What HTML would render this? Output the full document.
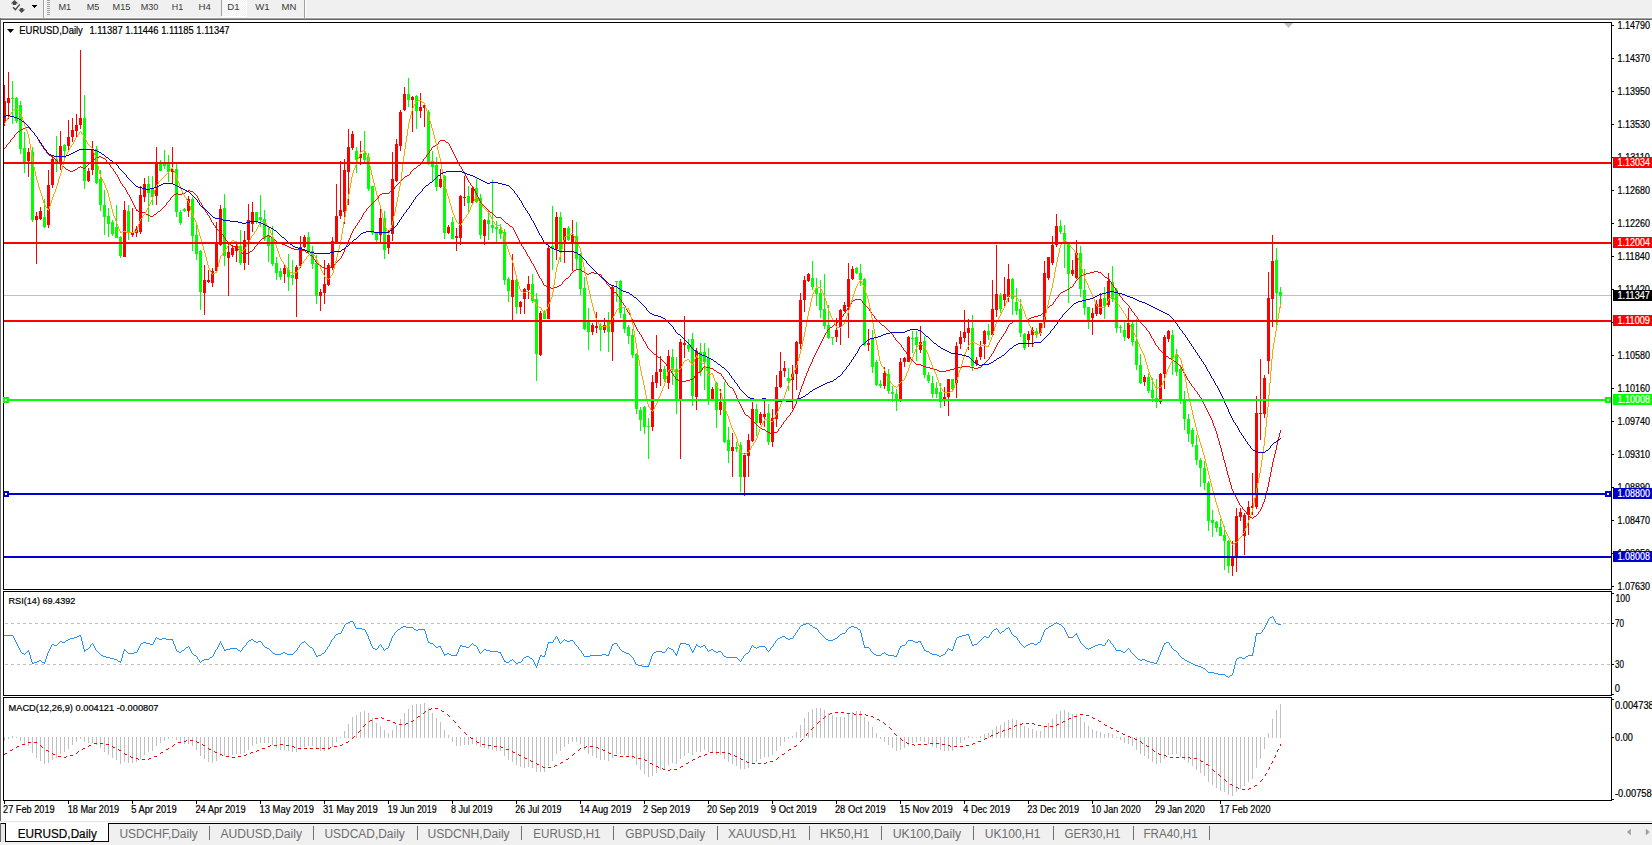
<!DOCTYPE html><html><head><meta charset="utf-8"><style>html,body{margin:0;padding:0;width:1652px;height:845px;overflow:hidden;background:#f0f0f0}svg{display:block}text{font-family:"Liberation Sans",sans-serif}</style></head><body>
<svg width="1652" height="845" viewBox="0 0 1652 845">
<g shape-rendering="crispEdges">
<rect x="0" y="0" width="1652" height="845" fill="#f0f0f0"/>
<rect x="0" y="17" width="1652" height="1" fill="#f8f8f8"/>
<rect x="0" y="18" width="1652" height="1" fill="#a0a0a0"/>
<rect x="0" y="19" width="1652" height="1" fill="#696969"/>
<rect x="1" y="20" width="1651" height="801" fill="#ffffff"/>
<rect x="0" y="18" width="1" height="803" fill="#696969"/>
<rect x="3" y="22" width="1609" height="1" fill="#000"/>
<rect x="3" y="589" width="1609" height="1" fill="#000"/>
<rect x="3" y="22" width="1" height="568" fill="#000"/>
<rect x="1611" y="22" width="1" height="568" fill="#000"/>
<rect x="3" y="591" width="1609" height="1" fill="#000"/>
<rect x="3" y="695" width="1609" height="1" fill="#000"/>
<rect x="3" y="591" width="1" height="105" fill="#000"/>
<rect x="1611" y="591" width="1" height="105" fill="#000"/>
<rect x="3" y="697" width="1609" height="1" fill="#000"/>
<rect x="3" y="800" width="1609" height="1" fill="#000"/>
<rect x="3" y="697" width="1" height="104" fill="#000"/>
<rect x="1611" y="697" width="1" height="104" fill="#000"/>
</g>
<g shape-rendering="crispEdges">
<rect x="43" y="0" width="1" height="18" fill="#a0a0a0"/>
<rect x="44" y="0" width="1" height="18" fill="#ffffff"/>
<rect x="47" y="0" width="3" height="1" fill="#a0a0a0"/>
<rect x="47" y="2" width="3" height="1" fill="#a0a0a0"/>
<rect x="47" y="4" width="3" height="1" fill="#a0a0a0"/>
<rect x="47" y="6" width="3" height="1" fill="#a0a0a0"/>
<rect x="47" y="8" width="3" height="1" fill="#a0a0a0"/>
<rect x="47" y="10" width="3" height="1" fill="#a0a0a0"/>
<rect x="47" y="12" width="3" height="1" fill="#a0a0a0"/>
<rect x="47" y="14" width="3" height="1" fill="#a0a0a0"/>
<rect x="221" y="0" width="1" height="16" fill="#a0a0a0"/>
<defs><pattern id="chk" x="0" y="0" width="2" height="2" patternUnits="userSpaceOnUse"><rect x="0" y="0" width="2" height="2" fill="#f0f0f0"/><rect x="0" y="0" width="1" height="1" fill="#ffffff"/><rect x="1" y="1" width="1" height="1" fill="#ffffff"/></pattern></defs>
<rect x="222" y="0" width="24" height="16" fill="url(#chk)"/>
<rect x="246" y="0" width="1" height="17" fill="#ffffff"/>
<rect x="221" y="16" width="26" height="1" fill="#ffffff"/>
<rect x="304" y="0" width="1" height="18" fill="#a0a0a0"/>
<rect x="305" y="0" width="1" height="18" fill="#ffffff"/>
</g>
<g fill="#4a4a4a">
<path d="M14.5 0 L18.2 3.6 L16.2 3.6 L16.2 5 L12.8 5 L12.8 3.6 L10.8 3.6 Z"/>
<path d="M20.2 8 L23.2 8 L23.2 9.4 L25.2 9.4 L21.7 13 L18.2 9.4 L20.2 9.4 Z"/>
</g>
<path d="M13 7.2 L15.4 9.6 L19.8 4.4" stroke="#4a4a4a" stroke-width="1.4" fill="none"/>
<path d="M31 5 L37 5 L34 8 Z" fill="#000" shape-rendering="crispEdges"/>
<text x="58.40" y="10" font-size="9.6" fill="#3a3a3a" textLength="12.81" lengthAdjust="spacingAndGlyphs">M1</text>
<text x="86.70" y="10" font-size="9.6" fill="#3a3a3a" textLength="12.61" lengthAdjust="spacingAndGlyphs">M5</text>
<text x="112.60" y="10" font-size="9.6" fill="#3a3a3a" textLength="17.70" lengthAdjust="spacingAndGlyphs">M15</text>
<text x="140.70" y="10" font-size="9.6" fill="#3a3a3a" textLength="17.70" lengthAdjust="spacingAndGlyphs">M30</text>
<text x="171.70" y="10" font-size="9.6" fill="#3a3a3a" textLength="11.40" lengthAdjust="spacingAndGlyphs">H1</text>
<text x="198.60" y="10" font-size="9.6" fill="#3a3a3a" textLength="12.30" lengthAdjust="spacingAndGlyphs">H4</text>
<text x="227.20" y="10" font-size="9.6" fill="#3a3a3a" textLength="12.30" lengthAdjust="spacingAndGlyphs">D1</text>
<text x="255.20" y="10" font-size="9.6" fill="#3a3a3a" textLength="14.30" lengthAdjust="spacingAndGlyphs">W1</text>
<text x="281.50" y="10" font-size="9.6" fill="#3a3a3a" textLength="14.90" lengthAdjust="spacingAndGlyphs">MN</text>
<svg x="4" y="23" width="1607" height="566" viewBox="4 23 1607 566" overflow="hidden">
<g shape-rendering="crispEdges">
<rect x="4" y="295" width="1607" height="1" fill="#c0c0c0"/>
<rect x="4" y="85" width="1" height="41" fill="#ff0000"/>
<rect x="3" y="101" width="3" height="22" fill="#ff0000"/>
<rect x="8" y="72" width="1" height="47" fill="#ff0000"/>
<rect x="7" y="98" width="3" height="5" fill="#ff0000"/>
<rect x="12" y="81" width="1" height="43" fill="#00ff00"/>
<rect x="11" y="98" width="3" height="1" fill="#00ff00"/>
<rect x="16" y="97" width="1" height="26" fill="#00ff00"/>
<rect x="15" y="98" width="3" height="23" fill="#00ff00"/>
<rect x="20" y="101" width="1" height="53" fill="#00ff00"/>
<rect x="19" y="105" width="3" height="44" fill="#00ff00"/>
<rect x="24" y="132" width="1" height="41" fill="#00ff00"/>
<rect x="23" y="148" width="3" height="15" fill="#00ff00"/>
<rect x="28" y="148" width="1" height="29" fill="#ff0000"/>
<rect x="27" y="152" width="3" height="9" fill="#ff0000"/>
<rect x="32" y="147" width="1" height="75" fill="#00ff00"/>
<rect x="31" y="152" width="3" height="68" fill="#00ff00"/>
<rect x="36" y="212" width="1" height="52" fill="#ff0000"/>
<rect x="35" y="216" width="3" height="4" fill="#ff0000"/>
<rect x="40" y="207" width="1" height="13" fill="#ff0000"/>
<rect x="39" y="211" width="3" height="8" fill="#ff0000"/>
<rect x="44" y="199" width="1" height="29" fill="#00ff00"/>
<rect x="43" y="217" width="3" height="10" fill="#00ff00"/>
<rect x="48" y="170" width="1" height="58" fill="#ff0000"/>
<rect x="47" y="185" width="3" height="40" fill="#ff0000"/>
<rect x="52" y="156" width="1" height="32" fill="#ff0000"/>
<rect x="51" y="159" width="3" height="26" fill="#ff0000"/>
<rect x="56" y="136" width="1" height="36" fill="#00ff00"/>
<rect x="55" y="159" width="3" height="3" fill="#00ff00"/>
<rect x="60" y="131" width="1" height="39" fill="#ff0000"/>
<rect x="59" y="146" width="3" height="18" fill="#ff0000"/>
<rect x="64" y="144" width="1" height="14" fill="#00ff00"/>
<rect x="63" y="145" width="3" height="6" fill="#00ff00"/>
<rect x="68" y="120" width="1" height="32" fill="#ff0000"/>
<rect x="67" y="137" width="3" height="9" fill="#ff0000"/>
<rect x="72" y="118" width="1" height="24" fill="#ff0000"/>
<rect x="71" y="130" width="3" height="7" fill="#ff0000"/>
<rect x="76" y="114" width="1" height="23" fill="#ff0000"/>
<rect x="75" y="125" width="3" height="6" fill="#ff0000"/>
<rect x="80" y="50" width="1" height="79" fill="#ff0000"/>
<rect x="79" y="118" width="3" height="7" fill="#ff0000"/>
<rect x="84" y="95" width="1" height="94" fill="#00ff00"/>
<rect x="83" y="118" width="3" height="63" fill="#00ff00"/>
<rect x="88" y="168" width="1" height="14" fill="#ff0000"/>
<rect x="87" y="171" width="3" height="10" fill="#ff0000"/>
<rect x="92" y="141" width="1" height="34" fill="#ff0000"/>
<rect x="91" y="149" width="3" height="21" fill="#ff0000"/>
<rect x="96" y="146" width="1" height="38" fill="#00ff00"/>
<rect x="95" y="149" width="3" height="34" fill="#00ff00"/>
<rect x="100" y="170" width="1" height="41" fill="#00ff00"/>
<rect x="99" y="179" width="3" height="26" fill="#00ff00"/>
<rect x="104" y="190" width="1" height="45" fill="#00ff00"/>
<rect x="103" y="205" width="3" height="12" fill="#00ff00"/>
<rect x="108" y="208" width="1" height="29" fill="#00ff00"/>
<rect x="107" y="216" width="3" height="8" fill="#00ff00"/>
<rect x="112" y="220" width="1" height="16" fill="#00ff00"/>
<rect x="111" y="222" width="3" height="12" fill="#00ff00"/>
<rect x="116" y="205" width="1" height="33" fill="#00ff00"/>
<rect x="115" y="227" width="3" height="11" fill="#00ff00"/>
<rect x="120" y="236" width="1" height="22" fill="#00ff00"/>
<rect x="119" y="237" width="3" height="19" fill="#00ff00"/>
<rect x="124" y="201" width="1" height="56" fill="#ff0000"/>
<rect x="123" y="210" width="3" height="47" fill="#ff0000"/>
<rect x="128" y="205" width="1" height="35" fill="#00ff00"/>
<rect x="127" y="211" width="3" height="22" fill="#00ff00"/>
<rect x="132" y="208" width="1" height="29" fill="#ff0000"/>
<rect x="131" y="233" width="3" height="2" fill="#ff0000"/>
<rect x="136" y="226" width="1" height="11" fill="#ff0000"/>
<rect x="135" y="229" width="3" height="4" fill="#ff0000"/>
<rect x="140" y="186" width="1" height="48" fill="#ff0000"/>
<rect x="139" y="195" width="3" height="37" fill="#ff0000"/>
<rect x="144" y="178" width="1" height="24" fill="#ff0000"/>
<rect x="143" y="184" width="3" height="13" fill="#ff0000"/>
<rect x="148" y="176" width="1" height="46" fill="#00ff00"/>
<rect x="147" y="184" width="3" height="9" fill="#00ff00"/>
<rect x="152" y="176" width="1" height="29" fill="#00ff00"/>
<rect x="151" y="188" width="3" height="9" fill="#00ff00"/>
<rect x="156" y="147" width="1" height="58" fill="#ff0000"/>
<rect x="155" y="163" width="3" height="33" fill="#ff0000"/>
<rect x="160" y="160" width="1" height="11" fill="#00ff00"/>
<rect x="159" y="164" width="3" height="7" fill="#00ff00"/>
<rect x="164" y="150" width="1" height="19" fill="#00ff00"/>
<rect x="163" y="164" width="3" height="2" fill="#00ff00"/>
<rect x="168" y="155" width="1" height="27" fill="#00ff00"/>
<rect x="167" y="164" width="3" height="8" fill="#00ff00"/>
<rect x="172" y="147" width="1" height="36" fill="#ff0000"/>
<rect x="171" y="169" width="3" height="3" fill="#ff0000"/>
<rect x="176" y="164" width="1" height="53" fill="#00ff00"/>
<rect x="175" y="169" width="3" height="43" fill="#00ff00"/>
<rect x="180" y="210" width="1" height="15" fill="#00ff00"/>
<rect x="179" y="212" width="3" height="11" fill="#00ff00"/>
<rect x="184" y="208" width="1" height="4" fill="#00ff00"/>
<rect x="183" y="209" width="3" height="2" fill="#00ff00"/>
<rect x="188" y="196" width="1" height="21" fill="#ff0000"/>
<rect x="187" y="199" width="3" height="12" fill="#ff0000"/>
<rect x="192" y="197" width="1" height="54" fill="#00ff00"/>
<rect x="191" y="199" width="3" height="37" fill="#00ff00"/>
<rect x="196" y="225" width="1" height="35" fill="#00ff00"/>
<rect x="195" y="235" width="3" height="19" fill="#00ff00"/>
<rect x="200" y="250" width="1" height="60" fill="#00ff00"/>
<rect x="199" y="251" width="3" height="41" fill="#00ff00"/>
<rect x="204" y="265" width="1" height="50" fill="#ff0000"/>
<rect x="203" y="280" width="3" height="13" fill="#ff0000"/>
<rect x="208" y="270" width="1" height="13" fill="#ff0000"/>
<rect x="207" y="280" width="3" height="2" fill="#ff0000"/>
<rect x="212" y="268" width="1" height="19" fill="#ff0000"/>
<rect x="211" y="271" width="3" height="12" fill="#ff0000"/>
<rect x="216" y="222" width="1" height="51" fill="#ff0000"/>
<rect x="215" y="243" width="3" height="28" fill="#ff0000"/>
<rect x="220" y="205" width="1" height="41" fill="#ff0000"/>
<rect x="219" y="209" width="3" height="36" fill="#ff0000"/>
<rect x="224" y="194" width="1" height="72" fill="#00ff00"/>
<rect x="223" y="208" width="3" height="48" fill="#00ff00"/>
<rect x="228" y="243" width="1" height="53" fill="#ff0000"/>
<rect x="227" y="252" width="3" height="6" fill="#ff0000"/>
<rect x="232" y="245" width="1" height="12" fill="#ff0000"/>
<rect x="231" y="248" width="3" height="7" fill="#ff0000"/>
<rect x="236" y="243" width="1" height="19" fill="#ff0000"/>
<rect x="235" y="246" width="3" height="5" fill="#ff0000"/>
<rect x="240" y="230" width="1" height="35" fill="#00ff00"/>
<rect x="239" y="246" width="3" height="17" fill="#00ff00"/>
<rect x="244" y="231" width="1" height="39" fill="#ff0000"/>
<rect x="243" y="240" width="3" height="23" fill="#ff0000"/>
<rect x="248" y="204" width="1" height="61" fill="#ff0000"/>
<rect x="247" y="220" width="3" height="20" fill="#ff0000"/>
<rect x="252" y="202" width="1" height="30" fill="#ff0000"/>
<rect x="251" y="212" width="3" height="12" fill="#ff0000"/>
<rect x="256" y="212" width="1" height="12" fill="#00ff00"/>
<rect x="255" y="212" width="3" height="10" fill="#00ff00"/>
<rect x="260" y="195" width="1" height="32" fill="#00ff00"/>
<rect x="259" y="217" width="3" height="3" fill="#00ff00"/>
<rect x="264" y="210" width="1" height="31" fill="#00ff00"/>
<rect x="263" y="219" width="3" height="20" fill="#00ff00"/>
<rect x="268" y="226" width="1" height="36" fill="#00ff00"/>
<rect x="267" y="235" width="3" height="11" fill="#00ff00"/>
<rect x="272" y="226" width="1" height="40" fill="#00ff00"/>
<rect x="271" y="237" width="3" height="27" fill="#00ff00"/>
<rect x="276" y="257" width="1" height="23" fill="#00ff00"/>
<rect x="275" y="263" width="3" height="10" fill="#00ff00"/>
<rect x="280" y="268" width="1" height="12" fill="#00ff00"/>
<rect x="279" y="271" width="3" height="6" fill="#00ff00"/>
<rect x="284" y="265" width="1" height="18" fill="#ff0000"/>
<rect x="283" y="268" width="3" height="6" fill="#ff0000"/>
<rect x="288" y="254" width="1" height="37" fill="#00ff00"/>
<rect x="287" y="270" width="3" height="7" fill="#00ff00"/>
<rect x="292" y="260" width="1" height="25" fill="#00ff00"/>
<rect x="291" y="275" width="3" height="3" fill="#00ff00"/>
<rect x="296" y="265" width="1" height="52" fill="#ff0000"/>
<rect x="295" y="267" width="3" height="12" fill="#ff0000"/>
<rect x="300" y="236" width="1" height="32" fill="#ff0000"/>
<rect x="299" y="247" width="3" height="19" fill="#ff0000"/>
<rect x="304" y="235" width="1" height="13" fill="#ff0000"/>
<rect x="303" y="237" width="3" height="10" fill="#ff0000"/>
<rect x="308" y="232" width="1" height="21" fill="#00ff00"/>
<rect x="307" y="237" width="3" height="15" fill="#00ff00"/>
<rect x="312" y="246" width="1" height="23" fill="#00ff00"/>
<rect x="311" y="251" width="3" height="13" fill="#00ff00"/>
<rect x="316" y="255" width="1" height="49" fill="#00ff00"/>
<rect x="315" y="263" width="3" height="33" fill="#00ff00"/>
<rect x="320" y="289" width="1" height="22" fill="#ff0000"/>
<rect x="319" y="292" width="3" height="4" fill="#ff0000"/>
<rect x="324" y="260" width="1" height="44" fill="#ff0000"/>
<rect x="323" y="284" width="3" height="9" fill="#ff0000"/>
<rect x="328" y="263" width="1" height="23" fill="#ff0000"/>
<rect x="327" y="265" width="3" height="20" fill="#ff0000"/>
<rect x="332" y="237" width="1" height="33" fill="#ff0000"/>
<rect x="331" y="241" width="3" height="27" fill="#ff0000"/>
<rect x="336" y="184" width="1" height="59" fill="#ff0000"/>
<rect x="335" y="216" width="3" height="26" fill="#ff0000"/>
<rect x="340" y="161" width="1" height="58" fill="#ff0000"/>
<rect x="339" y="210" width="3" height="6" fill="#ff0000"/>
<rect x="344" y="159" width="1" height="65" fill="#ff0000"/>
<rect x="343" y="170" width="3" height="42" fill="#ff0000"/>
<rect x="348" y="129" width="1" height="76" fill="#ff0000"/>
<rect x="347" y="147" width="3" height="25" fill="#ff0000"/>
<rect x="352" y="131" width="1" height="19" fill="#ff0000"/>
<rect x="351" y="134" width="3" height="14" fill="#ff0000"/>
<rect x="356" y="147" width="1" height="26" fill="#00ff00"/>
<rect x="355" y="151" width="3" height="9" fill="#00ff00"/>
<rect x="360" y="141" width="1" height="24" fill="#ff0000"/>
<rect x="359" y="154" width="3" height="4" fill="#ff0000"/>
<rect x="364" y="131" width="1" height="31" fill="#00ff00"/>
<rect x="363" y="153" width="3" height="7" fill="#00ff00"/>
<rect x="368" y="153" width="1" height="38" fill="#00ff00"/>
<rect x="367" y="157" width="3" height="32" fill="#00ff00"/>
<rect x="372" y="186" width="1" height="49" fill="#00ff00"/>
<rect x="371" y="186" width="3" height="47" fill="#00ff00"/>
<rect x="376" y="232" width="1" height="10" fill="#00ff00"/>
<rect x="375" y="233" width="3" height="7" fill="#00ff00"/>
<rect x="380" y="209" width="1" height="34" fill="#ff0000"/>
<rect x="379" y="218" width="3" height="17" fill="#ff0000"/>
<rect x="384" y="211" width="1" height="48" fill="#00ff00"/>
<rect x="383" y="218" width="3" height="32" fill="#00ff00"/>
<rect x="388" y="230" width="1" height="24" fill="#ff0000"/>
<rect x="387" y="235" width="3" height="13" fill="#ff0000"/>
<rect x="392" y="152" width="1" height="89" fill="#ff0000"/>
<rect x="391" y="179" width="3" height="55" fill="#ff0000"/>
<rect x="396" y="139" width="1" height="43" fill="#ff0000"/>
<rect x="395" y="144" width="3" height="37" fill="#ff0000"/>
<rect x="400" y="110" width="1" height="41" fill="#ff0000"/>
<rect x="399" y="112" width="3" height="34" fill="#ff0000"/>
<rect x="404" y="87" width="1" height="24" fill="#ff0000"/>
<rect x="403" y="94" width="3" height="16" fill="#ff0000"/>
<rect x="408" y="78" width="1" height="29" fill="#00ff00"/>
<rect x="407" y="94" width="3" height="6" fill="#00ff00"/>
<rect x="412" y="96" width="1" height="36" fill="#ff0000"/>
<rect x="411" y="97" width="3" height="3" fill="#ff0000"/>
<rect x="416" y="95" width="1" height="34" fill="#00ff00"/>
<rect x="415" y="96" width="3" height="15" fill="#00ff00"/>
<rect x="420" y="93" width="1" height="25" fill="#ff0000"/>
<rect x="419" y="107" width="3" height="4" fill="#ff0000"/>
<rect x="424" y="104" width="1" height="23" fill="#ff0000"/>
<rect x="423" y="105" width="3" height="3" fill="#ff0000"/>
<rect x="428" y="110" width="1" height="55" fill="#00ff00"/>
<rect x="427" y="112" width="3" height="51" fill="#00ff00"/>
<rect x="432" y="151" width="1" height="30" fill="#00ff00"/>
<rect x="431" y="161" width="3" height="6" fill="#00ff00"/>
<rect x="436" y="157" width="1" height="34" fill="#00ff00"/>
<rect x="435" y="165" width="3" height="22" fill="#00ff00"/>
<rect x="440" y="169" width="1" height="19" fill="#ff0000"/>
<rect x="439" y="179" width="3" height="8" fill="#ff0000"/>
<rect x="444" y="175" width="1" height="64" fill="#00ff00"/>
<rect x="443" y="176" width="3" height="57" fill="#00ff00"/>
<rect x="448" y="225" width="1" height="9" fill="#ff0000"/>
<rect x="447" y="227" width="3" height="6" fill="#ff0000"/>
<rect x="452" y="217" width="1" height="22" fill="#00ff00"/>
<rect x="451" y="222" width="3" height="17" fill="#00ff00"/>
<rect x="456" y="228" width="1" height="23" fill="#ff0000"/>
<rect x="455" y="236" width="3" height="2" fill="#ff0000"/>
<rect x="460" y="195" width="1" height="50" fill="#ff0000"/>
<rect x="459" y="196" width="3" height="42" fill="#ff0000"/>
<rect x="464" y="176" width="1" height="30" fill="#ff0000"/>
<rect x="463" y="197" width="3" height="1" fill="#ff0000"/>
<rect x="468" y="186" width="1" height="27" fill="#00ff00"/>
<rect x="467" y="196" width="3" height="7" fill="#00ff00"/>
<rect x="472" y="187" width="1" height="17" fill="#ff0000"/>
<rect x="471" y="188" width="3" height="15" fill="#ff0000"/>
<rect x="476" y="179" width="1" height="24" fill="#00ff00"/>
<rect x="475" y="188" width="3" height="14" fill="#00ff00"/>
<rect x="480" y="194" width="1" height="45" fill="#00ff00"/>
<rect x="479" y="198" width="3" height="37" fill="#00ff00"/>
<rect x="484" y="219" width="1" height="26" fill="#ff0000"/>
<rect x="483" y="220" width="3" height="16" fill="#ff0000"/>
<rect x="488" y="210" width="1" height="30" fill="#00ff00"/>
<rect x="487" y="220" width="3" height="4" fill="#00ff00"/>
<rect x="492" y="180" width="1" height="53" fill="#00ff00"/>
<rect x="491" y="225" width="3" height="3" fill="#00ff00"/>
<rect x="496" y="221" width="1" height="21" fill="#00ff00"/>
<rect x="495" y="227" width="3" height="2" fill="#00ff00"/>
<rect x="500" y="224" width="1" height="15" fill="#00ff00"/>
<rect x="499" y="229" width="3" height="5" fill="#00ff00"/>
<rect x="504" y="229" width="1" height="56" fill="#00ff00"/>
<rect x="503" y="232" width="3" height="48" fill="#00ff00"/>
<rect x="508" y="277" width="1" height="25" fill="#00ff00"/>
<rect x="507" y="279" width="3" height="12" fill="#00ff00"/>
<rect x="512" y="254" width="1" height="68" fill="#ff0000"/>
<rect x="511" y="280" width="3" height="17" fill="#ff0000"/>
<rect x="516" y="275" width="1" height="39" fill="#00ff00"/>
<rect x="515" y="280" width="3" height="27" fill="#00ff00"/>
<rect x="520" y="301" width="1" height="13" fill="#ff0000"/>
<rect x="519" y="302" width="3" height="5" fill="#ff0000"/>
<rect x="524" y="288" width="1" height="26" fill="#ff0000"/>
<rect x="523" y="289" width="3" height="10" fill="#ff0000"/>
<rect x="528" y="276" width="1" height="23" fill="#ff0000"/>
<rect x="527" y="284" width="3" height="6" fill="#ff0000"/>
<rect x="532" y="274" width="1" height="29" fill="#00ff00"/>
<rect x="531" y="284" width="3" height="17" fill="#00ff00"/>
<rect x="536" y="293" width="1" height="88" fill="#00ff00"/>
<rect x="535" y="299" width="3" height="55" fill="#00ff00"/>
<rect x="540" y="311" width="1" height="45" fill="#ff0000"/>
<rect x="539" y="313" width="3" height="42" fill="#ff0000"/>
<rect x="544" y="310" width="1" height="9" fill="#00ff00"/>
<rect x="543" y="313" width="3" height="6" fill="#00ff00"/>
<rect x="548" y="246" width="1" height="73" fill="#ff0000"/>
<rect x="547" y="248" width="3" height="71" fill="#ff0000"/>
<rect x="552" y="206" width="1" height="64" fill="#00ff00"/>
<rect x="551" y="246" width="3" height="3" fill="#00ff00"/>
<rect x="556" y="212" width="1" height="48" fill="#ff0000"/>
<rect x="555" y="217" width="3" height="32" fill="#ff0000"/>
<rect x="560" y="212" width="1" height="50" fill="#00ff00"/>
<rect x="559" y="217" width="3" height="34" fill="#00ff00"/>
<rect x="564" y="228" width="1" height="35" fill="#ff0000"/>
<rect x="563" y="228" width="3" height="14" fill="#ff0000"/>
<rect x="568" y="226" width="1" height="15" fill="#00ff00"/>
<rect x="567" y="228" width="3" height="12" fill="#00ff00"/>
<rect x="572" y="220" width="1" height="51" fill="#ff0000"/>
<rect x="571" y="235" width="3" height="8" fill="#ff0000"/>
<rect x="576" y="222" width="1" height="48" fill="#00ff00"/>
<rect x="575" y="236" width="3" height="23" fill="#00ff00"/>
<rect x="580" y="253" width="1" height="42" fill="#00ff00"/>
<rect x="579" y="254" width="3" height="35" fill="#00ff00"/>
<rect x="584" y="277" width="1" height="53" fill="#00ff00"/>
<rect x="583" y="288" width="3" height="41" fill="#00ff00"/>
<rect x="588" y="308" width="1" height="42" fill="#00ff00"/>
<rect x="587" y="320" width="3" height="12" fill="#00ff00"/>
<rect x="592" y="323" width="1" height="12" fill="#ff0000"/>
<rect x="591" y="325" width="3" height="7" fill="#ff0000"/>
<rect x="596" y="312" width="1" height="21" fill="#ff0000"/>
<rect x="595" y="326" width="3" height="2" fill="#ff0000"/>
<rect x="600" y="323" width="1" height="28" fill="#00ff00"/>
<rect x="599" y="326" width="3" height="4" fill="#00ff00"/>
<rect x="604" y="318" width="1" height="15" fill="#ff0000"/>
<rect x="603" y="325" width="3" height="5" fill="#ff0000"/>
<rect x="608" y="312" width="1" height="40" fill="#00ff00"/>
<rect x="607" y="321" width="3" height="11" fill="#00ff00"/>
<rect x="612" y="286" width="1" height="75" fill="#ff0000"/>
<rect x="611" y="287" width="3" height="45" fill="#ff0000"/>
<rect x="616" y="281" width="1" height="21" fill="#00ff00"/>
<rect x="615" y="281" width="3" height="1" fill="#00ff00"/>
<rect x="620" y="280" width="1" height="38" fill="#00ff00"/>
<rect x="619" y="281" width="3" height="32" fill="#00ff00"/>
<rect x="624" y="307" width="1" height="26" fill="#00ff00"/>
<rect x="623" y="314" width="3" height="15" fill="#00ff00"/>
<rect x="628" y="325" width="1" height="19" fill="#00ff00"/>
<rect x="627" y="327" width="3" height="9" fill="#00ff00"/>
<rect x="632" y="329" width="1" height="29" fill="#00ff00"/>
<rect x="631" y="335" width="3" height="20" fill="#00ff00"/>
<rect x="636" y="353" width="1" height="61" fill="#00ff00"/>
<rect x="635" y="354" width="3" height="55" fill="#00ff00"/>
<rect x="640" y="407" width="1" height="24" fill="#00ff00"/>
<rect x="639" y="410" width="3" height="10" fill="#00ff00"/>
<rect x="644" y="406" width="1" height="28" fill="#00ff00"/>
<rect x="643" y="407" width="3" height="20" fill="#00ff00"/>
<rect x="648" y="418" width="1" height="41" fill="#00ff00"/>
<rect x="647" y="426" width="3" height="1" fill="#00ff00"/>
<rect x="652" y="375" width="1" height="56" fill="#ff0000"/>
<rect x="651" y="382" width="3" height="45" fill="#ff0000"/>
<rect x="656" y="335" width="1" height="53" fill="#ff0000"/>
<rect x="655" y="372" width="3" height="11" fill="#ff0000"/>
<rect x="660" y="356" width="1" height="30" fill="#ff0000"/>
<rect x="659" y="369" width="3" height="3" fill="#ff0000"/>
<rect x="664" y="366" width="1" height="16" fill="#00ff00"/>
<rect x="663" y="369" width="3" height="10" fill="#00ff00"/>
<rect x="668" y="350" width="1" height="39" fill="#ff0000"/>
<rect x="667" y="356" width="3" height="27" fill="#ff0000"/>
<rect x="672" y="349" width="1" height="36" fill="#00ff00"/>
<rect x="671" y="357" width="3" height="13" fill="#00ff00"/>
<rect x="676" y="357" width="1" height="57" fill="#00ff00"/>
<rect x="675" y="369" width="3" height="32" fill="#00ff00"/>
<rect x="680" y="339" width="1" height="120" fill="#ff0000"/>
<rect x="679" y="342" width="3" height="59" fill="#ff0000"/>
<rect x="684" y="316" width="1" height="42" fill="#ff0000"/>
<rect x="683" y="343" width="3" height="2" fill="#ff0000"/>
<rect x="688" y="339" width="1" height="13" fill="#00ff00"/>
<rect x="687" y="345" width="3" height="4" fill="#00ff00"/>
<rect x="692" y="333" width="1" height="73" fill="#00ff00"/>
<rect x="691" y="339" width="3" height="57" fill="#00ff00"/>
<rect x="696" y="348" width="1" height="62" fill="#ff0000"/>
<rect x="695" y="351" width="3" height="46" fill="#ff0000"/>
<rect x="700" y="343" width="1" height="33" fill="#00ff00"/>
<rect x="699" y="352" width="3" height="20" fill="#00ff00"/>
<rect x="704" y="343" width="1" height="47" fill="#00ff00"/>
<rect x="703" y="352" width="3" height="10" fill="#00ff00"/>
<rect x="708" y="348" width="1" height="57" fill="#00ff00"/>
<rect x="707" y="358" width="3" height="43" fill="#00ff00"/>
<rect x="712" y="387" width="1" height="12" fill="#ff0000"/>
<rect x="711" y="389" width="3" height="10" fill="#ff0000"/>
<rect x="716" y="382" width="1" height="46" fill="#00ff00"/>
<rect x="715" y="383" width="3" height="27" fill="#00ff00"/>
<rect x="720" y="389" width="1" height="26" fill="#ff0000"/>
<rect x="719" y="402" width="3" height="8" fill="#ff0000"/>
<rect x="724" y="382" width="1" height="61" fill="#00ff00"/>
<rect x="723" y="402" width="3" height="40" fill="#00ff00"/>
<rect x="728" y="427" width="1" height="36" fill="#00ff00"/>
<rect x="727" y="440" width="3" height="11" fill="#00ff00"/>
<rect x="732" y="433" width="1" height="44" fill="#ff0000"/>
<rect x="731" y="447" width="3" height="4" fill="#ff0000"/>
<rect x="736" y="442" width="1" height="10" fill="#00ff00"/>
<rect x="735" y="447" width="3" height="2" fill="#00ff00"/>
<rect x="740" y="442" width="1" height="50" fill="#00ff00"/>
<rect x="739" y="445" width="3" height="32" fill="#00ff00"/>
<rect x="744" y="453" width="1" height="43" fill="#ff0000"/>
<rect x="743" y="455" width="3" height="22" fill="#ff0000"/>
<rect x="748" y="434" width="1" height="43" fill="#ff0000"/>
<rect x="747" y="440" width="3" height="16" fill="#ff0000"/>
<rect x="752" y="402" width="1" height="40" fill="#ff0000"/>
<rect x="751" y="409" width="3" height="32" fill="#ff0000"/>
<rect x="756" y="404" width="1" height="32" fill="#00ff00"/>
<rect x="755" y="409" width="3" height="14" fill="#00ff00"/>
<rect x="760" y="412" width="1" height="13" fill="#ff0000"/>
<rect x="759" y="414" width="3" height="9" fill="#ff0000"/>
<rect x="764" y="401" width="1" height="26" fill="#ff0000"/>
<rect x="763" y="414" width="3" height="3" fill="#ff0000"/>
<rect x="768" y="404" width="1" height="41" fill="#00ff00"/>
<rect x="767" y="413" width="3" height="29" fill="#00ff00"/>
<rect x="772" y="409" width="1" height="38" fill="#ff0000"/>
<rect x="771" y="418" width="3" height="24" fill="#ff0000"/>
<rect x="776" y="375" width="1" height="52" fill="#ff0000"/>
<rect x="775" y="387" width="3" height="32" fill="#ff0000"/>
<rect x="780" y="352" width="1" height="36" fill="#ff0000"/>
<rect x="779" y="371" width="3" height="16" fill="#ff0000"/>
<rect x="784" y="361" width="1" height="16" fill="#ff0000"/>
<rect x="783" y="368" width="3" height="3" fill="#ff0000"/>
<rect x="788" y="368" width="1" height="23" fill="#00ff00"/>
<rect x="787" y="378" width="3" height="3" fill="#00ff00"/>
<rect x="792" y="365" width="1" height="44" fill="#ff0000"/>
<rect x="791" y="374" width="3" height="6" fill="#ff0000"/>
<rect x="796" y="341" width="1" height="49" fill="#ff0000"/>
<rect x="795" y="342" width="3" height="32" fill="#ff0000"/>
<rect x="800" y="293" width="1" height="56" fill="#ff0000"/>
<rect x="799" y="300" width="3" height="44" fill="#ff0000"/>
<rect x="804" y="276" width="1" height="36" fill="#ff0000"/>
<rect x="803" y="280" width="3" height="20" fill="#ff0000"/>
<rect x="808" y="273" width="1" height="9" fill="#ff0000"/>
<rect x="807" y="274" width="3" height="7" fill="#ff0000"/>
<rect x="812" y="261" width="1" height="29" fill="#00ff00"/>
<rect x="811" y="278" width="3" height="9" fill="#00ff00"/>
<rect x="816" y="278" width="1" height="28" fill="#00ff00"/>
<rect x="815" y="288" width="3" height="6" fill="#00ff00"/>
<rect x="820" y="280" width="1" height="38" fill="#00ff00"/>
<rect x="819" y="293" width="3" height="17" fill="#00ff00"/>
<rect x="824" y="274" width="1" height="55" fill="#00ff00"/>
<rect x="823" y="309" width="3" height="17" fill="#00ff00"/>
<rect x="828" y="305" width="1" height="34" fill="#00ff00"/>
<rect x="827" y="325" width="3" height="13" fill="#00ff00"/>
<rect x="832" y="337" width="1" height="8" fill="#00ff00"/>
<rect x="831" y="337" width="3" height="1" fill="#00ff00"/>
<rect x="836" y="318" width="1" height="24" fill="#ff0000"/>
<rect x="835" y="330" width="3" height="7" fill="#ff0000"/>
<rect x="840" y="309" width="1" height="36" fill="#ff0000"/>
<rect x="839" y="310" width="3" height="17" fill="#ff0000"/>
<rect x="844" y="302" width="1" height="10" fill="#ff0000"/>
<rect x="843" y="305" width="3" height="6" fill="#ff0000"/>
<rect x="848" y="263" width="1" height="75" fill="#ff0000"/>
<rect x="847" y="279" width="3" height="28" fill="#ff0000"/>
<rect x="852" y="266" width="1" height="14" fill="#ff0000"/>
<rect x="851" y="269" width="3" height="10" fill="#ff0000"/>
<rect x="856" y="267" width="1" height="7" fill="#00ff00"/>
<rect x="855" y="268" width="3" height="5" fill="#00ff00"/>
<rect x="860" y="264" width="1" height="22" fill="#00ff00"/>
<rect x="859" y="273" width="3" height="7" fill="#00ff00"/>
<rect x="864" y="278" width="1" height="68" fill="#00ff00"/>
<rect x="863" y="279" width="3" height="66" fill="#00ff00"/>
<rect x="868" y="329" width="1" height="22" fill="#ff0000"/>
<rect x="867" y="343" width="3" height="2" fill="#ff0000"/>
<rect x="872" y="330" width="1" height="43" fill="#00ff00"/>
<rect x="871" y="339" width="3" height="28" fill="#00ff00"/>
<rect x="876" y="360" width="1" height="26" fill="#00ff00"/>
<rect x="875" y="362" width="3" height="23" fill="#00ff00"/>
<rect x="880" y="380" width="1" height="8" fill="#00ff00"/>
<rect x="879" y="384" width="3" height="2" fill="#00ff00"/>
<rect x="884" y="367" width="1" height="22" fill="#ff0000"/>
<rect x="883" y="373" width="3" height="13" fill="#ff0000"/>
<rect x="888" y="369" width="1" height="25" fill="#00ff00"/>
<rect x="887" y="374" width="3" height="17" fill="#00ff00"/>
<rect x="892" y="386" width="1" height="16" fill="#00ff00"/>
<rect x="891" y="392" width="3" height="2" fill="#00ff00"/>
<rect x="896" y="389" width="1" height="22" fill="#00ff00"/>
<rect x="895" y="394" width="3" height="5" fill="#00ff00"/>
<rect x="900" y="358" width="1" height="44" fill="#ff0000"/>
<rect x="899" y="362" width="3" height="38" fill="#ff0000"/>
<rect x="904" y="357" width="1" height="10" fill="#ff0000"/>
<rect x="903" y="358" width="3" height="4" fill="#ff0000"/>
<rect x="908" y="336" width="1" height="26" fill="#ff0000"/>
<rect x="907" y="337" width="3" height="25" fill="#ff0000"/>
<rect x="912" y="331" width="1" height="22" fill="#00ff00"/>
<rect x="911" y="338" width="3" height="1" fill="#00ff00"/>
<rect x="916" y="331" width="1" height="30" fill="#00ff00"/>
<rect x="915" y="337" width="3" height="8" fill="#00ff00"/>
<rect x="920" y="326" width="1" height="27" fill="#ff0000"/>
<rect x="919" y="342" width="3" height="8" fill="#ff0000"/>
<rect x="924" y="336" width="1" height="42" fill="#00ff00"/>
<rect x="923" y="341" width="3" height="34" fill="#00ff00"/>
<rect x="928" y="372" width="1" height="11" fill="#00ff00"/>
<rect x="927" y="375" width="3" height="6" fill="#00ff00"/>
<rect x="932" y="376" width="1" height="22" fill="#00ff00"/>
<rect x="931" y="383" width="3" height="11" fill="#00ff00"/>
<rect x="936" y="382" width="1" height="16" fill="#00ff00"/>
<rect x="935" y="388" width="3" height="6" fill="#00ff00"/>
<rect x="940" y="383" width="1" height="25" fill="#00ff00"/>
<rect x="939" y="392" width="3" height="10" fill="#00ff00"/>
<rect x="944" y="387" width="1" height="19" fill="#ff0000"/>
<rect x="943" y="397" width="3" height="4" fill="#ff0000"/>
<rect x="948" y="379" width="1" height="37" fill="#ff0000"/>
<rect x="947" y="379" width="3" height="18" fill="#ff0000"/>
<rect x="952" y="379" width="1" height="11" fill="#00ff00"/>
<rect x="951" y="379" width="3" height="10" fill="#00ff00"/>
<rect x="956" y="342" width="1" height="56" fill="#ff0000"/>
<rect x="955" y="346" width="3" height="37" fill="#ff0000"/>
<rect x="960" y="331" width="1" height="18" fill="#ff0000"/>
<rect x="959" y="337" width="3" height="7" fill="#ff0000"/>
<rect x="964" y="310" width="1" height="32" fill="#ff0000"/>
<rect x="963" y="332" width="3" height="6" fill="#ff0000"/>
<rect x="968" y="319" width="1" height="31" fill="#ff0000"/>
<rect x="967" y="328" width="3" height="5" fill="#ff0000"/>
<rect x="972" y="315" width="1" height="56" fill="#00ff00"/>
<rect x="971" y="328" width="3" height="38" fill="#00ff00"/>
<rect x="976" y="357" width="1" height="9" fill="#ff0000"/>
<rect x="975" y="360" width="3" height="4" fill="#ff0000"/>
<rect x="980" y="341" width="1" height="19" fill="#ff0000"/>
<rect x="979" y="347" width="3" height="10" fill="#ff0000"/>
<rect x="984" y="330" width="1" height="29" fill="#ff0000"/>
<rect x="983" y="331" width="3" height="13" fill="#ff0000"/>
<rect x="988" y="324" width="1" height="16" fill="#00ff00"/>
<rect x="987" y="331" width="3" height="4" fill="#00ff00"/>
<rect x="992" y="280" width="1" height="56" fill="#ff0000"/>
<rect x="991" y="309" width="3" height="26" fill="#ff0000"/>
<rect x="996" y="245" width="1" height="72" fill="#ff0000"/>
<rect x="995" y="294" width="3" height="16" fill="#ff0000"/>
<rect x="1000" y="293" width="1" height="20" fill="#00ff00"/>
<rect x="999" y="295" width="3" height="14" fill="#00ff00"/>
<rect x="1004" y="277" width="1" height="29" fill="#ff0000"/>
<rect x="1003" y="294" width="3" height="6" fill="#ff0000"/>
<rect x="1008" y="264" width="1" height="38" fill="#ff0000"/>
<rect x="1007" y="279" width="3" height="18" fill="#ff0000"/>
<rect x="1012" y="278" width="1" height="37" fill="#00ff00"/>
<rect x="1011" y="279" width="3" height="20" fill="#00ff00"/>
<rect x="1016" y="288" width="1" height="27" fill="#00ff00"/>
<rect x="1015" y="302" width="3" height="9" fill="#00ff00"/>
<rect x="1020" y="299" width="1" height="38" fill="#00ff00"/>
<rect x="1019" y="309" width="3" height="24" fill="#00ff00"/>
<rect x="1024" y="333" width="1" height="17" fill="#00ff00"/>
<rect x="1023" y="334" width="3" height="14" fill="#00ff00"/>
<rect x="1028" y="331" width="1" height="16" fill="#ff0000"/>
<rect x="1027" y="334" width="3" height="6" fill="#ff0000"/>
<rect x="1032" y="327" width="1" height="20" fill="#ff0000"/>
<rect x="1031" y="330" width="3" height="5" fill="#ff0000"/>
<rect x="1036" y="328" width="1" height="10" fill="#00ff00"/>
<rect x="1035" y="331" width="3" height="4" fill="#00ff00"/>
<rect x="1040" y="323" width="1" height="13" fill="#ff0000"/>
<rect x="1039" y="323" width="3" height="10" fill="#ff0000"/>
<rect x="1044" y="261" width="1" height="67" fill="#ff0000"/>
<rect x="1043" y="273" width="3" height="49" fill="#ff0000"/>
<rect x="1048" y="257" width="1" height="23" fill="#ff0000"/>
<rect x="1047" y="257" width="3" height="21" fill="#ff0000"/>
<rect x="1052" y="236" width="1" height="29" fill="#ff0000"/>
<rect x="1051" y="245" width="3" height="18" fill="#ff0000"/>
<rect x="1056" y="214" width="1" height="33" fill="#ff0000"/>
<rect x="1055" y="226" width="3" height="19" fill="#ff0000"/>
<rect x="1060" y="220" width="1" height="14" fill="#00ff00"/>
<rect x="1059" y="226" width="3" height="6" fill="#00ff00"/>
<rect x="1064" y="225" width="1" height="43" fill="#00ff00"/>
<rect x="1063" y="233" width="3" height="11" fill="#00ff00"/>
<rect x="1068" y="242" width="1" height="61" fill="#00ff00"/>
<rect x="1067" y="244" width="3" height="30" fill="#00ff00"/>
<rect x="1072" y="260" width="1" height="16" fill="#ff0000"/>
<rect x="1071" y="270" width="3" height="4" fill="#ff0000"/>
<rect x="1076" y="240" width="1" height="39" fill="#ff0000"/>
<rect x="1075" y="253" width="3" height="25" fill="#ff0000"/>
<rect x="1080" y="246" width="1" height="51" fill="#00ff00"/>
<rect x="1079" y="253" width="3" height="36" fill="#00ff00"/>
<rect x="1084" y="269" width="1" height="46" fill="#00ff00"/>
<rect x="1083" y="290" width="3" height="18" fill="#00ff00"/>
<rect x="1088" y="307" width="1" height="22" fill="#00ff00"/>
<rect x="1087" y="307" width="3" height="13" fill="#00ff00"/>
<rect x="1092" y="308" width="1" height="27" fill="#ff0000"/>
<rect x="1091" y="313" width="3" height="5" fill="#ff0000"/>
<rect x="1096" y="300" width="1" height="16" fill="#ff0000"/>
<rect x="1095" y="304" width="3" height="10" fill="#ff0000"/>
<rect x="1100" y="293" width="1" height="22" fill="#ff0000"/>
<rect x="1099" y="299" width="3" height="15" fill="#ff0000"/>
<rect x="1104" y="287" width="1" height="32" fill="#00ff00"/>
<rect x="1103" y="298" width="3" height="8" fill="#00ff00"/>
<rect x="1108" y="273" width="1" height="34" fill="#ff0000"/>
<rect x="1107" y="281" width="3" height="24" fill="#ff0000"/>
<rect x="1112" y="266" width="1" height="36" fill="#00ff00"/>
<rect x="1111" y="282" width="3" height="17" fill="#00ff00"/>
<rect x="1116" y="288" width="1" height="45" fill="#00ff00"/>
<rect x="1115" y="290" width="3" height="38" fill="#00ff00"/>
<rect x="1120" y="325" width="1" height="8" fill="#00ff00"/>
<rect x="1119" y="327" width="3" height="1" fill="#00ff00"/>
<rect x="1124" y="322" width="1" height="19" fill="#00ff00"/>
<rect x="1123" y="330" width="3" height="7" fill="#00ff00"/>
<rect x="1128" y="308" width="1" height="31" fill="#ff0000"/>
<rect x="1127" y="323" width="3" height="15" fill="#ff0000"/>
<rect x="1132" y="322" width="1" height="24" fill="#00ff00"/>
<rect x="1131" y="324" width="3" height="18" fill="#00ff00"/>
<rect x="1136" y="319" width="1" height="51" fill="#00ff00"/>
<rect x="1135" y="341" width="3" height="24" fill="#00ff00"/>
<rect x="1140" y="354" width="1" height="30" fill="#00ff00"/>
<rect x="1139" y="365" width="3" height="18" fill="#00ff00"/>
<rect x="1144" y="375" width="1" height="11" fill="#ff0000"/>
<rect x="1143" y="377" width="3" height="5" fill="#ff0000"/>
<rect x="1148" y="373" width="1" height="20" fill="#00ff00"/>
<rect x="1147" y="377" width="3" height="14" fill="#00ff00"/>
<rect x="1152" y="378" width="1" height="24" fill="#00ff00"/>
<rect x="1151" y="390" width="3" height="8" fill="#00ff00"/>
<rect x="1156" y="379" width="1" height="29" fill="#00ff00"/>
<rect x="1155" y="398" width="3" height="4" fill="#00ff00"/>
<rect x="1160" y="373" width="1" height="31" fill="#ff0000"/>
<rect x="1159" y="374" width="3" height="28" fill="#ff0000"/>
<rect x="1164" y="335" width="1" height="54" fill="#ff0000"/>
<rect x="1163" y="337" width="3" height="37" fill="#ff0000"/>
<rect x="1168" y="330" width="1" height="12" fill="#ff0000"/>
<rect x="1167" y="331" width="3" height="8" fill="#ff0000"/>
<rect x="1172" y="330" width="1" height="45" fill="#00ff00"/>
<rect x="1171" y="335" width="3" height="24" fill="#00ff00"/>
<rect x="1176" y="349" width="1" height="27" fill="#00ff00"/>
<rect x="1175" y="355" width="3" height="17" fill="#00ff00"/>
<rect x="1180" y="365" width="1" height="39" fill="#00ff00"/>
<rect x="1179" y="369" width="3" height="31" fill="#00ff00"/>
<rect x="1184" y="391" width="1" height="39" fill="#00ff00"/>
<rect x="1183" y="401" width="3" height="18" fill="#00ff00"/>
<rect x="1188" y="414" width="1" height="28" fill="#00ff00"/>
<rect x="1187" y="419" width="3" height="15" fill="#00ff00"/>
<rect x="1192" y="428" width="1" height="19" fill="#00ff00"/>
<rect x="1191" y="430" width="3" height="14" fill="#00ff00"/>
<rect x="1196" y="435" width="1" height="30" fill="#00ff00"/>
<rect x="1195" y="445" width="3" height="15" fill="#00ff00"/>
<rect x="1200" y="458" width="1" height="29" fill="#00ff00"/>
<rect x="1199" y="460" width="3" height="8" fill="#00ff00"/>
<rect x="1204" y="461" width="1" height="29" fill="#00ff00"/>
<rect x="1203" y="468" width="3" height="15" fill="#00ff00"/>
<rect x="1208" y="481" width="1" height="50" fill="#00ff00"/>
<rect x="1207" y="483" width="3" height="38" fill="#00ff00"/>
<rect x="1212" y="510" width="1" height="27" fill="#00ff00"/>
<rect x="1211" y="520" width="3" height="3" fill="#00ff00"/>
<rect x="1216" y="521" width="1" height="11" fill="#00ff00"/>
<rect x="1215" y="522" width="3" height="6" fill="#00ff00"/>
<rect x="1220" y="519" width="1" height="17" fill="#00ff00"/>
<rect x="1219" y="527" width="3" height="9" fill="#00ff00"/>
<rect x="1224" y="526" width="1" height="44" fill="#00ff00"/>
<rect x="1223" y="535" width="3" height="6" fill="#00ff00"/>
<rect x="1228" y="540" width="1" height="33" fill="#00ff00"/>
<rect x="1227" y="541" width="3" height="25" fill="#00ff00"/>
<rect x="1232" y="541" width="1" height="35" fill="#ff0000"/>
<rect x="1231" y="558" width="3" height="8" fill="#ff0000"/>
<rect x="1236" y="508" width="1" height="64" fill="#ff0000"/>
<rect x="1235" y="516" width="3" height="41" fill="#ff0000"/>
<rect x="1240" y="508" width="1" height="13" fill="#ff0000"/>
<rect x="1239" y="512" width="3" height="5" fill="#ff0000"/>
<rect x="1244" y="513" width="1" height="42" fill="#ff0000"/>
<rect x="1243" y="515" width="3" height="21" fill="#ff0000"/>
<rect x="1248" y="501" width="1" height="34" fill="#ff0000"/>
<rect x="1247" y="507" width="3" height="8" fill="#ff0000"/>
<rect x="1252" y="473" width="1" height="42" fill="#ff0000"/>
<rect x="1251" y="506" width="3" height="2" fill="#ff0000"/>
<rect x="1256" y="396" width="1" height="113" fill="#ff0000"/>
<rect x="1255" y="413" width="3" height="94" fill="#ff0000"/>
<rect x="1260" y="359" width="1" height="81" fill="#ff0000"/>
<rect x="1259" y="413" width="3" height="1" fill="#ff0000"/>
<rect x="1264" y="375" width="1" height="43" fill="#ff0000"/>
<rect x="1263" y="378" width="3" height="36" fill="#ff0000"/>
<rect x="1268" y="272" width="1" height="102" fill="#ff0000"/>
<rect x="1267" y="298" width="3" height="63" fill="#ff0000"/>
<rect x="1272" y="235" width="1" height="92" fill="#ff0000"/>
<rect x="1271" y="261" width="3" height="38" fill="#ff0000"/>
<rect x="1276" y="248" width="1" height="78" fill="#00ff00"/>
<rect x="1275" y="260" width="3" height="33" fill="#00ff00"/>
<rect x="1280" y="287" width="1" height="21" fill="#00ff00"/>
<rect x="1279" y="292" width="3" height="4" fill="#00ff00"/>
</g>
<path d="M26 127h3v1h-3zM23 128h3v1h-3zM29 128h1v1h-1zM21 129h2v1h-2zM30 129h1v1h-1zM20 130h1v1h-1zM31 130h1v1h-1zM18 131h2v1h-2zM32 131h1v1h-1zM17 132h1v1h-1zM33 132h1v1h-1zM16 133h1v1h-1zM34 133h1v1h-1zM15 134h1v1h-1zM34 134h1v1h-1zM14 135h1v1h-1zM35 135h1v1h-1zM14 136h1v1h-1zM36 136h1v1h-1zM13 137h1v1h-1zM37 137h1v1h-1zM12 138h1v1h-1zM37 138h1v1h-1zM11 139h1v1h-1zM38 139h1v1h-1zM10 140h1v1h-1zM38 140h1v1h-1zM440 140h5v1h-5zM10 141h1v1h-1zM39 141h1v1h-1zM439 141h1v1h-1zM445 141h1v1h-1zM9 142h1v1h-1zM39 142h1v1h-1zM438 142h1v1h-1zM446 142h2v1h-2zM8 143h1v1h-1zM40 143h1v1h-1zM438 143h1v1h-1zM448 143h1v1h-1zM7 144h1v1h-1zM41 144h1v1h-1zM437 144h1v1h-1zM449 144h1v1h-1zM6 145h1v1h-1zM41 145h1v1h-1zM435 145h2v1h-2zM449 145h1v1h-1zM6 146h1v1h-1zM42 146h1v1h-1zM433 146h2v1h-2zM450 146h1v1h-1zM5 147h1v1h-1zM43 147h1v1h-1zM432 147h1v1h-1zM450 147h1v1h-1zM4 148h1v1h-1zM43 148h1v1h-1zM431 148h1v1h-1zM451 148h1v1h-1zM44 149h1v1h-1zM431 149h1v1h-1zM451 149h1v1h-1zM45 150h1v1h-1zM430 150h1v1h-1zM452 150h1v1h-1zM46 151h1v1h-1zM429 151h1v1h-1zM452 151h1v1h-1zM46 152h1v1h-1zM429 152h1v1h-1zM453 152h1v1h-1zM47 153h1v1h-1zM428 153h1v1h-1zM453 153h1v1h-1zM48 154h1v1h-1zM427 154h1v1h-1zM454 154h1v1h-1zM49 155h2v1h-2zM426 155h1v1h-1zM454 155h1v1h-1zM51 156h2v1h-2zM99 156h2v1h-2zM426 156h1v1h-1zM455 156h1v1h-1zM53 157h1v1h-1zM97 157h2v1h-2zM101 157h2v1h-2zM425 157h1v1h-1zM455 157h1v1h-1zM54 158h1v1h-1zM95 158h2v1h-2zM103 158h2v1h-2zM424 158h1v1h-1zM456 158h1v1h-1zM55 159h1v1h-1zM93 159h2v1h-2zM105 159h1v1h-1zM423 159h1v1h-1zM456 159h1v1h-1zM56 160h1v1h-1zM92 160h1v1h-1zM106 160h1v1h-1zM423 160h1v1h-1zM457 160h1v1h-1zM57 161h1v1h-1zM91 161h1v1h-1zM106 161h1v1h-1zM422 161h1v1h-1zM457 161h1v1h-1zM58 162h2v1h-2zM90 162h1v1h-1zM107 162h1v1h-1zM421 162h1v1h-1zM458 162h1v1h-1zM60 163h1v1h-1zM89 163h1v1h-1zM108 163h1v1h-1zM421 163h1v1h-1zM458 163h1v1h-1zM61 164h1v1h-1zM88 164h1v1h-1zM109 164h1v1h-1zM420 164h1v1h-1zM459 164h1v1h-1zM62 165h1v1h-1zM87 165h1v1h-1zM110 165h1v1h-1zM418 165h2v1h-2zM459 165h1v1h-1zM63 166h1v1h-1zM80 166h1v1h-1zM86 166h1v1h-1zM110 166h1v1h-1zM417 166h1v1h-1zM460 166h1v1h-1zM64 167h1v1h-1zM78 167h2v1h-2zM81 167h2v1h-2zM85 167h1v1h-1zM111 167h1v1h-1zM416 167h1v1h-1zM461 167h1v1h-1zM65 168h1v1h-1zM77 168h1v1h-1zM83 168h2v1h-2zM112 168h1v1h-1zM414 168h2v1h-2zM461 168h1v1h-1zM66 169h2v1h-2zM75 169h2v1h-2zM113 169h1v1h-1zM413 169h1v1h-1zM462 169h1v1h-1zM68 170h2v1h-2zM73 170h2v1h-2zM113 170h1v1h-1zM412 170h1v1h-1zM462 170h1v1h-1zM70 171h3v1h-3zM114 171h1v1h-1zM411 171h1v1h-1zM463 171h1v1h-1zM115 172h1v1h-1zM410 172h1v1h-1zM463 172h1v1h-1zM115 173h1v1h-1zM410 173h1v1h-1zM464 173h1v1h-1zM116 174h1v1h-1zM409 174h1v1h-1zM465 174h1v1h-1zM117 175h1v1h-1zM407 175h2v1h-2zM465 175h1v1h-1zM117 176h1v1h-1zM405 176h2v1h-2zM466 176h1v1h-1zM118 177h1v1h-1zM404 177h1v1h-1zM466 177h1v1h-1zM118 178h1v1h-1zM403 178h1v1h-1zM467 178h1v1h-1zM119 179h1v1h-1zM402 179h1v1h-1zM467 179h1v1h-1zM119 180h1v1h-1zM401 180h1v1h-1zM468 180h1v1h-1zM120 181h1v1h-1zM400 181h1v1h-1zM468 181h1v1h-1zM120 182h1v1h-1zM399 182h1v1h-1zM469 182h1v1h-1zM121 183h1v1h-1zM398 183h1v1h-1zM470 183h1v1h-1zM122 184h1v1h-1zM397 184h1v1h-1zM470 184h1v1h-1zM122 185h1v1h-1zM396 185h1v1h-1zM471 185h1v1h-1zM123 186h1v1h-1zM395 186h1v1h-1zM472 186h1v1h-1zM124 187h1v1h-1zM394 187h1v1h-1zM473 187h1v1h-1zM125 188h1v1h-1zM394 188h1v1h-1zM473 188h1v1h-1zM125 189h1v1h-1zM393 189h1v1h-1zM474 189h1v1h-1zM126 190h1v1h-1zM188 190h2v1h-2zM392 190h1v1h-1zM474 190h1v1h-1zM126 191h1v1h-1zM186 191h2v1h-2zM190 191h3v1h-3zM390 191h2v1h-2zM475 191h1v1h-1zM127 192h1v1h-1zM185 192h1v1h-1zM193 192h1v1h-1zM389 192h1v1h-1zM475 192h1v1h-1zM127 193h1v1h-1zM176 193h2v1h-2zM182 193h3v1h-3zM194 193h1v1h-1zM382 193h7v1h-7zM476 193h1v1h-1zM128 194h1v1h-1zM174 194h2v1h-2zM178 194h4v1h-4zM195 194h1v1h-1zM380 194h2v1h-2zM476 194h1v1h-1zM129 195h1v1h-1zM173 195h1v1h-1zM196 195h1v1h-1zM379 195h1v1h-1zM477 195h1v1h-1zM129 196h1v1h-1zM172 196h1v1h-1zM197 196h1v1h-1zM378 196h1v1h-1zM477 196h1v1h-1zM130 197h1v1h-1zM171 197h1v1h-1zM197 197h1v1h-1zM378 197h1v1h-1zM478 197h1v1h-1zM130 198h1v1h-1zM170 198h1v1h-1zM198 198h1v1h-1zM377 198h1v1h-1zM478 198h1v1h-1zM131 199h1v1h-1zM170 199h1v1h-1zM198 199h1v1h-1zM376 199h1v1h-1zM479 199h1v1h-1zM131 200h1v1h-1zM169 200h1v1h-1zM199 200h1v1h-1zM375 200h1v1h-1zM479 200h1v1h-1zM132 201h1v1h-1zM168 201h1v1h-1zM199 201h1v1h-1zM374 201h1v1h-1zM480 201h1v1h-1zM132 202h1v1h-1zM167 202h1v1h-1zM200 202h1v1h-1zM373 202h1v1h-1zM480 202h1v1h-1zM133 203h1v1h-1zM166 203h1v1h-1zM201 203h1v1h-1zM372 203h1v1h-1zM481 203h1v1h-1zM133 204h1v1h-1zM166 204h1v1h-1zM201 204h1v1h-1zM371 204h1v1h-1zM482 204h1v1h-1zM134 205h1v1h-1zM165 205h1v1h-1zM202 205h1v1h-1zM370 205h1v1h-1zM483 205h1v1h-1zM134 206h1v1h-1zM164 206h1v1h-1zM202 206h1v1h-1zM369 206h1v1h-1zM484 206h1v1h-1zM135 207h1v1h-1zM163 207h1v1h-1zM203 207h1v1h-1zM368 207h1v1h-1zM485 207h1v1h-1zM135 208h1v1h-1zM162 208h1v1h-1zM203 208h1v1h-1zM367 208h1v1h-1zM486 208h1v1h-1zM136 209h1v1h-1zM161 209h1v1h-1zM204 209h1v1h-1zM366 209h1v1h-1zM487 209h1v1h-1zM136 210h2v1h-2zM160 210h1v1h-1zM205 210h1v1h-1zM366 210h1v1h-1zM488 210h1v1h-1zM138 211h4v1h-4zM158 211h2v1h-2zM205 211h1v1h-1zM365 211h1v1h-1zM489 211h1v1h-1zM142 212h3v1h-3zM157 212h1v1h-1zM206 212h1v1h-1zM364 212h1v1h-1zM490 212h2v1h-2zM145 213h1v1h-1zM156 213h1v1h-1zM207 213h1v1h-1zM363 213h1v1h-1zM492 213h1v1h-1zM146 214h2v1h-2zM154 214h2v1h-2zM207 214h1v1h-1zM363 214h1v1h-1zM493 214h1v1h-1zM148 215h2v1h-2zM153 215h1v1h-1zM208 215h1v1h-1zM362 215h1v1h-1zM494 215h1v1h-1zM150 216h3v1h-3zM209 216h1v1h-1zM362 216h1v1h-1zM495 216h1v1h-1zM209 217h1v1h-1zM361 217h1v1h-1zM496 217h5v1h-5zM210 218h1v1h-1zM361 218h1v1h-1zM501 218h1v1h-1zM210 219h1v1h-1zM360 219h1v1h-1zM502 219h1v1h-1zM211 220h1v1h-1zM359 220h1v1h-1zM503 220h1v1h-1zM211 221h1v1h-1zM359 221h1v1h-1zM504 221h1v1h-1zM212 222h1v1h-1zM358 222h1v1h-1zM505 222h1v1h-1zM213 223h1v1h-1zM357 223h1v1h-1zM506 223h2v1h-2zM213 224h1v1h-1zM357 224h1v1h-1zM508 224h1v1h-1zM214 225h1v1h-1zM356 225h1v1h-1zM509 225h1v1h-1zM215 226h1v1h-1zM355 226h1v1h-1zM510 226h2v1h-2zM215 227h1v1h-1zM355 227h1v1h-1zM512 227h1v1h-1zM216 228h1v1h-1zM354 228h1v1h-1zM513 228h1v1h-1zM217 229h1v1h-1zM353 229h1v1h-1zM513 229h1v1h-1zM218 230h2v1h-2zM353 230h1v1h-1zM514 230h1v1h-1zM220 231h1v1h-1zM352 231h1v1h-1zM514 231h1v1h-1zM221 232h1v1h-1zM352 232h1v1h-1zM515 232h1v1h-1zM221 233h1v1h-1zM351 233h1v1h-1zM515 233h1v1h-1zM222 234h1v1h-1zM351 234h1v1h-1zM516 234h1v1h-1zM223 235h1v1h-1zM267 235h2v1h-2zM350 235h1v1h-1zM516 235h1v1h-1zM223 236h1v1h-1zM265 236h2v1h-2zM269 236h2v1h-2zM350 236h1v1h-1zM517 236h1v1h-1zM224 237h1v1h-1zM264 237h1v1h-1zM271 237h2v1h-2zM350 237h1v1h-1zM517 237h1v1h-1zM225 238h1v1h-1zM262 238h2v1h-2zM273 238h1v1h-1zM349 238h1v1h-1zM518 238h1v1h-1zM225 239h1v1h-1zM261 239h1v1h-1zM274 239h1v1h-1zM349 239h1v1h-1zM518 239h1v1h-1zM226 240h1v1h-1zM260 240h1v1h-1zM275 240h1v1h-1zM348 240h1v1h-1zM519 240h1v1h-1zM227 241h1v1h-1zM259 241h1v1h-1zM276 241h1v1h-1zM348 241h1v1h-1zM519 241h1v1h-1zM227 242h1v1h-1zM258 242h1v1h-1zM277 242h2v1h-2zM348 242h1v1h-1zM520 242h1v1h-1zM228 243h1v1h-1zM258 243h1v1h-1zM279 243h3v1h-3zM347 243h1v1h-1zM520 243h1v1h-1zM229 244h2v1h-2zM257 244h1v1h-1zM282 244h3v1h-3zM347 244h1v1h-1zM521 244h1v1h-1zM231 245h2v1h-2zM256 245h1v1h-1zM285 245h2v1h-2zM346 245h1v1h-1zM521 245h1v1h-1zM233 246h2v1h-2zM255 246h1v1h-1zM287 246h2v1h-2zM346 246h1v1h-1zM522 246h1v1h-1zM235 247h2v1h-2zM254 247h1v1h-1zM289 247h2v1h-2zM345 247h1v1h-1zM523 247h1v1h-1zM237 248h1v1h-1zM254 248h1v1h-1zM291 248h3v1h-3zM345 248h1v1h-1zM523 248h1v1h-1zM238 249h1v1h-1zM253 249h1v1h-1zM294 249h8v1h-8zM344 249h1v1h-1zM524 249h1v1h-1zM239 250h1v1h-1zM252 250h1v1h-1zM302 250h3v1h-3zM344 250h1v1h-1zM525 250h1v1h-1zM240 251h1v1h-1zM250 251h2v1h-2zM305 251h1v1h-1zM344 251h1v1h-1zM525 251h1v1h-1zM241 252h1v1h-1zM249 252h1v1h-1zM306 252h2v1h-2zM343 252h1v1h-1zM526 252h1v1h-1zM242 253h2v1h-2zM246 253h3v1h-3zM308 253h1v1h-1zM343 253h1v1h-1zM526 253h1v1h-1zM244 254h2v1h-2zM309 254h1v1h-1zM342 254h1v1h-1zM527 254h1v1h-1zM310 255h2v1h-2zM342 255h1v1h-1zM527 255h1v1h-1zM312 256h1v1h-1zM341 256h1v1h-1zM528 256h1v1h-1zM313 257h1v1h-1zM341 257h1v1h-1zM529 257h1v1h-1zM313 258h1v1h-1zM340 258h1v1h-1zM529 258h1v1h-1zM314 259h1v1h-1zM339 259h1v1h-1zM530 259h1v1h-1zM315 260h1v1h-1zM338 260h1v1h-1zM530 260h1v1h-1zM315 261h1v1h-1zM337 261h1v1h-1zM531 261h1v1h-1zM316 262h1v1h-1zM336 262h1v1h-1zM531 262h1v1h-1zM317 263h1v1h-1zM335 263h1v1h-1zM532 263h1v1h-1zM318 264h2v1h-2zM334 264h1v1h-1zM533 264h1v1h-1zM320 265h1v1h-1zM333 265h1v1h-1zM533 265h1v1h-1zM321 266h1v1h-1zM331 266h2v1h-2zM534 266h1v1h-1zM322 267h2v1h-2zM329 267h2v1h-2zM534 267h1v1h-1zM324 268h5v1h-5zM535 268h1v1h-1zM535 269h1v1h-1zM576 269h5v1h-5zM536 270h1v1h-1zM574 270h2v1h-2zM581 270h1v1h-1zM536 271h1v1h-1zM573 271h1v1h-1zM582 271h2v1h-2zM1094 271h4v1h-4zM537 272h1v1h-1zM572 272h1v1h-1zM584 272h1v1h-1zM591 272h3v1h-3zM1090 272h4v1h-4zM1098 272h3v1h-3zM537 273h1v1h-1zM571 273h1v1h-1zM585 273h2v1h-2zM589 273h2v1h-2zM594 273h4v1h-4zM1086 273h4v1h-4zM1101 273h1v1h-1zM538 274h1v1h-1zM570 274h1v1h-1zM587 274h2v1h-2zM598 274h3v1h-3zM1083 274h3v1h-3zM1102 274h1v1h-1zM538 275h1v1h-1zM570 275h1v1h-1zM601 275h1v1h-1zM1081 275h2v1h-2zM1103 275h1v1h-1zM539 276h1v1h-1zM569 276h1v1h-1zM601 276h1v1h-1zM1080 276h1v1h-1zM1104 276h1v1h-1zM539 277h1v1h-1zM568 277h1v1h-1zM602 277h1v1h-1zM1079 277h1v1h-1zM1105 277h2v1h-2zM540 278h1v1h-1zM566 278h2v1h-2zM603 278h1v1h-1zM1078 278h1v1h-1zM1107 278h2v1h-2zM541 279h1v1h-1zM565 279h1v1h-1zM603 279h1v1h-1zM1077 279h1v1h-1zM1109 279h1v1h-1zM541 280h1v1h-1zM564 280h1v1h-1zM604 280h1v1h-1zM1076 280h1v1h-1zM1109 280h1v1h-1zM542 281h1v1h-1zM563 281h1v1h-1zM605 281h1v1h-1zM1075 281h1v1h-1zM1110 281h1v1h-1zM542 282h1v1h-1zM562 282h1v1h-1zM606 282h1v1h-1zM1075 282h1v1h-1zM1111 282h1v1h-1zM543 283h1v1h-1zM562 283h1v1h-1zM606 283h1v1h-1zM1074 283h1v1h-1zM1111 283h1v1h-1zM543 284h1v1h-1zM561 284h1v1h-1zM607 284h1v1h-1zM1073 284h1v1h-1zM1112 284h1v1h-1zM544 285h2v1h-2zM559 285h2v1h-2zM608 285h1v1h-1zM1073 285h1v1h-1zM1113 285h1v1h-1zM546 286h3v1h-3zM557 286h2v1h-2zM609 286h1v1h-1zM1072 286h1v1h-1zM1113 286h1v1h-1zM549 287h2v1h-2zM554 287h3v1h-3zM610 287h1v1h-1zM1070 287h2v1h-2zM1114 287h1v1h-1zM551 288h3v1h-3zM610 288h1v1h-1zM1069 288h1v1h-1zM1115 288h1v1h-1zM611 289h1v1h-1zM1067 289h2v1h-2zM1115 289h1v1h-1zM612 290h1v1h-1zM1065 290h2v1h-2zM1116 290h1v1h-1zM613 291h1v1h-1zM1063 291h2v1h-2zM1117 291h1v1h-1zM614 292h2v1h-2zM1061 292h2v1h-2zM1117 292h1v1h-1zM616 293h1v1h-1zM1060 293h1v1h-1zM1118 293h1v1h-1zM617 294h1v1h-1zM1059 294h1v1h-1zM1119 294h1v1h-1zM617 295h1v1h-1zM1058 295h1v1h-1zM1119 295h1v1h-1zM618 296h1v1h-1zM1058 296h1v1h-1zM1120 296h1v1h-1zM619 297h1v1h-1zM1057 297h1v1h-1zM1121 297h1v1h-1zM619 298h1v1h-1zM1056 298h1v1h-1zM1122 298h1v1h-1zM620 299h1v1h-1zM855 299h6v1h-6zM1055 299h1v1h-1zM1122 299h1v1h-1zM621 300h1v1h-1zM853 300h2v1h-2zM861 300h1v1h-1zM1055 300h1v1h-1zM1123 300h1v1h-1zM621 301h1v1h-1zM852 301h1v1h-1zM862 301h1v1h-1zM1054 301h1v1h-1zM1124 301h1v1h-1zM622 302h1v1h-1zM851 302h1v1h-1zM862 302h1v1h-1zM1053 302h1v1h-1zM1125 302h1v1h-1zM623 303h1v1h-1zM851 303h1v1h-1zM863 303h1v1h-1zM1053 303h1v1h-1zM1126 303h1v1h-1zM623 304h1v1h-1zM850 304h1v1h-1zM864 304h1v1h-1zM1052 304h1v1h-1zM1127 304h1v1h-1zM624 305h1v1h-1zM849 305h1v1h-1zM865 305h1v1h-1zM1050 305h2v1h-2zM1128 305h1v1h-1zM625 306h1v1h-1zM849 306h1v1h-1zM866 306h1v1h-1zM1049 306h1v1h-1zM1129 306h1v1h-1zM625 307h1v1h-1zM848 307h1v1h-1zM867 307h1v1h-1zM1048 307h1v1h-1zM1129 307h1v1h-1zM626 308h1v1h-1zM847 308h1v1h-1zM868 308h1v1h-1zM1047 308h1v1h-1zM1130 308h1v1h-1zM626 309h1v1h-1zM847 309h1v1h-1zM869 309h1v1h-1zM1046 309h1v1h-1zM1131 309h1v1h-1zM627 310h1v1h-1zM846 310h1v1h-1zM869 310h1v1h-1zM1045 310h1v1h-1zM1131 310h1v1h-1zM627 311h1v1h-1zM845 311h1v1h-1zM870 311h1v1h-1zM1044 311h1v1h-1zM1132 311h1v1h-1zM628 312h1v1h-1zM845 312h1v1h-1zM871 312h1v1h-1zM1043 312h1v1h-1zM1133 312h1v1h-1zM629 313h1v1h-1zM844 313h1v1h-1zM871 313h1v1h-1zM1042 313h1v1h-1zM1134 313h1v1h-1zM629 314h1v1h-1zM843 314h1v1h-1zM872 314h1v1h-1zM1041 314h1v1h-1zM1134 314h1v1h-1zM630 315h1v1h-1zM843 315h1v1h-1zM873 315h1v1h-1zM1038 315h3v1h-3zM1135 315h1v1h-1zM630 316h1v1h-1zM842 316h1v1h-1zM874 316h1v1h-1zM1034 316h4v1h-4zM1136 316h1v1h-1zM631 317h1v1h-1zM841 317h1v1h-1zM874 317h1v1h-1zM1031 317h3v1h-3zM1137 317h1v1h-1zM631 318h1v1h-1zM841 318h1v1h-1zM875 318h1v1h-1zM1029 318h2v1h-2zM1137 318h1v1h-1zM632 319h1v1h-1zM840 319h1v1h-1zM876 319h1v1h-1zM1027 319h2v1h-2zM1138 319h1v1h-1zM632 320h1v1h-1zM839 320h1v1h-1zM877 320h1v1h-1zM1015 320h7v1h-7zM1025 320h2v1h-2zM1139 320h1v1h-1zM633 321h1v1h-1zM838 321h1v1h-1zM878 321h1v1h-1zM1013 321h2v1h-2zM1022 321h3v1h-3zM1139 321h1v1h-1zM633 322h1v1h-1zM837 322h1v1h-1zM879 322h1v1h-1zM1012 322h1v1h-1zM1140 322h1v1h-1zM634 323h1v1h-1zM836 323h1v1h-1zM880 323h1v1h-1zM1010 323h2v1h-2zM1141 323h1v1h-1zM634 324h1v1h-1zM834 324h2v1h-2zM881 324h1v1h-1zM1009 324h1v1h-1zM1142 324h1v1h-1zM635 325h1v1h-1zM833 325h1v1h-1zM882 325h2v1h-2zM1008 325h1v1h-1zM1143 325h1v1h-1zM635 326h1v1h-1zM832 326h1v1h-1zM884 326h1v1h-1zM1008 326h1v1h-1zM1144 326h1v1h-1zM636 327h1v1h-1zM830 327h2v1h-2zM885 327h1v1h-1zM1007 327h1v1h-1zM1145 327h1v1h-1zM636 328h1v1h-1zM829 328h1v1h-1zM886 328h1v1h-1zM1007 328h1v1h-1zM1146 328h1v1h-1zM637 329h1v1h-1zM828 329h1v1h-1zM887 329h1v1h-1zM1006 329h1v1h-1zM1146 329h1v1h-1zM637 330h1v1h-1zM827 330h1v1h-1zM888 330h1v1h-1zM1006 330h1v1h-1zM1147 330h1v1h-1zM638 331h1v1h-1zM827 331h1v1h-1zM889 331h1v1h-1zM1005 331h1v1h-1zM1148 331h1v1h-1zM639 332h1v1h-1zM826 332h1v1h-1zM890 332h1v1h-1zM1005 332h1v1h-1zM1149 332h1v1h-1zM639 333h1v1h-1zM825 333h1v1h-1zM891 333h1v1h-1zM1004 333h1v1h-1zM1149 333h1v1h-1zM640 334h1v1h-1zM825 334h1v1h-1zM892 334h1v1h-1zM1003 334h1v1h-1zM1150 334h1v1h-1zM641 335h1v1h-1zM824 335h1v1h-1zM893 335h1v1h-1zM1003 335h1v1h-1zM1150 335h1v1h-1zM641 336h1v1h-1zM824 336h1v1h-1zM893 336h1v1h-1zM1002 336h1v1h-1zM1151 336h1v1h-1zM642 337h1v1h-1zM823 337h1v1h-1zM894 337h1v1h-1zM1001 337h1v1h-1zM1151 337h1v1h-1zM642 338h1v1h-1zM823 338h1v1h-1zM895 338h1v1h-1zM1001 338h1v1h-1zM1152 338h1v1h-1zM643 339h1v1h-1zM822 339h1v1h-1zM895 339h1v1h-1zM1000 339h1v1h-1zM1153 339h1v1h-1zM643 340h1v1h-1zM822 340h1v1h-1zM896 340h1v1h-1zM999 340h1v1h-1zM1153 340h1v1h-1zM644 341h1v1h-1zM821 341h1v1h-1zM897 341h1v1h-1zM999 341h1v1h-1zM1154 341h1v1h-1zM645 342h1v1h-1zM821 342h1v1h-1zM898 342h1v1h-1zM998 342h1v1h-1zM1154 342h1v1h-1zM645 343h1v1h-1zM820 343h1v1h-1zM899 343h1v1h-1zM997 343h1v1h-1zM1155 343h1v1h-1zM646 344h1v1h-1zM820 344h1v1h-1zM900 344h1v1h-1zM997 344h1v1h-1zM1155 344h1v1h-1zM646 345h1v1h-1zM819 345h1v1h-1zM901 345h1v1h-1zM996 345h1v1h-1zM1156 345h1v1h-1zM647 346h1v1h-1zM819 346h1v1h-1zM901 346h1v1h-1zM996 346h1v1h-1zM1157 346h1v1h-1zM647 347h1v1h-1zM818 347h1v1h-1zM902 347h1v1h-1zM995 347h1v1h-1zM1158 347h1v1h-1zM648 348h1v1h-1zM818 348h1v1h-1zM903 348h1v1h-1zM995 348h1v1h-1zM1158 348h1v1h-1zM649 349h1v1h-1zM817 349h1v1h-1zM903 349h1v1h-1zM994 349h1v1h-1zM1159 349h1v1h-1zM650 350h1v1h-1zM817 350h1v1h-1zM904 350h1v1h-1zM994 350h1v1h-1zM1160 350h1v1h-1zM651 351h1v1h-1zM816 351h1v1h-1zM905 351h1v1h-1zM993 351h1v1h-1zM1161 351h1v1h-1zM652 352h1v1h-1zM816 352h1v1h-1zM906 352h1v1h-1zM993 352h1v1h-1zM1162 352h1v1h-1zM653 353h1v1h-1zM815 353h1v1h-1zM906 353h1v1h-1zM992 353h1v1h-1zM1163 353h1v1h-1zM654 354h2v1h-2zM815 354h1v1h-1zM907 354h1v1h-1zM991 354h1v1h-1zM1164 354h1v1h-1zM656 355h1v1h-1zM814 355h1v1h-1zM908 355h1v1h-1zM991 355h1v1h-1zM1165 355h1v1h-1zM657 356h1v1h-1zM814 356h1v1h-1zM909 356h1v1h-1zM990 356h1v1h-1zM1166 356h2v1h-2zM658 357h2v1h-2zM813 357h1v1h-1zM910 357h1v1h-1zM989 357h1v1h-1zM1168 357h1v1h-1zM660 358h1v1h-1zM813 358h1v1h-1zM910 358h1v1h-1zM989 358h1v1h-1zM1169 358h2v1h-2zM661 359h1v1h-1zM812 359h1v1h-1zM911 359h1v1h-1zM988 359h1v1h-1zM1171 359h2v1h-2zM662 360h1v1h-1zM812 360h1v1h-1zM912 360h1v1h-1zM987 360h1v1h-1zM1173 360h1v1h-1zM663 361h1v1h-1zM812 361h1v1h-1zM913 361h1v1h-1zM986 361h1v1h-1zM1174 361h2v1h-2zM664 362h1v1h-1zM811 362h1v1h-1zM914 362h1v1h-1zM985 362h1v1h-1zM1176 362h1v1h-1zM665 363h1v1h-1zM811 363h1v1h-1zM915 363h1v1h-1zM984 363h1v1h-1zM1177 363h1v1h-1zM666 364h1v1h-1zM810 364h1v1h-1zM916 364h5v1h-5zM983 364h1v1h-1zM1178 364h1v1h-1zM666 365h1v1h-1zM810 365h1v1h-1zM921 365h2v1h-2zM982 365h1v1h-1zM1179 365h1v1h-1zM667 366h1v1h-1zM704 366h2v1h-2zM809 366h1v1h-1zM923 366h3v1h-3zM962 366h8v1h-8zM981 366h1v1h-1zM1180 366h1v1h-1zM668 367h1v1h-1zM703 367h1v1h-1zM706 367h4v1h-4zM809 367h1v1h-1zM926 367h4v1h-4zM958 367h4v1h-4zM970 367h4v1h-4zM978 367h3v1h-3zM1181 367h1v1h-1zM669 368h1v1h-1zM702 368h1v1h-1zM710 368h3v1h-3zM808 368h1v1h-1zM930 368h4v1h-4zM954 368h4v1h-4zM974 368h4v1h-4zM1181 368h1v1h-1zM669 369h1v1h-1zM702 369h1v1h-1zM713 369h1v1h-1zM808 369h1v1h-1zM934 369h3v1h-3zM950 369h4v1h-4zM1182 369h1v1h-1zM670 370h1v1h-1zM701 370h1v1h-1zM714 370h2v1h-2zM808 370h1v1h-1zM937 370h2v1h-2zM946 370h4v1h-4zM1182 370h1v1h-1zM671 371h1v1h-1zM700 371h1v1h-1zM716 371h1v1h-1zM807 371h1v1h-1zM939 371h7v1h-7zM1183 371h1v1h-1zM671 372h1v1h-1zM698 372h2v1h-2zM717 372h2v1h-2zM807 372h1v1h-1zM1183 372h1v1h-1zM672 373h1v1h-1zM697 373h1v1h-1zM719 373h2v1h-2zM806 373h1v1h-1zM1184 373h1v1h-1zM673 374h1v1h-1zM696 374h1v1h-1zM721 374h1v1h-1zM806 374h1v1h-1zM1185 374h1v1h-1zM673 375h1v1h-1zM695 375h1v1h-1zM721 375h1v1h-1zM806 375h1v1h-1zM1185 375h1v1h-1zM674 376h1v1h-1zM694 376h1v1h-1zM722 376h1v1h-1zM805 376h1v1h-1zM1186 376h1v1h-1zM675 377h1v1h-1zM694 377h1v1h-1zM723 377h1v1h-1zM805 377h1v1h-1zM1186 377h1v1h-1zM675 378h1v1h-1zM693 378h1v1h-1zM723 378h1v1h-1zM804 378h1v1h-1zM1187 378h1v1h-1zM676 379h2v1h-2zM690 379h3v1h-3zM724 379h1v1h-1zM804 379h1v1h-1zM1187 379h1v1h-1zM678 380h4v1h-4zM686 380h4v1h-4zM725 380h1v1h-1zM804 380h1v1h-1zM1188 380h1v1h-1zM682 381h4v1h-4zM725 381h1v1h-1zM803 381h1v1h-1zM1189 381h1v1h-1zM726 382h1v1h-1zM803 382h1v1h-1zM1189 382h1v1h-1zM727 383h1v1h-1zM803 383h1v1h-1zM1190 383h1v1h-1zM727 384h1v1h-1zM802 384h1v1h-1zM1191 384h1v1h-1zM728 385h1v1h-1zM802 385h1v1h-1zM1191 385h1v1h-1zM729 386h1v1h-1zM801 386h1v1h-1zM1192 386h1v1h-1zM730 387h2v1h-2zM801 387h1v1h-1zM1193 387h1v1h-1zM732 388h1v1h-1zM801 388h1v1h-1zM1194 388h1v1h-1zM733 389h1v1h-1zM800 389h1v1h-1zM1194 389h1v1h-1zM733 390h1v1h-1zM800 390h1v1h-1zM1195 390h1v1h-1zM734 391h1v1h-1zM800 391h1v1h-1zM1196 391h1v1h-1zM734 392h1v1h-1zM799 392h1v1h-1zM1197 392h1v1h-1zM735 393h1v1h-1zM799 393h1v1h-1zM1197 393h1v1h-1zM735 394h1v1h-1zM799 394h1v1h-1zM1198 394h1v1h-1zM736 395h1v1h-1zM798 395h1v1h-1zM1199 395h1v1h-1zM736 396h1v1h-1zM798 396h1v1h-1zM1199 396h1v1h-1zM736 397h1v1h-1zM798 397h1v1h-1zM1200 397h1v1h-1zM737 398h1v1h-1zM797 398h1v1h-1zM1201 398h1v1h-1zM737 399h1v1h-1zM797 399h1v1h-1zM1201 399h1v1h-1zM738 400h1v1h-1zM797 400h1v1h-1zM1202 400h1v1h-1zM738 401h1v1h-1zM796 401h1v1h-1zM1202 401h1v1h-1zM739 402h1v1h-1zM796 402h1v1h-1zM1203 402h1v1h-1zM739 403h1v1h-1zM796 403h1v1h-1zM1203 403h1v1h-1zM740 404h1v1h-1zM795 404h1v1h-1zM1204 404h1v1h-1zM740 405h1v1h-1zM795 405h1v1h-1zM1204 405h1v1h-1zM741 406h1v1h-1zM794 406h1v1h-1zM1205 406h1v1h-1zM741 407h1v1h-1zM794 407h1v1h-1zM1205 407h1v1h-1zM742 408h1v1h-1zM793 408h1v1h-1zM1206 408h1v1h-1zM742 409h1v1h-1zM793 409h1v1h-1zM1206 409h1v1h-1zM743 410h1v1h-1zM792 410h1v1h-1zM1207 410h1v1h-1zM743 411h1v1h-1zM792 411h1v1h-1zM1207 411h1v1h-1zM744 412h1v1h-1zM791 412h1v1h-1zM1208 412h1v1h-1zM744 413h1v1h-1zM790 413h1v1h-1zM1208 413h1v1h-1zM745 414h1v1h-1zM790 414h1v1h-1zM1209 414h1v1h-1zM746 415h2v1h-2zM789 415h1v1h-1zM1209 415h1v1h-1zM748 416h1v1h-1zM788 416h1v1h-1zM1210 416h1v1h-1zM749 417h1v1h-1zM787 417h1v1h-1zM1210 417h1v1h-1zM750 418h1v1h-1zM786 418h1v1h-1zM1211 418h1v1h-1zM751 419h1v1h-1zM786 419h1v1h-1zM1211 419h1v1h-1zM752 420h1v1h-1zM785 420h1v1h-1zM1212 420h1v1h-1zM753 421h1v1h-1zM784 421h1v1h-1zM1212 421h1v1h-1zM754 422h1v1h-1zM783 422h1v1h-1zM1212 422h1v1h-1zM755 423h1v1h-1zM783 423h1v1h-1zM1213 423h1v1h-1zM756 424h1v1h-1zM782 424h1v1h-1zM1213 424h1v1h-1zM757 425h1v1h-1zM781 425h1v1h-1zM1213 425h1v1h-1zM758 426h1v1h-1zM781 426h1v1h-1zM1214 426h1v1h-1zM759 427h1v1h-1zM780 427h1v1h-1zM1214 427h1v1h-1zM760 428h2v1h-2zM779 428h1v1h-1zM1215 428h1v1h-1zM762 429h3v1h-3zM778 429h1v1h-1zM1215 429h1v1h-1zM765 430h1v1h-1zM778 430h1v1h-1zM1215 430h1v1h-1zM1280 430h1v1h-1zM766 431h2v1h-2zM777 431h1v1h-1zM1216 431h1v1h-1zM1280 431h1v1h-1zM768 432h2v1h-2zM774 432h3v1h-3zM1216 432h1v1h-1zM1280 432h1v1h-1zM770 433h4v1h-4zM1216 433h1v1h-1zM1279 433h1v1h-1zM1217 434h1v1h-1zM1279 434h1v1h-1zM1217 435h1v1h-1zM1279 435h1v1h-1zM1217 436h1v1h-1zM1279 436h1v1h-1zM1217 437h1v1h-1zM1278 437h1v1h-1zM1218 438h1v1h-1zM1278 438h1v1h-1zM1218 439h1v1h-1zM1278 439h1v1h-1zM1218 440h1v1h-1zM1278 440h1v1h-1zM1219 441h1v1h-1zM1277 441h1v1h-1zM1219 442h1v1h-1zM1277 442h1v1h-1zM1219 443h1v1h-1zM1277 443h1v1h-1zM1219 444h1v1h-1zM1277 444h1v1h-1zM1220 445h1v1h-1zM1276 445h1v1h-1zM1220 446h1v1h-1zM1276 446h1v1h-1zM1220 447h1v1h-1zM1276 447h1v1h-1zM1221 448h1v1h-1zM1276 448h1v1h-1zM1221 449h1v1h-1zM1276 449h1v1h-1zM1221 450h1v1h-1zM1275 450h1v1h-1zM1221 451h1v1h-1zM1275 451h1v1h-1zM1222 452h1v1h-1zM1275 452h1v1h-1zM1222 453h1v1h-1zM1275 453h1v1h-1zM1222 454h1v1h-1zM1274 454h1v1h-1zM1222 455h1v1h-1zM1274 455h1v1h-1zM1223 456h1v1h-1zM1274 456h1v1h-1zM1223 457h1v1h-1zM1274 457h1v1h-1zM1223 458h1v1h-1zM1273 458h1v1h-1zM1223 459h1v1h-1zM1273 459h1v1h-1zM1224 460h1v1h-1zM1273 460h1v1h-1zM1224 461h1v1h-1zM1273 461h1v1h-1zM1224 462h1v1h-1zM1272 462h1v1h-1zM1225 463h1v1h-1zM1272 463h1v1h-1zM1225 464h1v1h-1zM1272 464h1v1h-1zM1225 465h1v1h-1zM1272 465h1v1h-1zM1225 466h1v1h-1zM1272 466h1v1h-1zM1226 467h1v1h-1zM1271 467h1v1h-1zM1226 468h1v1h-1zM1271 468h1v1h-1zM1226 469h1v1h-1zM1271 469h1v1h-1zM1226 470h1v1h-1zM1271 470h1v1h-1zM1227 471h1v1h-1zM1271 471h1v1h-1zM1227 472h1v1h-1zM1270 472h1v1h-1zM1227 473h1v1h-1zM1270 473h1v1h-1zM1227 474h1v1h-1zM1270 474h1v1h-1zM1228 475h1v1h-1zM1270 475h1v1h-1zM1228 476h1v1h-1zM1270 476h1v1h-1zM1228 477h1v1h-1zM1269 477h1v1h-1zM1229 478h1v1h-1zM1269 478h1v1h-1zM1229 479h1v1h-1zM1269 479h1v1h-1zM1229 480h1v1h-1zM1269 480h1v1h-1zM1229 481h1v1h-1zM1269 481h1v1h-1zM1230 482h1v1h-1zM1268 482h1v1h-1zM1230 483h1v1h-1zM1268 483h1v1h-1zM1230 484h1v1h-1zM1268 484h1v1h-1zM1231 485h1v1h-1zM1268 485h1v1h-1zM1231 486h1v1h-1zM1268 486h1v1h-1zM1231 487h1v1h-1zM1267 487h1v1h-1zM1231 488h1v1h-1zM1267 488h1v1h-1zM1232 489h1v1h-1zM1267 489h1v1h-1zM1232 490h1v1h-1zM1267 490h1v1h-1zM1233 491h1v1h-1zM1266 491h1v1h-1zM1233 492h1v1h-1zM1266 492h1v1h-1zM1234 493h1v1h-1zM1266 493h1v1h-1zM1234 494h1v1h-1zM1266 494h1v1h-1zM1235 495h1v1h-1zM1265 495h1v1h-1zM1235 496h1v1h-1zM1265 496h1v1h-1zM1236 497h1v1h-1zM1265 497h1v1h-1zM1236 498h1v1h-1zM1265 498h1v1h-1zM1237 499h1v1h-1zM1264 499h1v1h-1zM1237 500h1v1h-1zM1264 500h1v1h-1zM1238 501h1v1h-1zM1264 501h1v1h-1zM1238 502h1v1h-1zM1263 502h1v1h-1zM1239 503h1v1h-1zM1263 503h1v1h-1zM1239 504h1v1h-1zM1262 504h1v1h-1zM1240 505h1v1h-1zM1262 505h1v1h-1zM1241 506h1v1h-1zM1262 506h1v1h-1zM1242 507h1v1h-1zM1261 507h1v1h-1zM1242 508h1v1h-1zM1261 508h1v1h-1zM1243 509h1v1h-1zM1260 509h1v1h-1zM1244 510h1v1h-1zM1260 510h1v1h-1zM1245 511h1v1h-1zM1259 511h1v1h-1zM1246 512h1v1h-1zM1258 512h1v1h-1zM1246 513h1v1h-1zM1258 513h1v1h-1zM1247 514h1v1h-1zM1257 514h1v1h-1zM1248 515h1v1h-1zM1256 515h1v1h-1zM1249 516h1v1h-1zM1254 516h2v1h-2zM1250 517h2v1h-2zM1253 517h1v1h-1zM1252 518h1v1h-1z" fill="#ff0000" shape-rendering="crispEdges"/>
<path d="M418 100h3v1h-3zM416 101h2v1h-2zM421 101h1v1h-1zM415 102h1v1h-1zM422 102h2v1h-2zM415 103h1v1h-1zM424 103h1v1h-1zM414 104h1v1h-1zM424 104h1v1h-1zM414 105h1v1h-1zM425 105h1v1h-1zM413 106h1v1h-1zM425 106h1v1h-1zM413 107h1v1h-1zM425 107h1v1h-1zM16 108h1v1h-1zM412 108h1v1h-1zM426 108h1v1h-1zM14 109h2v1h-2zM17 109h1v1h-1zM412 109h1v1h-1zM426 109h1v1h-1zM13 110h1v1h-1zM18 110h1v1h-1zM412 110h1v1h-1zM426 110h1v1h-1zM12 111h1v1h-1zM19 111h1v1h-1zM411 111h1v1h-1zM427 111h1v1h-1zM11 112h1v1h-1zM20 112h1v1h-1zM411 112h1v1h-1zM427 112h1v1h-1zM11 113h1v1h-1zM20 113h1v1h-1zM411 113h1v1h-1zM427 113h1v1h-1zM10 114h1v1h-1zM21 114h1v1h-1zM411 114h1v1h-1zM428 114h1v1h-1zM9 115h1v1h-1zM21 115h1v1h-1zM410 115h1v1h-1zM428 115h1v1h-1zM9 116h1v1h-1zM21 116h1v1h-1zM410 116h1v1h-1zM428 116h1v1h-1zM8 117h1v1h-1zM22 117h1v1h-1zM410 117h1v1h-1zM429 117h1v1h-1zM7 118h1v1h-1zM22 118h1v1h-1zM410 118h1v1h-1zM429 118h1v1h-1zM7 119h1v1h-1zM22 119h1v1h-1zM409 119h1v1h-1zM429 119h1v1h-1zM6 120h1v1h-1zM23 120h1v1h-1zM409 120h1v1h-1zM429 120h1v1h-1zM5 121h1v1h-1zM23 121h1v1h-1zM409 121h1v1h-1zM430 121h1v1h-1zM5 122h1v1h-1zM23 122h1v1h-1zM409 122h1v1h-1zM430 122h1v1h-1zM4 123h1v1h-1zM24 123h1v1h-1zM408 123h1v1h-1zM430 123h1v1h-1zM24 124h1v1h-1zM408 124h1v1h-1zM431 124h1v1h-1zM24 125h1v1h-1zM408 125h1v1h-1zM431 125h1v1h-1zM25 126h1v1h-1zM408 126h1v1h-1zM431 126h1v1h-1zM25 127h1v1h-1zM408 127h1v1h-1zM431 127h1v1h-1zM25 128h1v1h-1zM408 128h1v1h-1zM432 128h1v1h-1zM26 129h1v1h-1zM407 129h1v1h-1zM432 129h1v1h-1zM26 130h1v1h-1zM407 130h1v1h-1zM432 130h1v1h-1zM27 131h1v1h-1zM80 131h1v1h-1zM407 131h1v1h-1zM433 131h1v1h-1zM27 132h1v1h-1zM79 132h1v1h-1zM81 132h1v1h-1zM407 132h1v1h-1zM433 132h1v1h-1zM27 133h1v1h-1zM79 133h1v1h-1zM81 133h1v1h-1zM407 133h1v1h-1zM433 133h1v1h-1zM28 134h1v1h-1zM78 134h1v1h-1zM82 134h1v1h-1zM407 134h1v1h-1zM433 134h1v1h-1zM28 135h1v1h-1zM77 135h1v1h-1zM83 135h1v1h-1zM407 135h1v1h-1zM434 135h1v1h-1zM28 136h1v1h-1zM77 136h1v1h-1zM83 136h1v1h-1zM406 136h1v1h-1zM434 136h1v1h-1zM28 137h1v1h-1zM76 137h1v1h-1zM84 137h1v1h-1zM406 137h1v1h-1zM434 137h1v1h-1zM29 138h1v1h-1zM75 138h1v1h-1zM85 138h1v1h-1zM406 138h1v1h-1zM434 138h1v1h-1zM29 139h1v1h-1zM75 139h1v1h-1zM85 139h1v1h-1zM406 139h1v1h-1zM435 139h1v1h-1zM29 140h1v1h-1zM74 140h1v1h-1zM86 140h1v1h-1zM406 140h1v1h-1zM435 140h1v1h-1zM29 141h1v1h-1zM74 141h1v1h-1zM86 141h1v1h-1zM406 141h1v1h-1zM435 141h1v1h-1zM29 142h1v1h-1zM73 142h1v1h-1zM87 142h1v1h-1zM405 142h1v1h-1zM435 142h1v1h-1zM29 143h1v1h-1zM73 143h1v1h-1zM87 143h1v1h-1zM405 143h1v1h-1zM436 143h1v1h-1zM30 144h1v1h-1zM72 144h1v1h-1zM88 144h1v1h-1zM405 144h1v1h-1zM436 144h1v1h-1zM30 145h1v1h-1zM71 145h1v1h-1zM89 145h1v1h-1zM405 145h1v1h-1zM436 145h1v1h-1zM30 146h1v1h-1zM71 146h1v1h-1zM90 146h1v1h-1zM405 146h1v1h-1zM437 146h1v1h-1zM30 147h1v1h-1zM70 147h1v1h-1zM91 147h1v1h-1zM405 147h1v1h-1zM437 147h1v1h-1zM30 148h1v1h-1zM69 148h1v1h-1zM92 148h1v1h-1zM405 148h1v1h-1zM437 148h1v1h-1zM30 149h1v1h-1zM69 149h1v1h-1zM92 149h1v1h-1zM404 149h1v1h-1zM437 149h1v1h-1zM31 150h1v1h-1zM68 150h1v1h-1zM93 150h1v1h-1zM363 150h2v1h-2zM404 150h1v1h-1zM438 150h1v1h-1zM31 151h1v1h-1zM68 151h1v1h-1zM93 151h1v1h-1zM361 151h2v1h-2zM365 151h1v1h-1zM404 151h1v1h-1zM438 151h1v1h-1zM31 152h1v1h-1zM67 152h1v1h-1zM93 152h1v1h-1zM360 152h1v1h-1zM365 152h1v1h-1zM404 152h1v1h-1zM438 152h1v1h-1zM31 153h1v1h-1zM67 153h1v1h-1zM94 153h1v1h-1zM360 153h1v1h-1zM366 153h1v1h-1zM404 153h1v1h-1zM438 153h1v1h-1zM31 154h1v1h-1zM66 154h1v1h-1zM94 154h1v1h-1zM359 154h1v1h-1zM366 154h1v1h-1zM404 154h1v1h-1zM439 154h1v1h-1zM31 155h1v1h-1zM66 155h1v1h-1zM95 155h1v1h-1zM359 155h1v1h-1zM367 155h1v1h-1zM404 155h1v1h-1zM439 155h1v1h-1zM32 156h1v1h-1zM65 156h1v1h-1zM95 156h1v1h-1zM359 156h1v1h-1zM367 156h1v1h-1zM403 156h1v1h-1zM439 156h1v1h-1zM32 157h1v1h-1zM65 157h1v1h-1zM95 157h1v1h-1zM358 157h1v1h-1zM368 157h1v1h-1zM403 157h1v1h-1zM439 157h1v1h-1zM32 158h1v1h-1zM64 158h1v1h-1zM96 158h1v1h-1zM358 158h1v1h-1zM368 158h1v1h-1zM403 158h1v1h-1zM440 158h1v1h-1zM32 159h1v1h-1zM64 159h1v1h-1zM96 159h1v1h-1zM357 159h1v1h-1zM368 159h1v1h-1zM403 159h1v1h-1zM440 159h1v1h-1zM32 160h1v1h-1zM64 160h1v1h-1zM96 160h1v1h-1zM357 160h1v1h-1zM368 160h1v1h-1zM403 160h1v1h-1zM440 160h1v1h-1zM32 161h1v1h-1zM63 161h1v1h-1zM96 161h1v1h-1zM357 161h1v1h-1zM369 161h1v1h-1zM403 161h1v1h-1zM440 161h1v1h-1zM33 162h1v1h-1zM63 162h1v1h-1zM97 162h1v1h-1zM356 162h1v1h-1zM369 162h1v1h-1zM403 162h1v1h-1zM440 162h1v1h-1zM33 163h1v1h-1zM63 163h1v1h-1zM97 163h1v1h-1zM356 163h1v1h-1zM369 163h1v1h-1zM403 163h1v1h-1zM441 163h1v1h-1zM33 164h1v1h-1zM63 164h1v1h-1zM97 164h1v1h-1zM356 164h1v1h-1zM369 164h1v1h-1zM402 164h1v1h-1zM441 164h1v1h-1zM33 165h1v1h-1zM62 165h1v1h-1zM97 165h1v1h-1zM355 165h1v1h-1zM369 165h1v1h-1zM402 165h1v1h-1zM441 165h1v1h-1zM33 166h1v1h-1zM62 166h1v1h-1zM98 166h1v1h-1zM355 166h1v1h-1zM370 166h1v1h-1zM402 166h1v1h-1zM441 166h1v1h-1zM34 167h1v1h-1zM62 167h1v1h-1zM98 167h1v1h-1zM172 167h1v1h-1zM355 167h1v1h-1zM370 167h1v1h-1zM402 167h1v1h-1zM441 167h1v1h-1zM34 168h1v1h-1zM62 168h1v1h-1zM98 168h1v1h-1zM171 168h2v1h-2zM354 168h1v1h-1zM370 168h1v1h-1zM402 168h1v1h-1zM441 168h1v1h-1zM34 169h1v1h-1zM61 169h1v1h-1zM98 169h1v1h-1zM170 169h1v1h-1zM173 169h1v1h-1zM354 169h1v1h-1zM370 169h1v1h-1zM402 169h1v1h-1zM442 169h1v1h-1zM34 170h1v1h-1zM61 170h1v1h-1zM99 170h1v1h-1zM170 170h1v1h-1zM173 170h1v1h-1zM353 170h1v1h-1zM371 170h1v1h-1zM402 170h1v1h-1zM442 170h1v1h-1zM35 171h1v1h-1zM61 171h1v1h-1zM99 171h1v1h-1zM169 171h1v1h-1zM174 171h1v1h-1zM353 171h1v1h-1zM371 171h1v1h-1zM402 171h1v1h-1zM442 171h1v1h-1zM35 172h1v1h-1zM61 172h1v1h-1zM99 172h1v1h-1zM168 172h1v1h-1zM174 172h1v1h-1zM353 172h1v1h-1zM371 172h1v1h-1zM401 172h1v1h-1zM442 172h1v1h-1zM35 173h1v1h-1zM60 173h1v1h-1zM99 173h1v1h-1zM167 173h1v1h-1zM175 173h1v1h-1zM352 173h1v1h-1zM371 173h1v1h-1zM401 173h1v1h-1zM442 173h1v1h-1zM35 174h1v1h-1zM60 174h1v1h-1zM100 174h1v1h-1zM166 174h1v1h-1zM175 174h1v1h-1zM352 174h1v1h-1zM371 174h1v1h-1zM401 174h1v1h-1zM442 174h1v1h-1zM35 175h1v1h-1zM60 175h1v1h-1zM100 175h1v1h-1zM165 175h1v1h-1zM176 175h1v1h-1zM352 175h1v1h-1zM372 175h1v1h-1zM401 175h1v1h-1zM443 175h1v1h-1zM36 176h1v1h-1zM59 176h1v1h-1zM100 176h1v1h-1zM164 176h1v1h-1zM176 176h1v1h-1zM352 176h1v1h-1zM372 176h1v1h-1zM401 176h1v1h-1zM443 176h1v1h-1zM36 177h1v1h-1zM59 177h1v1h-1zM101 177h1v1h-1zM163 177h1v1h-1zM176 177h1v1h-1zM351 177h1v1h-1zM372 177h1v1h-1zM401 177h1v1h-1zM443 177h1v1h-1zM36 178h1v1h-1zM59 178h1v1h-1zM101 178h1v1h-1zM162 178h1v1h-1zM177 178h1v1h-1zM351 178h1v1h-1zM372 178h1v1h-1zM401 178h1v1h-1zM443 178h1v1h-1zM36 179h1v1h-1zM58 179h1v1h-1zM102 179h1v1h-1zM161 179h1v1h-1zM177 179h1v1h-1zM351 179h1v1h-1zM373 179h1v1h-1zM401 179h1v1h-1zM443 179h1v1h-1zM37 180h1v1h-1zM58 180h1v1h-1zM102 180h1v1h-1zM160 180h1v1h-1zM177 180h1v1h-1zM351 180h1v1h-1zM373 180h1v1h-1zM400 180h1v1h-1zM443 180h1v1h-1zM37 181h1v1h-1zM58 181h1v1h-1zM103 181h1v1h-1zM159 181h1v1h-1zM178 181h1v1h-1zM351 181h1v1h-1zM373 181h1v1h-1zM400 181h1v1h-1zM444 181h1v1h-1zM37 182h1v1h-1zM58 182h1v1h-1zM103 182h1v1h-1zM158 182h1v1h-1zM178 182h1v1h-1zM351 182h1v1h-1zM373 182h1v1h-1zM400 182h1v1h-1zM444 182h1v1h-1zM38 183h1v1h-1zM57 183h1v1h-1zM104 183h1v1h-1zM158 183h1v1h-1zM179 183h1v1h-1zM350 183h1v1h-1zM374 183h1v1h-1zM400 183h1v1h-1zM444 183h1v1h-1zM38 184h1v1h-1zM57 184h1v1h-1zM104 184h1v1h-1zM157 184h1v1h-1zM179 184h1v1h-1zM350 184h1v1h-1zM374 184h1v1h-1zM400 184h1v1h-1zM444 184h1v1h-1zM38 185h1v1h-1zM57 185h1v1h-1zM105 185h1v1h-1zM156 185h1v1h-1zM179 185h1v1h-1zM350 185h1v1h-1zM374 185h1v1h-1zM400 185h1v1h-1zM444 185h1v1h-1zM38 186h1v1h-1zM56 186h1v1h-1zM105 186h1v1h-1zM156 186h1v1h-1zM180 186h1v1h-1zM350 186h1v1h-1zM374 186h1v1h-1zM399 186h1v1h-1zM445 186h1v1h-1zM39 187h1v1h-1zM56 187h1v1h-1zM105 187h1v1h-1zM155 187h1v1h-1zM180 187h1v1h-1zM350 187h1v1h-1zM375 187h1v1h-1zM399 187h1v1h-1zM445 187h1v1h-1zM39 188h1v1h-1zM56 188h1v1h-1zM106 188h1v1h-1zM155 188h1v1h-1zM180 188h1v1h-1zM349 188h1v1h-1zM375 188h1v1h-1zM399 188h1v1h-1zM445 188h1v1h-1zM39 189h1v1h-1zM55 189h1v1h-1zM106 189h1v1h-1zM155 189h1v1h-1zM181 189h1v1h-1zM349 189h1v1h-1zM375 189h1v1h-1zM399 189h1v1h-1zM446 189h1v1h-1zM40 190h1v1h-1zM55 190h1v1h-1zM107 190h1v1h-1zM154 190h1v1h-1zM181 190h1v1h-1zM349 190h1v1h-1zM375 190h1v1h-1zM399 190h1v1h-1zM446 190h1v1h-1zM40 191h1v1h-1zM55 191h1v1h-1zM107 191h1v1h-1zM154 191h1v1h-1zM182 191h1v1h-1zM349 191h1v1h-1zM376 191h1v1h-1zM398 191h1v1h-1zM446 191h1v1h-1zM40 192h1v1h-1zM54 192h1v1h-1zM107 192h1v1h-1zM154 192h1v1h-1zM182 192h1v1h-1zM349 192h1v1h-1zM376 192h1v1h-1zM398 192h1v1h-1zM446 192h1v1h-1zM41 193h1v1h-1zM54 193h1v1h-1zM108 193h1v1h-1zM154 193h1v1h-1zM183 193h1v1h-1zM349 193h1v1h-1zM376 193h1v1h-1zM398 193h1v1h-1zM447 193h1v1h-1zM41 194h1v1h-1zM53 194h1v1h-1zM108 194h1v1h-1zM153 194h1v1h-1zM183 194h1v1h-1zM348 194h1v1h-1zM376 194h1v1h-1zM398 194h1v1h-1zM447 194h1v1h-1zM41 195h1v1h-1zM53 195h1v1h-1zM108 195h1v1h-1zM153 195h1v1h-1zM184 195h1v1h-1zM348 195h1v1h-1zM377 195h1v1h-1zM398 195h1v1h-1zM447 195h1v1h-1zM42 196h1v1h-1zM53 196h1v1h-1zM108 196h1v1h-1zM153 196h1v1h-1zM184 196h1v1h-1zM348 196h1v1h-1zM377 196h1v1h-1zM398 196h1v1h-1zM448 196h1v1h-1zM476 196h1v1h-1zM42 197h1v1h-1zM52 197h1v1h-1zM109 197h1v1h-1zM152 197h1v1h-1zM185 197h1v1h-1zM348 197h1v1h-1zM377 197h1v1h-1zM397 197h1v1h-1zM448 197h1v1h-1zM475 197h1v1h-1zM477 197h1v1h-1zM42 198h1v1h-1zM52 198h1v1h-1zM109 198h1v1h-1zM152 198h1v1h-1zM186 198h1v1h-1zM348 198h1v1h-1zM378 198h1v1h-1zM397 198h1v1h-1zM448 198h1v1h-1zM475 198h1v1h-1zM477 198h1v1h-1zM42 199h1v1h-1zM52 199h1v1h-1zM109 199h1v1h-1zM152 199h1v1h-1zM186 199h1v1h-1zM347 199h1v1h-1zM378 199h1v1h-1zM397 199h1v1h-1zM449 199h1v1h-1zM474 199h1v1h-1zM478 199h1v1h-1zM43 200h1v1h-1zM51 200h1v1h-1zM109 200h1v1h-1zM151 200h1v1h-1zM187 200h1v1h-1zM347 200h1v1h-1zM378 200h1v1h-1zM397 200h1v1h-1zM449 200h1v1h-1zM474 200h1v1h-1zM478 200h1v1h-1zM43 201h1v1h-1zM51 201h1v1h-1zM110 201h1v1h-1zM151 201h1v1h-1zM188 201h1v1h-1zM347 201h1v1h-1zM378 201h1v1h-1zM397 201h1v1h-1zM449 201h1v1h-1zM473 201h1v1h-1zM479 201h1v1h-1zM43 202h1v1h-1zM51 202h1v1h-1zM110 202h1v1h-1zM150 202h1v1h-1zM188 202h1v1h-1zM347 202h1v1h-1zM379 202h1v1h-1zM396 202h1v1h-1zM449 202h1v1h-1zM473 202h1v1h-1zM479 202h1v1h-1zM44 203h1v1h-1zM50 203h1v1h-1zM110 203h1v1h-1zM150 203h1v1h-1zM189 203h1v1h-1zM347 203h1v1h-1zM379 203h1v1h-1zM396 203h1v1h-1zM450 203h1v1h-1zM472 203h1v1h-1zM480 203h1v1h-1zM44 204h1v1h-1zM50 204h1v1h-1zM110 204h1v1h-1zM149 204h1v1h-1zM189 204h1v1h-1zM347 204h1v1h-1zM379 204h1v1h-1zM396 204h1v1h-1zM450 204h1v1h-1zM472 204h1v1h-1zM481 204h1v1h-1zM45 205h1v1h-1zM50 205h1v1h-1zM111 205h1v1h-1zM149 205h1v1h-1zM189 205h1v1h-1zM346 205h1v1h-1zM380 205h1v1h-1zM396 205h1v1h-1zM450 205h1v1h-1zM471 205h1v1h-1zM482 205h1v1h-1zM45 206h1v1h-1zM49 206h1v1h-1zM111 206h1v1h-1zM148 206h1v1h-1zM190 206h1v1h-1zM346 206h1v1h-1zM380 206h1v1h-1zM396 206h1v1h-1zM451 206h1v1h-1zM471 206h1v1h-1zM482 206h1v1h-1zM46 207h1v1h-1zM49 207h1v1h-1zM111 207h1v1h-1zM148 207h1v1h-1zM190 207h1v1h-1zM346 207h1v1h-1zM380 207h1v1h-1zM395 207h1v1h-1zM451 207h1v1h-1zM470 207h1v1h-1zM483 207h1v1h-1zM47 208h1v1h-1zM49 208h1v1h-1zM111 208h1v1h-1zM147 208h1v1h-1zM190 208h1v1h-1zM346 208h1v1h-1zM380 208h1v1h-1zM395 208h1v1h-1zM451 208h1v1h-1zM470 208h1v1h-1zM484 208h1v1h-1zM47 209h2v1h-2zM112 209h1v1h-1zM147 209h1v1h-1zM190 209h1v1h-1zM346 209h1v1h-1zM381 209h1v1h-1zM395 209h1v1h-1zM451 209h1v1h-1zM470 209h1v1h-1zM485 209h1v1h-1zM48 210h1v1h-1zM112 210h1v1h-1zM146 210h1v1h-1zM191 210h1v1h-1zM346 210h1v1h-1zM381 210h1v1h-1zM395 210h1v1h-1zM452 210h1v1h-1zM469 210h1v1h-1zM486 210h1v1h-1zM112 211h1v1h-1zM146 211h1v1h-1zM191 211h1v1h-1zM345 211h1v1h-1zM381 211h1v1h-1zM395 211h1v1h-1zM452 211h1v1h-1zM469 211h1v1h-1zM487 211h1v1h-1zM112 212h1v1h-1zM145 212h1v1h-1zM191 212h1v1h-1zM345 212h1v1h-1zM381 212h1v1h-1zM394 212h1v1h-1zM452 212h1v1h-1zM468 212h1v1h-1zM488 212h1v1h-1zM113 213h1v1h-1zM145 213h1v1h-1zM192 213h1v1h-1zM345 213h1v1h-1zM382 213h1v1h-1zM394 213h1v1h-1zM453 213h1v1h-1zM468 213h1v1h-1zM489 213h1v1h-1zM113 214h1v1h-1zM144 214h1v1h-1zM192 214h1v1h-1zM345 214h1v1h-1zM382 214h1v1h-1zM394 214h1v1h-1zM453 214h1v1h-1zM467 214h1v1h-1zM489 214h1v1h-1zM113 215h1v1h-1zM143 215h1v1h-1zM192 215h1v1h-1zM345 215h1v1h-1zM382 215h1v1h-1zM394 215h1v1h-1zM454 215h1v1h-1zM466 215h1v1h-1zM490 215h1v1h-1zM114 216h1v1h-1zM142 216h1v1h-1zM193 216h1v1h-1zM345 216h1v1h-1zM382 216h1v1h-1zM393 216h1v1h-1zM454 216h1v1h-1zM466 216h1v1h-1zM490 216h1v1h-1zM114 217h1v1h-1zM142 217h1v1h-1zM193 217h1v1h-1zM344 217h1v1h-1zM382 217h1v1h-1zM393 217h1v1h-1zM454 217h1v1h-1zM465 217h1v1h-1zM491 217h1v1h-1zM115 218h1v1h-1zM141 218h1v1h-1zM194 218h1v1h-1zM344 218h1v1h-1zM383 218h1v1h-1zM393 218h1v1h-1zM455 218h1v1h-1zM464 218h1v1h-1zM491 218h1v1h-1zM115 219h1v1h-1zM140 219h1v1h-1zM194 219h1v1h-1zM344 219h1v1h-1zM383 219h1v1h-1zM393 219h1v1h-1zM455 219h1v1h-1zM463 219h1v1h-1zM492 219h1v1h-1zM115 220h1v1h-1zM140 220h1v1h-1zM195 220h1v1h-1zM344 220h1v1h-1zM383 220h1v1h-1zM393 220h1v1h-1zM456 220h1v1h-1zM463 220h1v1h-1zM492 220h1v1h-1zM116 221h1v1h-1zM139 221h1v1h-1zM195 221h1v1h-1zM260 221h5v1h-5zM344 221h1v1h-1zM383 221h1v1h-1zM392 221h1v1h-1zM456 221h1v1h-1zM462 221h1v1h-1zM493 221h1v1h-1zM116 222h1v1h-1zM139 222h1v1h-1zM196 222h1v1h-1zM260 222h1v1h-1zM265 222h1v1h-1zM343 222h1v1h-1zM384 222h1v1h-1zM392 222h1v1h-1zM457 222h1v1h-1zM462 222h1v1h-1zM494 222h1v1h-1zM116 223h1v1h-1zM139 223h1v1h-1zM196 223h1v1h-1zM259 223h1v1h-1zM266 223h1v1h-1zM343 223h1v1h-1zM384 223h1v1h-1zM392 223h1v1h-1zM458 223h1v1h-1zM461 223h1v1h-1zM494 223h1v1h-1zM117 224h1v1h-1zM138 224h1v1h-1zM196 224h1v1h-1zM259 224h1v1h-1zM266 224h1v1h-1zM343 224h1v1h-1zM384 224h1v1h-1zM392 224h1v1h-1zM459 224h1v1h-1zM461 224h1v1h-1zM495 224h1v1h-1zM117 225h1v1h-1zM138 225h1v1h-1zM197 225h1v1h-1zM258 225h1v1h-1zM267 225h1v1h-1zM343 225h1v1h-1zM384 225h1v1h-1zM391 225h1v1h-1zM460 225h1v1h-1zM496 225h5v1h-5zM118 226h1v1h-1zM138 226h1v1h-1zM197 226h1v1h-1zM258 226h1v1h-1zM268 226h1v1h-1zM343 226h1v1h-1zM385 226h1v1h-1zM391 226h1v1h-1zM500 226h1v1h-1zM118 227h1v1h-1zM137 227h1v1h-1zM197 227h1v1h-1zM257 227h1v1h-1zM268 227h1v1h-1zM343 227h1v1h-1zM385 227h1v1h-1zM391 227h1v1h-1zM501 227h1v1h-1zM118 228h1v1h-1zM137 228h1v1h-1zM197 228h1v1h-1zM257 228h1v1h-1zM269 228h1v1h-1zM342 228h1v1h-1zM386 228h1v1h-1zM390 228h1v1h-1zM501 228h1v1h-1zM119 229h1v1h-1zM137 229h1v1h-1zM198 229h1v1h-1zM256 229h1v1h-1zM269 229h1v1h-1zM342 229h1v1h-1zM386 229h1v1h-1zM390 229h1v1h-1zM501 229h1v1h-1zM119 230h1v1h-1zM136 230h1v1h-1zM198 230h1v1h-1zM256 230h1v1h-1zM270 230h1v1h-1zM342 230h1v1h-1zM386 230h1v1h-1zM389 230h1v1h-1zM502 230h1v1h-1zM120 231h1v1h-1zM122 231h4v1h-4zM134 231h3v1h-3zM198 231h1v1h-1zM255 231h1v1h-1zM270 231h1v1h-1zM342 231h1v1h-1zM387 231h1v1h-1zM389 231h1v1h-1zM502 231h1v1h-1zM120 232h2v1h-2zM126 232h8v1h-8zM199 232h1v1h-1zM254 232h1v1h-1zM270 232h1v1h-1zM342 232h1v1h-1zM387 232h1v1h-1zM389 232h1v1h-1zM502 232h1v1h-1zM199 233h1v1h-1zM254 233h1v1h-1zM271 233h1v1h-1zM342 233h1v1h-1zM388 233h1v1h-1zM503 233h1v1h-1zM571 233h2v1h-2zM199 234h1v1h-1zM253 234h1v1h-1zM271 234h1v1h-1zM341 234h1v1h-1zM388 234h1v1h-1zM503 234h1v1h-1zM569 234h2v1h-2zM573 234h1v1h-1zM199 235h1v1h-1zM252 235h1v1h-1zM272 235h1v1h-1zM341 235h1v1h-1zM503 235h1v1h-1zM567 235h2v1h-2zM573 235h1v1h-1zM200 236h1v1h-1zM251 236h1v1h-1zM272 236h1v1h-1zM341 236h1v1h-1zM504 236h1v1h-1zM565 236h2v1h-2zM574 236h1v1h-1zM200 237h1v1h-1zM251 237h1v1h-1zM272 237h1v1h-1zM341 237h1v1h-1zM504 237h1v1h-1zM564 237h1v1h-1zM574 237h1v1h-1zM200 238h1v1h-1zM250 238h1v1h-1zM273 238h1v1h-1zM341 238h1v1h-1zM504 238h1v1h-1zM564 238h1v1h-1zM575 238h1v1h-1zM201 239h1v1h-1zM250 239h1v1h-1zM273 239h1v1h-1zM341 239h1v1h-1zM505 239h1v1h-1zM564 239h1v1h-1zM575 239h1v1h-1zM1064 239h1v1h-1zM201 240h1v1h-1zM232 240h2v1h-2zM249 240h1v1h-1zM274 240h1v1h-1zM340 240h1v1h-1zM505 240h1v1h-1zM563 240h1v1h-1zM576 240h1v1h-1zM1063 240h1v1h-1zM1065 240h1v1h-1zM201 241h1v1h-1zM231 241h1v1h-1zM234 241h3v1h-3zM249 241h1v1h-1zM274 241h1v1h-1zM340 241h1v1h-1zM505 241h1v1h-1zM563 241h1v1h-1zM576 241h1v1h-1zM1063 241h1v1h-1zM1066 241h1v1h-1zM201 242h1v1h-1zM230 242h1v1h-1zM236 242h1v1h-1zM248 242h1v1h-1zM274 242h1v1h-1zM340 242h1v1h-1zM506 242h1v1h-1zM563 242h1v1h-1zM577 242h1v1h-1zM1062 242h1v1h-1zM1067 242h1v1h-1zM202 243h1v1h-1zM230 243h1v1h-1zM237 243h1v1h-1zM247 243h1v1h-1zM275 243h1v1h-1zM340 243h1v1h-1zM506 243h1v1h-1zM563 243h1v1h-1zM577 243h1v1h-1zM1061 243h1v1h-1zM1068 243h1v1h-1zM202 244h1v1h-1zM229 244h1v1h-1zM237 244h1v1h-1zM247 244h1v1h-1zM275 244h1v1h-1zM340 244h1v1h-1zM506 244h1v1h-1zM562 244h1v1h-1zM578 244h1v1h-1zM1061 244h1v1h-1zM1069 244h1v1h-1zM202 245h1v1h-1zM228 245h1v1h-1zM237 245h1v1h-1zM246 245h1v1h-1zM276 245h1v1h-1zM339 245h1v1h-1zM506 245h1v1h-1zM562 245h1v1h-1zM578 245h1v1h-1zM1060 245h1v1h-1zM1070 245h1v1h-1zM203 246h1v1h-1zM227 246h1v1h-1zM238 246h1v1h-1zM246 246h1v1h-1zM276 246h1v1h-1zM339 246h1v1h-1zM507 246h1v1h-1zM562 246h1v1h-1zM579 246h1v1h-1zM1060 246h1v1h-1zM1070 246h1v1h-1zM203 247h1v1h-1zM227 247h1v1h-1zM238 247h1v1h-1zM245 247h1v1h-1zM276 247h1v1h-1zM339 247h1v1h-1zM507 247h1v1h-1zM562 247h1v1h-1zM579 247h1v1h-1zM1060 247h1v1h-1zM1071 247h1v1h-1zM203 248h1v1h-1zM226 248h1v1h-1zM239 248h1v1h-1zM245 248h1v1h-1zM277 248h1v1h-1zM339 248h1v1h-1zM507 248h1v1h-1zM562 248h1v1h-1zM580 248h1v1h-1zM1059 248h1v1h-1zM1072 248h1v1h-1zM203 249h1v1h-1zM225 249h1v1h-1zM239 249h1v1h-1zM244 249h1v1h-1zM277 249h1v1h-1zM338 249h1v1h-1zM508 249h1v1h-1zM561 249h1v1h-1zM580 249h1v1h-1zM1059 249h1v1h-1zM1073 249h1v1h-1zM204 250h1v1h-1zM225 250h1v1h-1zM239 250h1v1h-1zM242 250h2v1h-2zM277 250h1v1h-1zM338 250h1v1h-1zM508 250h1v1h-1zM561 250h1v1h-1zM580 250h1v1h-1zM1059 250h1v1h-1zM1074 250h1v1h-1zM204 251h1v1h-1zM224 251h1v1h-1zM240 251h2v1h-2zM278 251h1v1h-1zM338 251h1v1h-1zM508 251h1v1h-1zM561 251h1v1h-1zM580 251h1v1h-1zM1059 251h1v1h-1zM1074 251h1v1h-1zM204 252h1v1h-1zM223 252h1v1h-1zM240 252h1v1h-1zM278 252h1v1h-1zM312 252h1v1h-1zM338 252h1v1h-1zM509 252h1v1h-1zM561 252h1v1h-1zM581 252h1v1h-1zM1059 252h1v1h-1zM1075 252h1v1h-1zM205 253h1v1h-1zM222 253h1v1h-1zM278 253h1v1h-1zM310 253h2v1h-2zM313 253h1v1h-1zM337 253h1v1h-1zM509 253h1v1h-1zM560 253h1v1h-1zM581 253h1v1h-1zM1058 253h1v1h-1zM1076 253h1v1h-1zM205 254h1v1h-1zM222 254h1v1h-1zM279 254h1v1h-1zM309 254h1v1h-1zM313 254h1v1h-1zM337 254h1v1h-1zM509 254h1v1h-1zM560 254h1v1h-1zM581 254h1v1h-1zM1058 254h1v1h-1zM1076 254h1v1h-1zM205 255h1v1h-1zM221 255h1v1h-1zM279 255h1v1h-1zM308 255h1v1h-1zM314 255h1v1h-1zM337 255h1v1h-1zM510 255h1v1h-1zM560 255h1v1h-1zM581 255h1v1h-1zM1058 255h1v1h-1zM1077 255h1v1h-1zM205 256h1v1h-1zM220 256h1v1h-1zM279 256h1v1h-1zM307 256h1v1h-1zM315 256h1v1h-1zM337 256h1v1h-1zM510 256h1v1h-1zM560 256h1v1h-1zM581 256h1v1h-1zM1058 256h1v1h-1zM1077 256h1v1h-1zM206 257h1v1h-1zM220 257h1v1h-1zM280 257h1v1h-1zM306 257h1v1h-1zM315 257h1v1h-1zM336 257h1v1h-1zM511 257h1v1h-1zM559 257h1v1h-1zM582 257h1v1h-1zM1057 257h1v1h-1zM1077 257h1v1h-1zM206 258h1v1h-1zM220 258h1v1h-1zM280 258h1v1h-1zM306 258h1v1h-1zM316 258h1v1h-1zM336 258h1v1h-1zM511 258h1v1h-1zM559 258h1v1h-1zM582 258h1v1h-1zM1057 258h1v1h-1zM1078 258h1v1h-1zM206 259h1v1h-1zM219 259h1v1h-1zM281 259h1v1h-1zM305 259h1v1h-1zM316 259h1v1h-1zM336 259h1v1h-1zM511 259h1v1h-1zM559 259h1v1h-1zM582 259h1v1h-1zM1057 259h1v1h-1zM1078 259h1v1h-1zM206 260h1v1h-1zM219 260h1v1h-1zM281 260h1v1h-1zM304 260h1v1h-1zM317 260h1v1h-1zM336 260h1v1h-1zM512 260h1v1h-1zM558 260h1v1h-1zM582 260h1v1h-1zM1057 260h1v1h-1zM1079 260h1v1h-1zM207 261h1v1h-1zM219 261h1v1h-1zM282 261h1v1h-1zM303 261h1v1h-1zM317 261h1v1h-1zM335 261h1v1h-1zM512 261h1v1h-1zM558 261h1v1h-1zM582 261h1v1h-1zM1057 261h1v1h-1zM1079 261h1v1h-1zM207 262h1v1h-1zM219 262h1v1h-1zM283 262h1v1h-1zM303 262h1v1h-1zM318 262h1v1h-1zM335 262h1v1h-1zM512 262h1v1h-1zM558 262h1v1h-1zM583 262h1v1h-1zM1056 262h1v1h-1zM1079 262h1v1h-1zM207 263h1v1h-1zM218 263h1v1h-1zM283 263h1v1h-1zM302 263h1v1h-1zM318 263h1v1h-1zM335 263h1v1h-1zM513 263h1v1h-1zM558 263h1v1h-1zM583 263h1v1h-1zM1056 263h1v1h-1zM1080 263h1v1h-1zM207 264h1v1h-1zM218 264h1v1h-1zM284 264h1v1h-1zM301 264h1v1h-1zM319 264h1v1h-1zM335 264h1v1h-1zM513 264h1v1h-1zM557 264h1v1h-1zM583 264h1v1h-1zM1056 264h1v1h-1zM1080 264h1v1h-1zM208 265h1v1h-1zM218 265h1v1h-1zM285 265h1v1h-1zM301 265h1v1h-1zM319 265h1v1h-1zM334 265h1v1h-1zM513 265h1v1h-1zM557 265h1v1h-1zM583 265h1v1h-1zM1056 265h1v1h-1zM1080 265h1v1h-1zM208 266h1v1h-1zM218 266h1v1h-1zM285 266h1v1h-1zM300 266h1v1h-1zM320 266h1v1h-1zM334 266h1v1h-1zM513 266h1v1h-1zM557 266h1v1h-1zM583 266h1v1h-1zM1056 266h1v1h-1zM1081 266h1v1h-1zM208 267h1v1h-1zM217 267h1v1h-1zM286 267h1v1h-1zM299 267h1v1h-1zM320 267h1v1h-1zM334 267h1v1h-1zM514 267h1v1h-1zM556 267h1v1h-1zM584 267h1v1h-1zM1055 267h1v1h-1zM1081 267h1v1h-1zM209 268h1v1h-1zM217 268h1v1h-1zM287 268h1v1h-1zM299 268h1v1h-1zM320 268h1v1h-1zM334 268h1v1h-1zM514 268h1v1h-1zM556 268h1v1h-1zM584 268h1v1h-1zM1055 268h1v1h-1zM1081 268h1v1h-1zM209 269h1v1h-1zM217 269h1v1h-1zM287 269h1v1h-1zM298 269h1v1h-1zM321 269h1v1h-1zM333 269h1v1h-1zM514 269h1v1h-1zM556 269h1v1h-1zM584 269h1v1h-1zM1055 269h1v1h-1zM1082 269h1v1h-1zM210 270h1v1h-1zM217 270h1v1h-1zM288 270h1v1h-1zM297 270h1v1h-1zM321 270h1v1h-1zM333 270h1v1h-1zM514 270h1v1h-1zM556 270h1v1h-1zM584 270h1v1h-1zM1055 270h1v1h-1zM1082 270h1v1h-1zM210 271h1v1h-1zM216 271h1v1h-1zM289 271h1v1h-1zM297 271h1v1h-1zM322 271h1v1h-1zM333 271h1v1h-1zM515 271h1v1h-1zM556 271h1v1h-1zM584 271h1v1h-1zM1055 271h1v1h-1zM1082 271h1v1h-1zM211 272h1v1h-1zM215 272h2v1h-2zM290 272h2v1h-2zM294 272h3v1h-3zM322 272h1v1h-1zM333 272h1v1h-1zM515 272h1v1h-1zM555 272h1v1h-1zM585 272h1v1h-1zM1054 272h1v1h-1zM1082 272h1v1h-1zM211 273h1v1h-1zM213 273h2v1h-2zM292 273h2v1h-2zM323 273h1v1h-1zM332 273h1v1h-1zM515 273h1v1h-1zM555 273h1v1h-1zM585 273h1v1h-1zM1054 273h1v1h-1zM1083 273h1v1h-1zM212 274h1v1h-1zM323 274h1v1h-1zM332 274h1v1h-1zM515 274h1v1h-1zM555 274h1v1h-1zM585 274h1v1h-1zM1054 274h1v1h-1zM1083 274h1v1h-1zM324 275h1v1h-1zM331 275h1v1h-1zM516 275h1v1h-1zM555 275h1v1h-1zM585 275h1v1h-1zM1054 275h1v1h-1zM1083 275h1v1h-1zM324 276h1v1h-1zM330 276h1v1h-1zM516 276h1v1h-1zM555 276h1v1h-1zM586 276h1v1h-1zM1054 276h1v1h-1zM1084 276h1v1h-1zM325 277h1v1h-1zM330 277h1v1h-1zM516 277h1v1h-1zM555 277h1v1h-1zM586 277h1v1h-1zM1054 277h1v1h-1zM1084 277h1v1h-1zM326 278h2v1h-2zM329 278h1v1h-1zM516 278h1v1h-1zM555 278h1v1h-1zM586 278h1v1h-1zM1053 278h1v1h-1zM1084 278h1v1h-1zM328 279h1v1h-1zM517 279h1v1h-1zM554 279h1v1h-1zM586 279h1v1h-1zM1053 279h1v1h-1zM1085 279h1v1h-1zM517 280h1v1h-1zM554 280h1v1h-1zM586 280h1v1h-1zM860 280h1v1h-1zM1053 280h1v1h-1zM1085 280h1v1h-1zM517 281h1v1h-1zM554 281h1v1h-1zM587 281h1v1h-1zM859 281h1v1h-1zM861 281h1v1h-1zM1053 281h1v1h-1zM1086 281h1v1h-1zM518 282h1v1h-1zM554 282h1v1h-1zM587 282h1v1h-1zM859 282h1v1h-1zM861 282h1v1h-1zM1053 282h1v1h-1zM1086 282h1v1h-1zM518 283h1v1h-1zM554 283h1v1h-1zM587 283h1v1h-1zM858 283h1v1h-1zM862 283h1v1h-1zM1052 283h1v1h-1zM1087 283h1v1h-1zM518 284h1v1h-1zM554 284h1v1h-1zM587 284h1v1h-1zM857 284h1v1h-1zM862 284h1v1h-1zM1052 284h1v1h-1zM1087 284h1v1h-1zM518 285h1v1h-1zM553 285h1v1h-1zM588 285h1v1h-1zM857 285h1v1h-1zM863 285h1v1h-1zM1052 285h1v1h-1zM1088 285h1v1h-1zM519 286h1v1h-1zM553 286h1v1h-1zM588 286h1v1h-1zM816 286h2v1h-2zM856 286h1v1h-1zM863 286h1v1h-1zM1052 286h1v1h-1zM1088 286h1v1h-1zM519 287h1v1h-1zM553 287h1v1h-1zM588 287h1v1h-1zM816 287h1v1h-1zM818 287h3v1h-3zM856 287h1v1h-1zM864 287h1v1h-1zM1052 287h1v1h-1zM1088 287h1v1h-1zM519 288h1v1h-1zM553 288h1v1h-1zM588 288h1v1h-1zM815 288h1v1h-1zM820 288h1v1h-1zM855 288h1v1h-1zM864 288h1v1h-1zM1051 288h1v1h-1zM1089 288h1v1h-1zM520 289h1v1h-1zM553 289h1v1h-1zM588 289h1v1h-1zM815 289h1v1h-1zM821 289h1v1h-1zM855 289h1v1h-1zM864 289h1v1h-1zM1051 289h1v1h-1zM1089 289h1v1h-1zM520 290h1v1h-1zM553 290h1v1h-1zM589 290h1v1h-1zM814 290h1v1h-1zM821 290h1v1h-1zM855 290h1v1h-1zM865 290h1v1h-1zM1051 290h1v1h-1zM1090 290h1v1h-1zM521 291h2v1h-2zM526 291h3v1h-3zM553 291h1v1h-1zM589 291h1v1h-1zM814 291h1v1h-1zM822 291h1v1h-1zM854 291h1v1h-1zM865 291h1v1h-1zM1051 291h1v1h-1zM1090 291h1v1h-1zM523 292h3v1h-3zM529 292h1v1h-1zM552 292h1v1h-1zM589 292h1v1h-1zM813 292h1v1h-1zM822 292h1v1h-1zM854 292h1v1h-1zM865 292h1v1h-1zM1050 292h1v1h-1zM1091 292h1v1h-1zM530 293h1v1h-1zM552 293h1v1h-1zM589 293h1v1h-1zM813 293h1v1h-1zM823 293h1v1h-1zM854 293h1v1h-1zM866 293h1v1h-1zM1050 293h1v1h-1zM1091 293h1v1h-1zM531 294h1v1h-1zM552 294h1v1h-1zM590 294h1v1h-1zM812 294h1v1h-1zM823 294h1v1h-1zM853 294h1v1h-1zM866 294h1v1h-1zM1011 294h2v1h-2zM1050 294h1v1h-1zM1092 294h1v1h-1zM532 295h1v1h-1zM552 295h1v1h-1zM590 295h1v1h-1zM812 295h1v1h-1zM824 295h1v1h-1zM853 295h1v1h-1zM866 295h1v1h-1zM1009 295h2v1h-2zM1013 295h1v1h-1zM1050 295h1v1h-1zM1092 295h1v1h-1zM532 296h1v1h-1zM552 296h1v1h-1zM590 296h1v1h-1zM812 296h1v1h-1zM824 296h1v1h-1zM853 296h1v1h-1zM867 296h1v1h-1zM1008 296h1v1h-1zM1014 296h2v1h-2zM1049 296h1v1h-1zM1092 296h1v1h-1zM1112 296h1v1h-1zM533 297h1v1h-1zM551 297h1v1h-1zM590 297h1v1h-1zM812 297h1v1h-1zM824 297h1v1h-1zM852 297h1v1h-1zM867 297h1v1h-1zM1008 297h1v1h-1zM1016 297h1v1h-1zM1049 297h1v1h-1zM1093 297h1v1h-1zM1110 297h2v1h-2zM1113 297h1v1h-1zM533 298h1v1h-1zM551 298h1v1h-1zM590 298h1v1h-1zM811 298h1v1h-1zM825 298h1v1h-1zM852 298h1v1h-1zM867 298h1v1h-1zM1007 298h1v1h-1zM1017 298h1v1h-1zM1049 298h1v1h-1zM1093 298h1v1h-1zM1109 298h1v1h-1zM1114 298h1v1h-1zM534 299h1v1h-1zM550 299h1v1h-1zM591 299h1v1h-1zM811 299h1v1h-1zM825 299h1v1h-1zM852 299h1v1h-1zM868 299h1v1h-1zM1007 299h1v1h-1zM1018 299h1v1h-1zM1049 299h1v1h-1zM1094 299h1v1h-1zM1108 299h1v1h-1zM1114 299h1v1h-1zM534 300h1v1h-1zM550 300h1v1h-1zM591 300h1v1h-1zM811 300h1v1h-1zM825 300h1v1h-1zM851 300h1v1h-1zM868 300h1v1h-1zM1007 300h1v1h-1zM1018 300h1v1h-1zM1048 300h1v1h-1zM1094 300h1v1h-1zM1108 300h1v1h-1zM1115 300h1v1h-1zM534 301h1v1h-1zM550 301h1v1h-1zM591 301h1v1h-1zM811 301h1v1h-1zM826 301h1v1h-1zM851 301h1v1h-1zM868 301h1v1h-1zM1006 301h1v1h-1zM1019 301h1v1h-1zM1048 301h1v1h-1zM1094 301h1v1h-1zM1107 301h1v1h-1zM1116 301h1v1h-1zM535 302h1v1h-1zM549 302h1v1h-1zM591 302h1v1h-1zM810 302h1v1h-1zM826 302h1v1h-1zM851 302h1v1h-1zM868 302h1v1h-1zM1006 302h1v1h-1zM1020 302h1v1h-1zM1048 302h1v1h-1zM1095 302h1v1h-1zM1107 302h1v1h-1zM1117 302h1v1h-1zM535 303h1v1h-1zM549 303h1v1h-1zM592 303h1v1h-1zM810 303h1v1h-1zM826 303h1v1h-1zM850 303h1v1h-1zM869 303h1v1h-1zM1005 303h1v1h-1zM1020 303h1v1h-1zM1048 303h1v1h-1zM1095 303h1v1h-1zM1106 303h1v1h-1zM1117 303h1v1h-1zM536 304h1v1h-1zM548 304h1v1h-1zM592 304h1v1h-1zM810 304h1v1h-1zM826 304h1v1h-1zM850 304h1v1h-1zM869 304h1v1h-1zM1005 304h1v1h-1zM1021 304h1v1h-1zM1048 304h1v1h-1zM1096 304h1v1h-1zM1106 304h1v1h-1zM1118 304h1v1h-1zM1280 304h1v1h-1zM536 305h1v1h-1zM548 305h1v1h-1zM592 305h1v1h-1zM810 305h1v1h-1zM827 305h1v1h-1zM850 305h1v1h-1zM869 305h1v1h-1zM1005 305h1v1h-1zM1021 305h1v1h-1zM1047 305h1v1h-1zM1096 305h1v1h-1zM1105 305h1v1h-1zM1119 305h1v1h-1zM1280 305h1v1h-1zM537 306h2v1h-2zM548 306h1v1h-1zM592 306h1v1h-1zM620 306h2v1h-2zM810 306h1v1h-1zM827 306h1v1h-1zM850 306h1v1h-1zM869 306h1v1h-1zM1004 306h1v1h-1zM1022 306h1v1h-1zM1047 306h1v1h-1zM1097 306h2v1h-2zM1105 306h1v1h-1zM1119 306h1v1h-1zM1280 306h1v1h-1zM539 307h2v1h-2zM547 307h1v1h-1zM593 307h1v1h-1zM619 307h1v1h-1zM622 307h4v1h-4zM809 307h1v1h-1zM827 307h1v1h-1zM849 307h1v1h-1zM869 307h1v1h-1zM1004 307h1v1h-1zM1022 307h1v1h-1zM1047 307h1v1h-1zM1099 307h6v1h-6zM1120 307h1v1h-1zM1279 307h1v1h-1zM541 308h1v1h-1zM547 308h1v1h-1zM593 308h1v1h-1zM618 308h1v1h-1zM626 308h3v1h-3zM809 308h1v1h-1zM828 308h1v1h-1zM849 308h1v1h-1zM870 308h1v1h-1zM1003 308h1v1h-1zM1022 308h1v1h-1zM1047 308h1v1h-1zM1121 308h1v1h-1zM1279 308h1v1h-1zM541 309h1v1h-1zM546 309h1v1h-1zM593 309h1v1h-1zM617 309h1v1h-1zM628 309h1v1h-1zM809 309h1v1h-1zM828 309h1v1h-1zM849 309h1v1h-1zM870 309h1v1h-1zM1003 309h1v1h-1zM1023 309h1v1h-1zM1046 309h1v1h-1zM1121 309h1v1h-1zM1279 309h1v1h-1zM542 310h1v1h-1zM546 310h1v1h-1zM593 310h1v1h-1zM616 310h1v1h-1zM629 310h1v1h-1zM809 310h1v1h-1zM828 310h1v1h-1zM848 310h1v1h-1zM870 310h1v1h-1zM1002 310h1v1h-1zM1023 310h1v1h-1zM1046 310h1v1h-1zM1122 310h1v1h-1zM1279 310h1v1h-1zM543 311h1v1h-1zM545 311h1v1h-1zM594 311h1v1h-1zM616 311h1v1h-1zM629 311h1v1h-1zM808 311h1v1h-1zM829 311h1v1h-1zM848 311h1v1h-1zM870 311h1v1h-1zM1002 311h1v1h-1zM1024 311h1v1h-1zM1046 311h1v1h-1zM1123 311h1v1h-1zM1279 311h1v1h-1zM543 312h1v1h-1zM545 312h1v1h-1zM594 312h1v1h-1zM615 312h1v1h-1zM629 312h1v1h-1zM808 312h1v1h-1zM829 312h1v1h-1zM848 312h1v1h-1zM870 312h1v1h-1zM1001 312h1v1h-1zM1024 312h1v1h-1zM1046 312h1v1h-1zM1123 312h1v1h-1zM1279 312h1v1h-1zM544 313h1v1h-1zM594 313h1v1h-1zM615 313h1v1h-1zM630 313h1v1h-1zM808 313h1v1h-1zM830 313h1v1h-1zM847 313h1v1h-1zM871 313h1v1h-1zM1001 313h1v1h-1zM1024 313h1v1h-1zM1045 313h1v1h-1zM1124 313h1v1h-1zM1278 313h1v1h-1zM595 314h1v1h-1zM614 314h1v1h-1zM630 314h1v1h-1zM808 314h1v1h-1zM830 314h1v1h-1zM847 314h1v1h-1zM871 314h1v1h-1zM1000 314h1v1h-1zM1025 314h1v1h-1zM1045 314h1v1h-1zM1125 314h1v1h-1zM1278 314h1v1h-1zM595 315h1v1h-1zM614 315h1v1h-1zM630 315h1v1h-1zM808 315h1v1h-1zM830 315h1v1h-1zM847 315h1v1h-1zM871 315h1v1h-1zM1000 315h1v1h-1zM1025 315h1v1h-1zM1045 315h1v1h-1zM1125 315h1v1h-1zM1278 315h1v1h-1zM595 316h1v1h-1zM613 316h1v1h-1zM630 316h1v1h-1zM807 316h1v1h-1zM831 316h1v1h-1zM846 316h1v1h-1zM871 316h1v1h-1zM999 316h1v1h-1zM1025 316h1v1h-1zM1045 316h1v1h-1zM1126 316h1v1h-1zM1278 316h1v1h-1zM595 317h1v1h-1zM613 317h1v1h-1zM631 317h1v1h-1zM807 317h1v1h-1zM831 317h1v1h-1zM846 317h1v1h-1zM871 317h1v1h-1zM999 317h1v1h-1zM1026 317h1v1h-1zM1044 317h1v1h-1zM1126 317h1v1h-1zM1278 317h1v1h-1zM596 318h1v1h-1zM612 318h1v1h-1zM631 318h1v1h-1zM807 318h1v1h-1zM832 318h1v1h-1zM846 318h1v1h-1zM872 318h1v1h-1zM998 318h1v1h-1zM1026 318h1v1h-1zM1044 318h1v1h-1zM1127 318h1v1h-1zM1278 318h1v1h-1zM596 319h1v1h-1zM612 319h1v1h-1zM631 319h1v1h-1zM807 319h1v1h-1zM832 319h1v1h-1zM845 319h1v1h-1zM872 319h1v1h-1zM998 319h1v1h-1zM1027 319h1v1h-1zM1044 319h1v1h-1zM1127 319h1v1h-1zM1277 319h1v1h-1zM597 320h1v1h-1zM611 320h1v1h-1zM632 320h1v1h-1zM807 320h1v1h-1zM833 320h1v1h-1zM845 320h1v1h-1zM872 320h1v1h-1zM997 320h1v1h-1zM1027 320h1v1h-1zM1043 320h1v1h-1zM1128 320h1v1h-1zM1277 320h1v1h-1zM597 321h1v1h-1zM611 321h1v1h-1zM632 321h1v1h-1zM806 321h1v1h-1zM833 321h1v1h-1zM845 321h1v1h-1zM872 321h1v1h-1zM997 321h1v1h-1zM1027 321h1v1h-1zM1043 321h1v1h-1zM1128 321h1v1h-1zM1277 321h1v1h-1zM598 322h1v1h-1zM610 322h1v1h-1zM632 322h1v1h-1zM806 322h1v1h-1zM834 322h1v1h-1zM844 322h1v1h-1zM872 322h1v1h-1zM996 322h1v1h-1zM1028 322h1v1h-1zM1043 322h1v1h-1zM1128 322h1v1h-1zM1277 322h1v1h-1zM598 323h1v1h-1zM610 323h1v1h-1zM632 323h1v1h-1zM806 323h1v1h-1zM834 323h1v1h-1zM844 323h1v1h-1zM873 323h1v1h-1zM996 323h1v1h-1zM1028 323h1v1h-1zM1043 323h1v1h-1zM1129 323h1v1h-1zM1277 323h1v1h-1zM599 324h1v1h-1zM609 324h1v1h-1zM632 324h1v1h-1zM806 324h1v1h-1zM835 324h1v1h-1zM843 324h1v1h-1zM873 324h1v1h-1zM995 324h1v1h-1zM1029 324h1v1h-1zM1042 324h1v1h-1zM1129 324h1v1h-1zM1277 324h1v1h-1zM599 325h1v1h-1zM609 325h1v1h-1zM633 325h1v1h-1zM806 325h1v1h-1zM835 325h1v1h-1zM842 325h1v1h-1zM873 325h1v1h-1zM995 325h1v1h-1zM1029 325h1v1h-1zM1042 325h1v1h-1zM1130 325h1v1h-1zM1276 325h1v1h-1zM600 326h1v1h-1zM602 326h7v1h-7zM633 326h1v1h-1zM806 326h1v1h-1zM836 326h1v1h-1zM841 326h1v1h-1zM873 326h1v1h-1zM995 326h1v1h-1zM1030 326h1v1h-1zM1042 326h1v1h-1zM1130 326h1v1h-1zM1276 326h1v1h-1zM600 327h2v1h-2zM633 327h1v1h-1zM805 327h1v1h-1zM836 327h5v1h-5zM873 327h1v1h-1zM994 327h1v1h-1zM1030 327h1v1h-1zM1042 327h1v1h-1zM1131 327h1v1h-1zM1276 327h1v1h-1zM633 328h1v1h-1zM805 328h1v1h-1zM873 328h1v1h-1zM994 328h1v1h-1zM1031 328h1v1h-1zM1041 328h1v1h-1zM1131 328h1v1h-1zM1276 328h1v1h-1zM633 329h1v1h-1zM805 329h1v1h-1zM874 329h1v1h-1zM994 329h1v1h-1zM1031 329h1v1h-1zM1041 329h1v1h-1zM1132 329h1v1h-1zM1276 329h1v1h-1zM633 330h1v1h-1zM805 330h1v1h-1zM874 330h1v1h-1zM994 330h1v1h-1zM1032 330h1v1h-1zM1041 330h1v1h-1zM1132 330h1v1h-1zM1276 330h1v1h-1zM634 331h1v1h-1zM805 331h1v1h-1zM874 331h1v1h-1zM993 331h1v1h-1zM1033 331h1v1h-1zM1041 331h1v1h-1zM1133 331h1v1h-1zM1275 331h1v1h-1zM634 332h1v1h-1zM804 332h1v1h-1zM874 332h1v1h-1zM993 332h1v1h-1zM1034 332h1v1h-1zM1040 332h1v1h-1zM1133 332h1v1h-1zM1275 332h1v1h-1zM634 333h1v1h-1zM804 333h1v1h-1zM874 333h1v1h-1zM993 333h1v1h-1zM1035 333h1v1h-1zM1038 333h3v1h-3zM1134 333h1v1h-1zM1275 333h1v1h-1zM634 334h1v1h-1zM804 334h1v1h-1zM875 334h1v1h-1zM992 334h1v1h-1zM1036 334h2v1h-2zM1134 334h1v1h-1zM1275 334h1v1h-1zM634 335h1v1h-1zM804 335h1v1h-1zM875 335h1v1h-1zM992 335h1v1h-1zM1135 335h1v1h-1zM1275 335h1v1h-1zM634 336h1v1h-1zM804 336h1v1h-1zM875 336h1v1h-1zM992 336h1v1h-1zM1135 336h1v1h-1zM1275 336h1v1h-1zM635 337h1v1h-1zM803 337h1v1h-1zM875 337h1v1h-1zM991 337h1v1h-1zM1136 337h1v1h-1zM1274 337h1v1h-1zM635 338h1v1h-1zM803 338h1v1h-1zM875 338h1v1h-1zM991 338h1v1h-1zM1136 338h1v1h-1zM1274 338h1v1h-1zM635 339h1v1h-1zM803 339h1v1h-1zM875 339h1v1h-1zM991 339h1v1h-1zM1137 339h1v1h-1zM1274 339h1v1h-1zM635 340h1v1h-1zM803 340h1v1h-1zM876 340h1v1h-1zM990 340h1v1h-1zM1137 340h1v1h-1zM1274 340h1v1h-1zM635 341h1v1h-1zM802 341h1v1h-1zM876 341h1v1h-1zM972 341h1v1h-1zM990 341h1v1h-1zM1137 341h1v1h-1zM1274 341h1v1h-1zM635 342h1v1h-1zM802 342h1v1h-1zM876 342h1v1h-1zM971 342h1v1h-1zM973 342h2v1h-2zM989 342h1v1h-1zM1138 342h1v1h-1zM1274 342h1v1h-1zM636 343h1v1h-1zM802 343h1v1h-1zM876 343h1v1h-1zM920 343h1v1h-1zM970 343h1v1h-1zM975 343h2v1h-2zM989 343h1v1h-1zM1138 343h1v1h-1zM1273 343h1v1h-1zM636 344h1v1h-1zM802 344h1v1h-1zM876 344h1v1h-1zM919 344h1v1h-1zM921 344h1v1h-1zM969 344h1v1h-1zM977 344h2v1h-2zM989 344h1v1h-1zM1139 344h1v1h-1zM1273 344h1v1h-1zM636 345h1v1h-1zM802 345h1v1h-1zM877 345h1v1h-1zM918 345h1v1h-1zM922 345h2v1h-2zM968 345h1v1h-1zM979 345h7v1h-7zM988 345h1v1h-1zM1139 345h1v1h-1zM1273 345h1v1h-1zM636 346h1v1h-1zM801 346h1v1h-1zM877 346h1v1h-1zM917 346h1v1h-1zM924 346h1v1h-1zM968 346h1v1h-1zM986 346h3v1h-3zM1139 346h1v1h-1zM1273 346h1v1h-1zM636 347h1v1h-1zM801 347h1v1h-1zM877 347h1v1h-1zM916 347h1v1h-1zM924 347h1v1h-1zM967 347h1v1h-1zM1140 347h1v1h-1zM1273 347h1v1h-1zM636 348h1v1h-1zM801 348h1v1h-1zM877 348h1v1h-1zM916 348h1v1h-1zM925 348h1v1h-1zM967 348h1v1h-1zM1140 348h1v1h-1zM1273 348h1v1h-1zM637 349h1v1h-1zM801 349h1v1h-1zM877 349h1v1h-1zM915 349h1v1h-1zM925 349h1v1h-1zM966 349h1v1h-1zM1141 349h1v1h-1zM1272 349h1v1h-1zM637 350h1v1h-1zM800 350h1v1h-1zM878 350h1v1h-1zM915 350h1v1h-1zM926 350h1v1h-1zM966 350h1v1h-1zM1141 350h1v1h-1zM1272 350h1v1h-1zM637 351h1v1h-1zM800 351h1v1h-1zM878 351h1v1h-1zM915 351h1v1h-1zM926 351h1v1h-1zM966 351h1v1h-1zM1142 351h1v1h-1zM1272 351h1v1h-1zM637 352h1v1h-1zM800 352h1v1h-1zM878 352h1v1h-1zM914 352h1v1h-1zM927 352h1v1h-1zM965 352h1v1h-1zM1142 352h1v1h-1zM1272 352h1v1h-1zM637 353h1v1h-1zM800 353h1v1h-1zM878 353h1v1h-1zM914 353h1v1h-1zM927 353h1v1h-1zM965 353h1v1h-1zM1143 353h1v1h-1zM1176 353h1v1h-1zM1272 353h1v1h-1zM637 354h1v1h-1zM799 354h1v1h-1zM878 354h1v1h-1zM913 354h1v1h-1zM928 354h1v1h-1zM964 354h1v1h-1zM1143 354h1v1h-1zM1175 354h1v1h-1zM1177 354h1v1h-1zM1272 354h1v1h-1zM638 355h1v1h-1zM696 355h1v1h-1zM799 355h1v1h-1zM878 355h1v1h-1zM913 355h1v1h-1zM928 355h1v1h-1zM964 355h1v1h-1zM1144 355h1v1h-1zM1175 355h1v1h-1zM1178 355h1v1h-1zM1272 355h1v1h-1zM638 356h1v1h-1zM696 356h2v1h-2zM799 356h1v1h-1zM879 356h1v1h-1zM913 356h1v1h-1zM928 356h1v1h-1zM964 356h1v1h-1zM1144 356h1v1h-1zM1174 356h1v1h-1zM1178 356h1v1h-1zM1272 356h1v1h-1zM638 357h1v1h-1zM695 357h1v1h-1zM697 357h1v1h-1zM799 357h1v1h-1zM879 357h1v1h-1zM912 357h1v1h-1zM929 357h1v1h-1zM963 357h1v1h-1zM1144 357h1v1h-1zM1173 357h1v1h-1zM1179 357h1v1h-1zM1272 357h1v1h-1zM638 358h1v1h-1zM695 358h1v1h-1zM698 358h1v1h-1zM798 358h1v1h-1zM879 358h1v1h-1zM912 358h1v1h-1zM929 358h1v1h-1zM963 358h1v1h-1zM1145 358h1v1h-1zM1173 358h1v1h-1zM1180 358h1v1h-1zM1272 358h1v1h-1zM638 359h1v1h-1zM687 359h2v1h-2zM694 359h1v1h-1zM699 359h1v1h-1zM798 359h1v1h-1zM879 359h1v1h-1zM912 359h1v1h-1zM929 359h1v1h-1zM963 359h1v1h-1zM1145 359h1v1h-1zM1172 359h1v1h-1zM1180 359h1v1h-1zM1271 359h1v1h-1zM639 360h1v1h-1zM685 360h2v1h-2zM689 360h1v1h-1zM694 360h1v1h-1zM699 360h1v1h-1zM798 360h1v1h-1zM879 360h1v1h-1zM911 360h1v1h-1zM930 360h1v1h-1zM962 360h1v1h-1zM1145 360h1v1h-1zM1172 360h1v1h-1zM1181 360h1v1h-1zM1271 360h1v1h-1zM639 361h1v1h-1zM684 361h1v1h-1zM689 361h1v1h-1zM694 361h1v1h-1zM700 361h1v1h-1zM797 361h1v1h-1zM880 361h1v1h-1zM911 361h1v1h-1zM930 361h1v1h-1zM962 361h1v1h-1zM1145 361h1v1h-1zM1171 361h1v1h-1zM1181 361h1v1h-1zM1271 361h1v1h-1zM639 362h1v1h-1zM683 362h1v1h-1zM690 362h1v1h-1zM693 362h1v1h-1zM701 362h1v1h-1zM797 362h1v1h-1zM880 362h1v1h-1zM911 362h1v1h-1zM931 362h1v1h-1zM962 362h1v1h-1zM1146 362h1v1h-1zM1171 362h1v1h-1zM1181 362h1v1h-1zM1271 362h1v1h-1zM639 363h1v1h-1zM683 363h1v1h-1zM691 363h1v1h-1zM693 363h1v1h-1zM702 363h2v1h-2zM797 363h1v1h-1zM880 363h1v1h-1zM910 363h1v1h-1zM931 363h1v1h-1zM962 363h1v1h-1zM1146 363h1v1h-1zM1170 363h1v1h-1zM1181 363h1v1h-1zM1271 363h1v1h-1zM639 364h1v1h-1zM682 364h1v1h-1zM691 364h2v1h-2zM704 364h1v1h-1zM797 364h1v1h-1zM881 364h1v1h-1zM910 364h1v1h-1zM931 364h1v1h-1zM961 364h1v1h-1zM1146 364h1v1h-1zM1170 364h1v1h-1zM1182 364h1v1h-1zM1271 364h1v1h-1zM639 365h1v1h-1zM682 365h1v1h-1zM692 365h1v1h-1zM704 365h1v1h-1zM796 365h1v1h-1zM881 365h1v1h-1zM909 365h1v1h-1zM932 365h1v1h-1zM961 365h1v1h-1zM1147 365h1v1h-1zM1169 365h1v1h-1zM1182 365h1v1h-1zM1271 365h1v1h-1zM640 366h1v1h-1zM681 366h1v1h-1zM705 366h1v1h-1zM796 366h1v1h-1zM882 366h1v1h-1zM909 366h1v1h-1zM932 366h1v1h-1zM961 366h1v1h-1zM1147 366h1v1h-1zM1169 366h1v1h-1zM1182 366h1v1h-1zM1271 366h1v1h-1zM640 367h1v1h-1zM681 367h1v1h-1zM705 367h1v1h-1zM796 367h1v1h-1zM883 367h1v1h-1zM909 367h1v1h-1zM932 367h1v1h-1zM960 367h1v1h-1zM1147 367h1v1h-1zM1168 367h1v1h-1zM1182 367h1v1h-1zM1271 367h1v1h-1zM640 368h1v1h-1zM671 368h2v1h-2zM680 368h1v1h-1zM705 368h1v1h-1zM795 368h1v1h-1zM883 368h1v1h-1zM908 368h1v1h-1zM933 368h1v1h-1zM960 368h1v1h-1zM1147 368h1v1h-1zM1168 368h1v1h-1zM1183 368h1v1h-1zM1271 368h1v1h-1zM640 369h1v1h-1zM669 369h2v1h-2zM673 369h1v1h-1zM679 369h1v1h-1zM706 369h1v1h-1zM795 369h1v1h-1zM884 369h1v1h-1zM908 369h1v1h-1zM933 369h1v1h-1zM960 369h1v1h-1zM1148 369h1v1h-1zM1167 369h1v1h-1zM1183 369h1v1h-1zM1271 369h1v1h-1zM640 370h1v1h-1zM668 370h1v1h-1zM674 370h1v1h-1zM678 370h1v1h-1zM706 370h1v1h-1zM794 370h1v1h-1zM884 370h1v1h-1zM908 370h1v1h-1zM934 370h1v1h-1zM959 370h1v1h-1zM1148 370h1v1h-1zM1167 370h1v1h-1zM1183 370h1v1h-1zM1271 370h1v1h-1zM641 371h1v1h-1zM668 371h1v1h-1zM674 371h1v1h-1zM678 371h1v1h-1zM707 371h1v1h-1zM794 371h1v1h-1zM885 371h1v1h-1zM907 371h1v1h-1zM934 371h1v1h-1zM959 371h1v1h-1zM1148 371h1v1h-1zM1167 371h1v1h-1zM1183 371h1v1h-1zM1270 371h1v1h-1zM641 372h1v1h-1zM667 372h1v1h-1zM675 372h1v1h-1zM677 372h1v1h-1zM707 372h1v1h-1zM793 372h1v1h-1zM885 372h1v1h-1zM907 372h1v1h-1zM935 372h1v1h-1zM959 372h1v1h-1zM1149 372h1v1h-1zM1166 372h1v1h-1zM1184 372h1v1h-1zM1270 372h1v1h-1zM641 373h1v1h-1zM667 373h1v1h-1zM676 373h1v1h-1zM707 373h1v1h-1zM711 373h2v1h-2zM793 373h1v1h-1zM886 373h1v1h-1zM906 373h1v1h-1zM935 373h1v1h-1zM958 373h1v1h-1zM1149 373h1v1h-1zM1166 373h1v1h-1zM1184 373h1v1h-1zM1270 373h1v1h-1zM641 374h1v1h-1zM667 374h1v1h-1zM708 374h3v1h-3zM712 374h1v1h-1zM792 374h1v1h-1zM886 374h1v1h-1zM906 374h1v1h-1zM936 374h1v1h-1zM958 374h1v1h-1zM1149 374h1v1h-1zM1166 374h1v1h-1zM1184 374h1v1h-1zM1270 374h1v1h-1zM641 375h1v1h-1zM667 375h1v1h-1zM708 375h1v1h-1zM713 375h1v1h-1zM792 375h1v1h-1zM886 375h1v1h-1zM906 375h1v1h-1zM936 375h1v1h-1zM958 375h1v1h-1zM1150 375h1v1h-1zM1165 375h1v1h-1zM1184 375h1v1h-1zM1270 375h1v1h-1zM642 376h1v1h-1zM666 376h1v1h-1zM713 376h1v1h-1zM792 376h1v1h-1zM887 376h1v1h-1zM905 376h1v1h-1zM936 376h1v1h-1zM958 376h1v1h-1zM1150 376h1v1h-1zM1165 376h1v1h-1zM1184 376h1v1h-1zM1270 376h1v1h-1zM642 377h1v1h-1zM666 377h1v1h-1zM713 377h1v1h-1zM791 377h1v1h-1zM887 377h1v1h-1zM905 377h1v1h-1zM937 377h1v1h-1zM957 377h1v1h-1zM1151 377h1v1h-1zM1165 377h1v1h-1zM1185 377h1v1h-1zM1270 377h1v1h-1zM642 378h1v1h-1zM666 378h1v1h-1zM714 378h1v1h-1zM791 378h1v1h-1zM888 378h1v1h-1zM904 378h1v1h-1zM937 378h1v1h-1zM957 378h1v1h-1zM1151 378h1v1h-1zM1164 378h1v1h-1zM1185 378h1v1h-1zM1270 378h1v1h-1zM642 379h1v1h-1zM665 379h1v1h-1zM714 379h1v1h-1zM790 379h1v1h-1zM888 379h1v1h-1zM904 379h1v1h-1zM937 379h1v1h-1zM957 379h1v1h-1zM1151 379h1v1h-1zM1164 379h1v1h-1zM1185 379h1v1h-1zM1270 379h1v1h-1zM643 380h1v1h-1zM665 380h1v1h-1zM714 380h1v1h-1zM790 380h1v1h-1zM889 380h1v1h-1zM902 380h2v1h-2zM938 380h1v1h-1zM956 380h1v1h-1zM1152 380h1v1h-1zM1164 380h1v1h-1zM1185 380h1v1h-1zM1270 380h1v1h-1zM643 381h1v1h-1zM665 381h1v1h-1zM715 381h1v1h-1zM789 381h1v1h-1zM890 381h1v1h-1zM901 381h1v1h-1zM938 381h1v1h-1zM956 381h1v1h-1zM1152 381h1v1h-1zM1163 381h1v1h-1zM1185 381h1v1h-1zM1270 381h1v1h-1zM643 382h1v1h-1zM665 382h1v1h-1zM715 382h1v1h-1zM789 382h1v1h-1zM890 382h1v1h-1zM900 382h1v1h-1zM938 382h1v1h-1zM956 382h1v1h-1zM1153 382h1v1h-1zM1163 382h1v1h-1zM1186 382h1v1h-1zM1270 382h1v1h-1zM643 383h1v1h-1zM664 383h1v1h-1zM715 383h1v1h-1zM788 383h1v1h-1zM891 383h1v1h-1zM899 383h1v1h-1zM939 383h1v1h-1zM955 383h1v1h-1zM1153 383h1v1h-1zM1162 383h1v1h-1zM1186 383h1v1h-1zM1269 383h1v1h-1zM643 384h1v1h-1zM664 384h1v1h-1zM716 384h1v1h-1zM788 384h1v1h-1zM892 384h1v1h-1zM898 384h1v1h-1zM939 384h1v1h-1zM955 384h1v1h-1zM1154 384h1v1h-1zM1162 384h1v1h-1zM1186 384h1v1h-1zM1269 384h1v1h-1zM644 385h1v1h-1zM664 385h1v1h-1zM716 385h1v1h-1zM788 385h1v1h-1zM893 385h1v1h-1zM898 385h1v1h-1zM939 385h1v1h-1zM954 385h1v1h-1zM1154 385h1v1h-1zM1161 385h1v1h-1zM1186 385h1v1h-1zM1269 385h1v1h-1zM644 386h1v1h-1zM663 386h1v1h-1zM717 386h1v1h-1zM787 386h1v1h-1zM894 386h2v1h-2zM897 386h1v1h-1zM940 386h1v1h-1zM954 386h1v1h-1zM1155 386h1v1h-1zM1161 386h1v1h-1zM1186 386h1v1h-1zM1269 386h1v1h-1zM644 387h1v1h-1zM663 387h1v1h-1zM717 387h1v1h-1zM787 387h1v1h-1zM896 387h1v1h-1zM940 387h1v1h-1zM954 387h1v1h-1zM1155 387h1v1h-1zM1158 387h3v1h-3zM1186 387h1v1h-1zM1269 387h1v1h-1zM644 388h1v1h-1zM662 388h1v1h-1zM718 388h1v1h-1zM787 388h1v1h-1zM941 388h1v1h-1zM953 388h1v1h-1zM1156 388h2v1h-2zM1187 388h1v1h-1zM1269 388h1v1h-1zM644 389h1v1h-1zM662 389h1v1h-1zM719 389h1v1h-1zM786 389h1v1h-1zM942 389h1v1h-1zM953 389h1v1h-1zM1187 389h1v1h-1zM1269 389h1v1h-1zM645 390h1v1h-1zM662 390h1v1h-1zM719 390h1v1h-1zM786 390h1v1h-1zM942 390h1v1h-1zM952 390h1v1h-1zM1187 390h1v1h-1zM1269 390h1v1h-1zM645 391h1v1h-1zM661 391h1v1h-1zM720 391h1v1h-1zM786 391h1v1h-1zM943 391h1v1h-1zM950 391h3v1h-3zM1187 391h1v1h-1zM1269 391h1v1h-1zM645 392h1v1h-1zM661 392h1v1h-1zM720 392h1v1h-1zM785 392h1v1h-1zM944 392h6v1h-6zM1187 392h1v1h-1zM1269 392h1v1h-1zM645 393h1v1h-1zM660 393h1v1h-1zM721 393h1v1h-1zM785 393h1v1h-1zM1188 393h1v1h-1zM1269 393h1v1h-1zM645 394h1v1h-1zM660 394h1v1h-1zM721 394h1v1h-1zM785 394h1v1h-1zM1188 394h1v1h-1zM1269 394h1v1h-1zM646 395h1v1h-1zM660 395h1v1h-1zM721 395h1v1h-1zM784 395h1v1h-1zM1188 395h1v1h-1zM1268 395h1v1h-1zM646 396h1v1h-1zM659 396h1v1h-1zM721 396h1v1h-1zM784 396h1v1h-1zM1188 396h1v1h-1zM1268 396h1v1h-1zM646 397h1v1h-1zM659 397h1v1h-1zM722 397h1v1h-1zM784 397h1v1h-1zM1188 397h1v1h-1zM1268 397h1v1h-1zM646 398h1v1h-1zM658 398h1v1h-1zM722 398h1v1h-1zM783 398h1v1h-1zM1189 398h1v1h-1zM1268 398h1v1h-1zM647 399h1v1h-1zM658 399h1v1h-1zM722 399h1v1h-1zM783 399h1v1h-1zM1189 399h1v1h-1zM1268 399h1v1h-1zM647 400h1v1h-1zM658 400h1v1h-1zM722 400h1v1h-1zM782 400h1v1h-1zM1189 400h1v1h-1zM1268 400h1v1h-1zM647 401h1v1h-1zM657 401h1v1h-1zM723 401h1v1h-1zM782 401h1v1h-1zM1189 401h1v1h-1zM1268 401h1v1h-1zM647 402h1v1h-1zM657 402h1v1h-1zM723 402h1v1h-1zM781 402h1v1h-1zM1190 402h1v1h-1zM1268 402h1v1h-1zM647 403h1v1h-1zM656 403h1v1h-1zM723 403h1v1h-1zM781 403h1v1h-1zM1190 403h1v1h-1zM1268 403h1v1h-1zM648 404h1v1h-1zM656 404h1v1h-1zM723 404h1v1h-1zM780 404h1v1h-1zM1190 404h1v1h-1zM1268 404h1v1h-1zM648 405h1v1h-1zM655 405h1v1h-1zM724 405h1v1h-1zM780 405h1v1h-1zM1190 405h1v1h-1zM1268 405h1v1h-1zM648 406h1v1h-1zM655 406h1v1h-1zM724 406h1v1h-1zM780 406h1v1h-1zM1191 406h1v1h-1zM1268 406h1v1h-1zM649 407h1v1h-1zM654 407h1v1h-1zM724 407h1v1h-1zM779 407h1v1h-1zM1191 407h1v1h-1zM1267 407h1v1h-1zM650 408h1v1h-1zM654 408h1v1h-1zM724 408h1v1h-1zM779 408h1v1h-1zM1191 408h1v1h-1zM1267 408h1v1h-1zM650 409h1v1h-1zM653 409h1v1h-1zM725 409h1v1h-1zM778 409h1v1h-1zM1191 409h1v1h-1zM1267 409h1v1h-1zM651 410h1v1h-1zM653 410h1v1h-1zM725 410h1v1h-1zM778 410h1v1h-1zM1192 410h1v1h-1zM1267 410h1v1h-1zM652 411h1v1h-1zM726 411h1v1h-1zM777 411h1v1h-1zM1192 411h1v1h-1zM1267 411h1v1h-1zM726 412h1v1h-1zM777 412h1v1h-1zM1192 412h1v1h-1zM1267 412h1v1h-1zM726 413h1v1h-1zM776 413h1v1h-1zM1192 413h1v1h-1zM1267 413h1v1h-1zM727 414h1v1h-1zM776 414h1v1h-1zM1192 414h1v1h-1zM1267 414h1v1h-1zM727 415h1v1h-1zM775 415h1v1h-1zM1193 415h1v1h-1zM1267 415h1v1h-1zM728 416h1v1h-1zM775 416h1v1h-1zM1193 416h1v1h-1zM1267 416h1v1h-1zM728 417h1v1h-1zM774 417h1v1h-1zM1193 417h1v1h-1zM1266 417h1v1h-1zM728 418h1v1h-1zM774 418h1v1h-1zM1193 418h1v1h-1zM1266 418h1v1h-1zM729 419h1v1h-1zM764 419h5v1h-5zM773 419h1v1h-1zM1194 419h1v1h-1zM1266 419h1v1h-1zM729 420h1v1h-1zM764 420h1v1h-1zM769 420h2v1h-2zM773 420h1v1h-1zM1194 420h1v1h-1zM1266 420h1v1h-1zM729 421h1v1h-1zM763 421h1v1h-1zM771 421h2v1h-2zM1194 421h1v1h-1zM1266 421h1v1h-1zM730 422h1v1h-1zM763 422h1v1h-1zM1194 422h1v1h-1zM1266 422h1v1h-1zM730 423h1v1h-1zM762 423h1v1h-1zM1195 423h1v1h-1zM1266 423h1v1h-1zM730 424h1v1h-1zM762 424h1v1h-1zM1195 424h1v1h-1zM1266 424h1v1h-1zM731 425h1v1h-1zM761 425h1v1h-1zM1195 425h1v1h-1zM1266 425h1v1h-1zM731 426h1v1h-1zM761 426h1v1h-1zM1195 426h1v1h-1zM1266 426h1v1h-1zM731 427h1v1h-1zM760 427h1v1h-1zM1196 427h1v1h-1zM1265 427h1v1h-1zM732 428h1v1h-1zM760 428h1v1h-1zM1196 428h1v1h-1zM1265 428h1v1h-1zM732 429h1v1h-1zM759 429h1v1h-1zM1196 429h1v1h-1zM1265 429h1v1h-1zM733 430h1v1h-1zM759 430h1v1h-1zM1196 430h1v1h-1zM1265 430h1v1h-1zM733 431h1v1h-1zM759 431h1v1h-1zM1197 431h1v1h-1zM1265 431h1v1h-1zM734 432h1v1h-1zM758 432h1v1h-1zM1197 432h1v1h-1zM1265 432h1v1h-1zM734 433h1v1h-1zM758 433h1v1h-1zM1197 433h1v1h-1zM1265 433h1v1h-1zM735 434h1v1h-1zM758 434h1v1h-1zM1197 434h1v1h-1zM1265 434h1v1h-1zM735 435h1v1h-1zM757 435h1v1h-1zM1198 435h1v1h-1zM1265 435h1v1h-1zM736 436h1v1h-1zM757 436h1v1h-1zM1198 436h1v1h-1zM1265 436h1v1h-1zM736 437h1v1h-1zM757 437h1v1h-1zM1198 437h1v1h-1zM1264 437h1v1h-1zM736 438h1v1h-1zM756 438h1v1h-1zM1199 438h1v1h-1zM1264 438h1v1h-1zM737 439h1v1h-1zM756 439h1v1h-1zM1199 439h1v1h-1zM1264 439h1v1h-1zM737 440h1v1h-1zM755 440h1v1h-1zM1199 440h1v1h-1zM1264 440h1v1h-1zM737 441h1v1h-1zM755 441h1v1h-1zM1199 441h1v1h-1zM1264 441h1v1h-1zM737 442h1v1h-1zM754 442h1v1h-1zM1200 442h1v1h-1zM1264 442h1v1h-1zM738 443h1v1h-1zM753 443h1v1h-1zM1200 443h1v1h-1zM1264 443h1v1h-1zM738 444h1v1h-1zM753 444h1v1h-1zM1200 444h1v1h-1zM1264 444h1v1h-1zM738 445h1v1h-1zM752 445h1v1h-1zM1201 445h1v1h-1zM1264 445h1v1h-1zM739 446h1v1h-1zM751 446h1v1h-1zM1201 446h1v1h-1zM1263 446h1v1h-1zM739 447h1v1h-1zM751 447h1v1h-1zM1201 447h1v1h-1zM1263 447h1v1h-1zM739 448h1v1h-1zM750 448h1v1h-1zM1202 448h1v1h-1zM1263 448h1v1h-1zM739 449h1v1h-1zM750 449h1v1h-1zM1202 449h1v1h-1zM1263 449h1v1h-1zM740 450h1v1h-1zM749 450h1v1h-1zM1202 450h1v1h-1zM1263 450h1v1h-1zM740 451h1v1h-1zM749 451h1v1h-1zM1202 451h1v1h-1zM1263 451h1v1h-1zM741 452h1v1h-1zM747 452h2v1h-2zM1203 452h1v1h-1zM1263 452h1v1h-1zM742 453h2v1h-2zM745 453h2v1h-2zM1203 453h1v1h-1zM1262 453h1v1h-1zM744 454h1v1h-1zM1203 454h1v1h-1zM1262 454h1v1h-1zM1204 455h1v1h-1zM1262 455h1v1h-1zM1204 456h1v1h-1zM1262 456h1v1h-1zM1204 457h1v1h-1zM1262 457h1v1h-1zM1204 458h1v1h-1zM1262 458h1v1h-1zM1205 459h1v1h-1zM1262 459h1v1h-1zM1205 460h1v1h-1zM1261 460h1v1h-1zM1205 461h1v1h-1zM1261 461h1v1h-1zM1205 462h1v1h-1zM1261 462h1v1h-1zM1206 463h1v1h-1zM1261 463h1v1h-1zM1206 464h1v1h-1zM1261 464h1v1h-1zM1206 465h1v1h-1zM1261 465h1v1h-1zM1206 466h1v1h-1zM1261 466h1v1h-1zM1207 467h1v1h-1zM1260 467h1v1h-1zM1207 468h1v1h-1zM1260 468h1v1h-1zM1207 469h1v1h-1zM1260 469h1v1h-1zM1207 470h1v1h-1zM1260 470h1v1h-1zM1208 471h1v1h-1zM1260 471h1v1h-1zM1208 472h1v1h-1zM1260 472h1v1h-1zM1208 473h1v1h-1zM1259 473h1v1h-1zM1208 474h1v1h-1zM1259 474h1v1h-1zM1209 475h1v1h-1zM1259 475h1v1h-1zM1209 476h1v1h-1zM1259 476h1v1h-1zM1209 477h1v1h-1zM1259 477h1v1h-1zM1209 478h1v1h-1zM1258 478h1v1h-1zM1210 479h1v1h-1zM1258 479h1v1h-1zM1210 480h1v1h-1zM1258 480h1v1h-1zM1210 481h1v1h-1zM1258 481h1v1h-1zM1210 482h1v1h-1zM1258 482h1v1h-1zM1211 483h1v1h-1zM1257 483h1v1h-1zM1211 484h1v1h-1zM1257 484h1v1h-1zM1211 485h1v1h-1zM1257 485h1v1h-1zM1211 486h1v1h-1zM1257 486h1v1h-1zM1212 487h1v1h-1zM1257 487h1v1h-1zM1212 488h1v1h-1zM1256 488h1v1h-1zM1212 489h1v1h-1zM1256 489h1v1h-1zM1212 490h1v1h-1zM1256 490h1v1h-1zM1213 491h1v1h-1zM1256 491h1v1h-1zM1213 492h1v1h-1zM1256 492h1v1h-1zM1213 493h1v1h-1zM1255 493h1v1h-1zM1213 494h1v1h-1zM1255 494h1v1h-1zM1214 495h1v1h-1zM1255 495h1v1h-1zM1214 496h1v1h-1zM1255 496h1v1h-1zM1214 497h1v1h-1zM1255 497h1v1h-1zM1215 498h1v1h-1zM1254 498h1v1h-1zM1215 499h1v1h-1zM1254 499h1v1h-1zM1215 500h1v1h-1zM1254 500h1v1h-1zM1215 501h1v1h-1zM1254 501h1v1h-1zM1216 502h1v1h-1zM1254 502h1v1h-1zM1216 503h1v1h-1zM1253 503h1v1h-1zM1216 504h1v1h-1zM1253 504h1v1h-1zM1217 505h1v1h-1zM1253 505h1v1h-1zM1217 506h1v1h-1zM1253 506h1v1h-1zM1217 507h1v1h-1zM1253 507h1v1h-1zM1218 508h1v1h-1zM1252 508h1v1h-1zM1218 509h1v1h-1zM1252 509h1v1h-1zM1218 510h1v1h-1zM1252 510h1v1h-1zM1218 511h1v1h-1zM1252 511h1v1h-1zM1219 512h1v1h-1zM1251 512h1v1h-1zM1219 513h1v1h-1zM1251 513h1v1h-1zM1219 514h1v1h-1zM1251 514h1v1h-1zM1220 515h1v1h-1zM1250 515h1v1h-1zM1220 516h1v1h-1zM1250 516h1v1h-1zM1220 517h1v1h-1zM1249 517h1v1h-1zM1221 518h1v1h-1zM1249 518h1v1h-1zM1221 519h1v1h-1zM1249 519h1v1h-1zM1221 520h1v1h-1zM1248 520h1v1h-1zM1222 521h1v1h-1zM1248 521h1v1h-1zM1222 522h1v1h-1zM1248 522h1v1h-1zM1222 523h1v1h-1zM1247 523h1v1h-1zM1223 524h1v1h-1zM1247 524h1v1h-1zM1223 525h1v1h-1zM1247 525h1v1h-1zM1223 526h1v1h-1zM1246 526h1v1h-1zM1224 527h1v1h-1zM1246 527h1v1h-1zM1224 528h1v1h-1zM1245 528h1v1h-1zM1224 529h1v1h-1zM1245 529h1v1h-1zM1225 530h1v1h-1zM1245 530h1v1h-1zM1225 531h1v1h-1zM1244 531h1v1h-1zM1226 532h1v1h-1zM1244 532h1v1h-1zM1226 533h1v1h-1zM1243 533h1v1h-1zM1227 534h1v1h-1zM1242 534h1v1h-1zM1227 535h1v1h-1zM1242 535h1v1h-1zM1228 536h1v1h-1zM1241 536h1v1h-1zM1228 537h1v1h-1zM1240 537h1v1h-1zM1229 538h1v1h-1zM1239 538h1v1h-1zM1229 539h1v1h-1zM1238 539h1v1h-1zM1230 540h1v1h-1zM1238 540h1v1h-1zM1230 541h1v1h-1zM1237 541h1v1h-1zM1231 542h1v1h-1zM1235 542h2v1h-2zM1231 543h1v1h-1zM1233 543h2v1h-2zM1232 544h1v1h-1z" fill="#ffa500" shape-rendering="crispEdges"/>
<path d="M6 115h4v1h-4zM4 116h2v1h-2zM10 116h4v1h-4zM14 117h3v1h-3zM17 118h2v1h-2zM19 119h2v1h-2zM21 120h1v1h-1zM22 121h2v1h-2zM24 122h1v1h-1zM25 123h1v1h-1zM26 124h1v1h-1zM27 125h1v1h-1zM28 126h1v1h-1zM29 127h1v1h-1zM30 128h1v1h-1zM30 129h1v1h-1zM31 130h1v1h-1zM32 131h1v1h-1zM33 132h1v1h-1zM34 133h1v1h-1zM34 134h1v1h-1zM35 135h1v1h-1zM36 136h1v1h-1zM37 137h1v1h-1zM37 138h1v1h-1zM38 139h1v1h-1zM39 140h1v1h-1zM39 141h1v1h-1zM40 142h1v1h-1zM41 143h1v1h-1zM41 144h1v1h-1zM42 145h1v1h-1zM43 146h1v1h-1zM43 147h1v1h-1zM44 148h1v1h-1zM45 149h1v1h-1zM79 149h15v1h-15zM46 150h1v1h-1zM77 150h2v1h-2zM94 150h3v1h-3zM46 151h1v1h-1zM75 151h2v1h-2zM97 151h2v1h-2zM47 152h1v1h-1zM73 152h2v1h-2zM99 152h2v1h-2zM48 153h1v1h-1zM71 153h2v1h-2zM101 153h1v1h-1zM49 154h2v1h-2zM69 154h2v1h-2zM102 154h2v1h-2zM51 155h3v1h-3zM66 155h3v1h-3zM104 155h1v1h-1zM54 156h12v1h-12zM105 156h1v1h-1zM106 157h2v1h-2zM108 158h1v1h-1zM109 159h1v1h-1zM110 160h2v1h-2zM112 161h1v1h-1zM113 162h1v1h-1zM114 163h2v1h-2zM116 164h1v1h-1zM117 165h1v1h-1zM118 166h1v1h-1zM118 167h1v1h-1zM119 168h1v1h-1zM120 169h1v1h-1zM121 170h1v1h-1zM122 171h1v1h-1zM446 171h16v1h-16zM123 172h1v1h-1zM443 172h3v1h-3zM462 172h3v1h-3zM124 173h1v1h-1zM441 173h2v1h-2zM465 173h2v1h-2zM125 174h1v1h-1zM440 174h1v1h-1zM467 174h3v1h-3zM126 175h1v1h-1zM438 175h2v1h-2zM470 175h3v1h-3zM126 176h1v1h-1zM437 176h1v1h-1zM473 176h2v1h-2zM127 177h1v1h-1zM436 177h1v1h-1zM475 177h2v1h-2zM128 178h1v1h-1zM435 178h1v1h-1zM477 178h2v1h-2zM129 179h1v1h-1zM434 179h1v1h-1zM479 179h2v1h-2zM130 180h1v1h-1zM433 180h1v1h-1zM481 180h2v1h-2zM131 181h1v1h-1zM432 181h1v1h-1zM483 181h2v1h-2zM132 182h1v1h-1zM430 182h2v1h-2zM485 182h2v1h-2zM490 182h8v1h-8zM133 183h1v1h-1zM163 183h10v1h-10zM429 183h1v1h-1zM487 183h3v1h-3zM498 183h4v1h-4zM134 184h1v1h-1zM161 184h2v1h-2zM173 184h2v1h-2zM428 184h1v1h-1zM502 184h4v1h-4zM135 185h1v1h-1zM159 185h2v1h-2zM175 185h2v1h-2zM426 185h2v1h-2zM506 185h3v1h-3zM136 186h2v1h-2zM157 186h2v1h-2zM177 186h2v1h-2zM425 186h1v1h-1zM509 186h1v1h-1zM138 187h4v1h-4zM154 187h3v1h-3zM179 187h2v1h-2zM424 187h1v1h-1zM510 187h1v1h-1zM142 188h4v1h-4zM150 188h4v1h-4zM181 188h2v1h-2zM423 188h1v1h-1zM511 188h1v1h-1zM146 189h4v1h-4zM183 189h2v1h-2zM422 189h1v1h-1zM512 189h1v1h-1zM185 190h2v1h-2zM422 190h1v1h-1zM513 190h1v1h-1zM187 191h2v1h-2zM421 191h1v1h-1zM514 191h1v1h-1zM189 192h1v1h-1zM420 192h1v1h-1zM514 192h1v1h-1zM190 193h1v1h-1zM419 193h1v1h-1zM515 193h1v1h-1zM191 194h1v1h-1zM418 194h1v1h-1zM516 194h1v1h-1zM192 195h1v1h-1zM417 195h1v1h-1zM517 195h1v1h-1zM193 196h1v1h-1zM416 196h1v1h-1zM517 196h1v1h-1zM194 197h1v1h-1zM415 197h1v1h-1zM518 197h1v1h-1zM195 198h1v1h-1zM415 198h1v1h-1zM519 198h1v1h-1zM196 199h1v1h-1zM414 199h1v1h-1zM519 199h1v1h-1zM197 200h1v1h-1zM413 200h1v1h-1zM520 200h1v1h-1zM197 201h1v1h-1zM413 201h1v1h-1zM521 201h1v1h-1zM198 202h1v1h-1zM412 202h1v1h-1zM521 202h1v1h-1zM199 203h1v1h-1zM411 203h1v1h-1zM522 203h1v1h-1zM199 204h1v1h-1zM411 204h1v1h-1zM522 204h1v1h-1zM200 205h1v1h-1zM410 205h1v1h-1zM523 205h1v1h-1zM201 206h1v1h-1zM409 206h1v1h-1zM523 206h1v1h-1zM202 207h2v1h-2zM409 207h1v1h-1zM524 207h1v1h-1zM204 208h1v1h-1zM408 208h1v1h-1zM525 208h1v1h-1zM205 209h1v1h-1zM407 209h1v1h-1zM525 209h1v1h-1zM206 210h1v1h-1zM406 210h1v1h-1zM526 210h1v1h-1zM207 211h1v1h-1zM406 211h1v1h-1zM527 211h1v1h-1zM208 212h1v1h-1zM405 212h1v1h-1zM527 212h1v1h-1zM209 213h1v1h-1zM404 213h1v1h-1zM528 213h1v1h-1zM210 214h1v1h-1zM403 214h1v1h-1zM529 214h1v1h-1zM211 215h1v1h-1zM403 215h1v1h-1zM529 215h1v1h-1zM212 216h1v1h-1zM402 216h1v1h-1zM530 216h1v1h-1zM213 217h2v1h-2zM401 217h1v1h-1zM530 217h1v1h-1zM215 218h6v1h-6zM401 218h1v1h-1zM531 218h1v1h-1zM221 219h2v1h-2zM400 219h1v1h-1zM531 219h1v1h-1zM223 220h7v1h-7zM399 220h1v1h-1zM532 220h1v1h-1zM230 221h8v1h-8zM250 221h8v1h-8zM399 221h1v1h-1zM533 221h1v1h-1zM238 222h4v1h-4zM246 222h4v1h-4zM258 222h3v1h-3zM398 222h1v1h-1zM533 222h1v1h-1zM242 223h4v1h-4zM261 223h2v1h-2zM397 223h1v1h-1zM534 223h1v1h-1zM263 224h2v1h-2zM397 224h1v1h-1zM534 224h1v1h-1zM265 225h2v1h-2zM396 225h1v1h-1zM535 225h1v1h-1zM267 226h2v1h-2zM395 226h1v1h-1zM535 226h1v1h-1zM269 227h2v1h-2zM394 227h1v1h-1zM536 227h1v1h-1zM271 228h2v1h-2zM393 228h1v1h-1zM536 228h1v1h-1zM273 229h1v1h-1zM392 229h1v1h-1zM537 229h1v1h-1zM274 230h2v1h-2zM390 230h2v1h-2zM537 230h1v1h-1zM276 231h1v1h-1zM366 231h8v1h-8zM389 231h1v1h-1zM538 231h1v1h-1zM277 232h1v1h-1zM363 232h3v1h-3zM374 232h15v1h-15zM538 232h1v1h-1zM278 233h1v1h-1zM361 233h2v1h-2zM539 233h1v1h-1zM279 234h1v1h-1zM360 234h1v1h-1zM539 234h1v1h-1zM280 235h1v1h-1zM359 235h1v1h-1zM540 235h1v1h-1zM281 236h1v1h-1zM358 236h1v1h-1zM541 236h1v1h-1zM282 237h2v1h-2zM357 237h1v1h-1zM541 237h1v1h-1zM284 238h1v1h-1zM356 238h1v1h-1zM542 238h1v1h-1zM285 239h1v1h-1zM354 239h2v1h-2zM542 239h1v1h-1zM286 240h1v1h-1zM353 240h1v1h-1zM543 240h1v1h-1zM287 241h1v1h-1zM352 241h1v1h-1zM543 241h1v1h-1zM288 242h1v1h-1zM351 242h1v1h-1zM544 242h1v1h-1zM289 243h1v1h-1zM350 243h1v1h-1zM545 243h1v1h-1zM290 244h2v1h-2zM349 244h1v1h-1zM546 244h2v1h-2zM292 245h1v1h-1zM348 245h1v1h-1zM548 245h1v1h-1zM293 246h2v1h-2zM346 246h2v1h-2zM549 246h1v1h-1zM295 247h3v1h-3zM345 247h1v1h-1zM550 247h2v1h-2zM298 248h4v1h-4zM344 248h1v1h-1zM552 248h2v1h-2zM302 249h3v1h-3zM342 249h2v1h-2zM554 249h3v1h-3zM305 250h2v1h-2zM341 250h1v1h-1zM557 250h2v1h-2zM307 251h3v1h-3zM334 251h7v1h-7zM559 251h15v1h-15zM310 252h4v1h-4zM330 252h4v1h-4zM574 252h3v1h-3zM314 253h16v1h-16zM577 253h1v1h-1zM578 254h2v1h-2zM580 255h1v1h-1zM581 256h1v1h-1zM582 257h1v1h-1zM583 258h1v1h-1zM584 259h1v1h-1zM585 260h1v1h-1zM586 261h1v1h-1zM586 262h1v1h-1zM587 263h1v1h-1zM588 264h1v1h-1zM589 265h1v1h-1zM590 266h1v1h-1zM591 267h1v1h-1zM592 268h1v1h-1zM593 269h1v1h-1zM594 270h1v1h-1zM595 271h1v1h-1zM596 272h1v1h-1zM597 273h1v1h-1zM598 274h1v1h-1zM599 275h1v1h-1zM600 276h1v1h-1zM601 277h1v1h-1zM602 278h2v1h-2zM604 279h1v1h-1zM605 280h1v1h-1zM606 281h1v1h-1zM607 282h1v1h-1zM608 283h1v1h-1zM609 284h2v1h-2zM611 285h3v1h-3zM614 286h3v1h-3zM617 287h1v1h-1zM618 288h2v1h-2zM620 289h1v1h-1zM621 290h2v1h-2zM623 291h3v1h-3zM1110 291h4v1h-4zM626 292h3v1h-3zM1106 292h4v1h-4zM1114 292h4v1h-4zM629 293h1v1h-1zM1102 293h4v1h-4zM1118 293h4v1h-4zM630 294h2v1h-2zM1099 294h3v1h-3zM1122 294h3v1h-3zM632 295h1v1h-1zM1097 295h2v1h-2zM1125 295h2v1h-2zM633 296h1v1h-1zM1095 296h2v1h-2zM1127 296h3v1h-3zM634 297h2v1h-2zM1093 297h2v1h-2zM1130 297h3v1h-3zM636 298h1v1h-1zM1090 298h3v1h-3zM1133 298h2v1h-2zM637 299h1v1h-1zM1086 299h4v1h-4zM1135 299h2v1h-2zM638 300h1v1h-1zM1082 300h4v1h-4zM1137 300h2v1h-2zM639 301h1v1h-1zM1078 301h4v1h-4zM1139 301h3v1h-3zM640 302h1v1h-1zM1076 302h2v1h-2zM1142 302h3v1h-3zM641 303h1v1h-1zM1074 303h2v1h-2zM1145 303h2v1h-2zM642 304h1v1h-1zM1073 304h1v1h-1zM1147 304h2v1h-2zM643 305h1v1h-1zM1072 305h1v1h-1zM1149 305h2v1h-2zM644 306h1v1h-1zM1071 306h1v1h-1zM1151 306h2v1h-2zM645 307h1v1h-1zM1070 307h1v1h-1zM1153 307h2v1h-2zM646 308h1v1h-1zM1069 308h1v1h-1zM1155 308h2v1h-2zM646 309h1v1h-1zM1068 309h1v1h-1zM1157 309h2v1h-2zM647 310h1v1h-1zM1067 310h1v1h-1zM1159 310h2v1h-2zM648 311h1v1h-1zM1066 311h1v1h-1zM1161 311h2v1h-2zM649 312h1v1h-1zM1065 312h1v1h-1zM1163 312h2v1h-2zM650 313h2v1h-2zM1064 313h1v1h-1zM1165 313h2v1h-2zM652 314h2v1h-2zM1063 314h1v1h-1zM1167 314h2v1h-2zM654 315h4v1h-4zM1062 315h1v1h-1zM1169 315h1v1h-1zM658 316h3v1h-3zM1062 316h1v1h-1zM1170 316h1v1h-1zM661 317h2v1h-2zM1061 317h1v1h-1zM1171 317h1v1h-1zM663 318h2v1h-2zM1060 318h1v1h-1zM1172 318h1v1h-1zM665 319h1v1h-1zM1059 319h1v1h-1zM1173 319h1v1h-1zM666 320h1v1h-1zM1059 320h1v1h-1zM1174 320h1v1h-1zM667 321h1v1h-1zM1058 321h1v1h-1zM1174 321h1v1h-1zM668 322h1v1h-1zM1057 322h1v1h-1zM1175 322h1v1h-1zM669 323h1v1h-1zM1057 323h1v1h-1zM1176 323h1v1h-1zM670 324h1v1h-1zM1056 324h1v1h-1zM1177 324h1v1h-1zM671 325h1v1h-1zM1055 325h1v1h-1zM1177 325h1v1h-1zM672 326h1v1h-1zM1054 326h1v1h-1zM1178 326h1v1h-1zM673 327h1v1h-1zM1054 327h1v1h-1zM1179 327h1v1h-1zM673 328h1v1h-1zM1053 328h1v1h-1zM1179 328h1v1h-1zM674 329h1v1h-1zM910 329h8v1h-8zM1052 329h1v1h-1zM1180 329h1v1h-1zM675 330h1v1h-1zM907 330h3v1h-3zM918 330h3v1h-3zM1051 330h1v1h-1zM1181 330h1v1h-1zM675 331h1v1h-1zM905 331h2v1h-2zM921 331h1v1h-1zM1050 331h1v1h-1zM1182 331h1v1h-1zM676 332h1v1h-1zM890 332h15v1h-15zM922 332h1v1h-1zM1050 332h1v1h-1zM1182 332h1v1h-1zM677 333h1v1h-1zM886 333h4v1h-4zM923 333h1v1h-1zM1049 333h1v1h-1zM1183 333h1v1h-1zM678 334h2v1h-2zM883 334h3v1h-3zM924 334h1v1h-1zM1048 334h1v1h-1zM1184 334h1v1h-1zM680 335h1v1h-1zM881 335h2v1h-2zM925 335h1v1h-1zM1047 335h1v1h-1zM1185 335h1v1h-1zM681 336h1v1h-1zM878 336h3v1h-3zM926 336h2v1h-2zM1046 336h1v1h-1zM1185 336h1v1h-1zM682 337h1v1h-1zM874 337h4v1h-4zM928 337h1v1h-1zM1045 337h1v1h-1zM1186 337h1v1h-1zM683 338h1v1h-1zM870 338h4v1h-4zM929 338h1v1h-1zM1044 338h1v1h-1zM1187 338h1v1h-1zM684 339h1v1h-1zM868 339h2v1h-2zM930 339h1v1h-1zM1043 339h1v1h-1zM1187 339h1v1h-1zM685 340h1v1h-1zM867 340h1v1h-1zM931 340h1v1h-1zM1042 340h1v1h-1zM1188 340h1v1h-1zM686 341h1v1h-1zM866 341h1v1h-1zM932 341h1v1h-1zM1041 341h1v1h-1zM1189 341h1v1h-1zM687 342h1v1h-1zM865 342h1v1h-1zM933 342h1v1h-1zM1034 342h7v1h-7zM1189 342h1v1h-1zM688 343h1v1h-1zM864 343h1v1h-1zM934 343h2v1h-2zM1018 343h16v1h-16zM1190 343h1v1h-1zM689 344h1v1h-1zM862 344h2v1h-2zM936 344h1v1h-1zM1016 344h2v1h-2zM1191 344h1v1h-1zM690 345h1v1h-1zM861 345h1v1h-1zM937 345h1v1h-1zM1014 345h2v1h-2zM1191 345h1v1h-1zM690 346h1v1h-1zM860 346h1v1h-1zM938 346h2v1h-2zM1013 346h1v1h-1zM1192 346h1v1h-1zM691 347h1v1h-1zM859 347h1v1h-1zM940 347h1v1h-1zM1012 347h1v1h-1zM1193 347h1v1h-1zM692 348h1v1h-1zM859 348h1v1h-1zM941 348h2v1h-2zM1010 348h2v1h-2zM1193 348h1v1h-1zM693 349h1v1h-1zM858 349h1v1h-1zM943 349h2v1h-2zM1009 349h1v1h-1zM1194 349h1v1h-1zM694 350h2v1h-2zM858 350h1v1h-1zM945 350h2v1h-2zM1008 350h1v1h-1zM1195 350h1v1h-1zM696 351h1v1h-1zM857 351h1v1h-1zM947 351h2v1h-2zM1007 351h1v1h-1zM1195 351h1v1h-1zM697 352h1v1h-1zM857 352h1v1h-1zM949 352h2v1h-2zM1006 352h1v1h-1zM1196 352h1v1h-1zM698 353h2v1h-2zM856 353h1v1h-1zM951 353h7v1h-7zM1005 353h1v1h-1zM1197 353h1v1h-1zM700 354h2v1h-2zM855 354h1v1h-1zM958 354h4v1h-4zM1004 354h1v1h-1zM1197 354h1v1h-1zM702 355h3v1h-3zM855 355h1v1h-1zM962 355h4v1h-4zM1002 355h2v1h-2zM1198 355h1v1h-1zM705 356h2v1h-2zM854 356h1v1h-1zM966 356h3v1h-3zM1001 356h1v1h-1zM1199 356h1v1h-1zM707 357h2v1h-2zM853 357h1v1h-1zM969 357h1v1h-1zM999 357h2v1h-2zM1199 357h1v1h-1zM709 358h2v1h-2zM853 358h1v1h-1zM970 358h1v1h-1zM997 358h2v1h-2zM1200 358h1v1h-1zM711 359h2v1h-2zM852 359h1v1h-1zM971 359h1v1h-1zM996 359h1v1h-1zM1201 359h1v1h-1zM713 360h1v1h-1zM851 360h1v1h-1zM972 360h1v1h-1zM994 360h2v1h-2zM1201 360h1v1h-1zM714 361h2v1h-2zM851 361h1v1h-1zM973 361h1v1h-1zM993 361h1v1h-1zM1202 361h1v1h-1zM716 362h1v1h-1zM850 362h1v1h-1zM974 362h2v1h-2zM991 362h2v1h-2zM1203 362h1v1h-1zM717 363h1v1h-1zM849 363h1v1h-1zM976 363h1v1h-1zM989 363h2v1h-2zM1203 363h1v1h-1zM718 364h2v1h-2zM849 364h1v1h-1zM977 364h2v1h-2zM982 364h7v1h-7zM1204 364h1v1h-1zM720 365h1v1h-1zM848 365h1v1h-1zM979 365h3v1h-3zM1205 365h1v1h-1zM721 366h1v1h-1zM847 366h1v1h-1zM1205 366h1v1h-1zM722 367h2v1h-2zM846 367h1v1h-1zM1206 367h1v1h-1zM724 368h1v1h-1zM846 368h1v1h-1zM1206 368h1v1h-1zM725 369h1v1h-1zM845 369h1v1h-1zM1207 369h1v1h-1zM726 370h1v1h-1zM844 370h1v1h-1zM1207 370h1v1h-1zM727 371h1v1h-1zM843 371h1v1h-1zM1208 371h1v1h-1zM728 372h1v1h-1zM842 372h1v1h-1zM1209 372h1v1h-1zM729 373h1v1h-1zM842 373h1v1h-1zM1209 373h1v1h-1zM729 374h1v1h-1zM841 374h1v1h-1zM1210 374h1v1h-1zM730 375h1v1h-1zM840 375h1v1h-1zM1210 375h1v1h-1zM731 376h1v1h-1zM838 376h2v1h-2zM1211 376h1v1h-1zM731 377h1v1h-1zM837 377h1v1h-1zM1211 377h1v1h-1zM732 378h1v1h-1zM836 378h1v1h-1zM1212 378h1v1h-1zM733 379h1v1h-1zM834 379h2v1h-2zM1213 379h1v1h-1zM734 380h1v1h-1zM833 380h1v1h-1zM1213 380h1v1h-1zM734 381h1v1h-1zM830 381h3v1h-3zM1214 381h1v1h-1zM735 382h1v1h-1zM827 382h3v1h-3zM1214 382h1v1h-1zM736 383h1v1h-1zM825 383h2v1h-2zM1215 383h1v1h-1zM737 384h1v1h-1zM823 384h2v1h-2zM1215 384h1v1h-1zM737 385h1v1h-1zM821 385h2v1h-2zM1216 385h1v1h-1zM738 386h1v1h-1zM819 386h2v1h-2zM1217 386h1v1h-1zM739 387h1v1h-1zM817 387h2v1h-2zM1217 387h1v1h-1zM739 388h1v1h-1zM815 388h2v1h-2zM1218 388h1v1h-1zM740 389h1v1h-1zM813 389h2v1h-2zM1218 389h1v1h-1zM741 390h1v1h-1zM812 390h1v1h-1zM1219 390h1v1h-1zM742 391h1v1h-1zM810 391h2v1h-2zM1219 391h1v1h-1zM743 392h1v1h-1zM809 392h1v1h-1zM1220 392h1v1h-1zM744 393h1v1h-1zM808 393h1v1h-1zM1220 393h1v1h-1zM745 394h1v1h-1zM806 394h2v1h-2zM1221 394h1v1h-1zM746 395h1v1h-1zM805 395h1v1h-1zM1221 395h1v1h-1zM747 396h1v1h-1zM803 396h2v1h-2zM1222 396h1v1h-1zM748 397h2v1h-2zM801 397h2v1h-2zM1222 397h1v1h-1zM750 398h4v1h-4zM762 398h4v1h-4zM798 398h3v1h-3zM1223 398h1v1h-1zM754 399h8v1h-8zM766 399h4v1h-4zM795 399h3v1h-3zM1223 399h1v1h-1zM770 400h8v1h-8zM782 400h4v1h-4zM793 400h2v1h-2zM1224 400h1v1h-1zM778 401h4v1h-4zM786 401h7v1h-7zM1224 401h1v1h-1zM1224 402h1v1h-1zM1225 403h1v1h-1zM1225 404h1v1h-1zM1226 405h1v1h-1zM1226 406h1v1h-1zM1227 407h1v1h-1zM1227 408h1v1h-1zM1228 409h1v1h-1zM1228 410h1v1h-1zM1228 411h1v1h-1zM1229 412h1v1h-1zM1229 413h1v1h-1zM1230 414h1v1h-1zM1230 415h1v1h-1zM1231 416h1v1h-1zM1231 417h1v1h-1zM1232 418h1v1h-1zM1232 419h1v1h-1zM1233 420h1v1h-1zM1233 421h1v1h-1zM1234 422h1v1h-1zM1235 423h1v1h-1zM1235 424h1v1h-1zM1236 425h1v1h-1zM1237 426h1v1h-1zM1237 427h1v1h-1zM1238 428h1v1h-1zM1238 429h1v1h-1zM1239 430h1v1h-1zM1239 431h1v1h-1zM1240 432h1v1h-1zM1241 433h1v1h-1zM1241 434h1v1h-1zM1242 435h1v1h-1zM1243 436h1v1h-1zM1243 437h1v1h-1zM1244 438h1v1h-1zM1280 438h1v1h-1zM1245 439h1v1h-1zM1278 439h2v1h-2zM1245 440h1v1h-1zM1277 440h1v1h-1zM1246 441h1v1h-1zM1276 441h1v1h-1zM1247 442h1v1h-1zM1274 442h2v1h-2zM1247 443h1v1h-1zM1273 443h1v1h-1zM1248 444h1v1h-1zM1272 444h1v1h-1zM1249 445h1v1h-1zM1271 445h1v1h-1zM1250 446h1v1h-1zM1270 446h1v1h-1zM1250 447h1v1h-1zM1270 447h1v1h-1zM1251 448h1v1h-1zM1269 448h1v1h-1zM1252 449h1v1h-1zM1268 449h1v1h-1zM1253 450h2v1h-2zM1266 450h2v1h-2zM1255 451h3v1h-3zM1265 451h1v1h-1zM1258 452h7v1h-7z" fill="#0000cd" shape-rendering="crispEdges"/>
<g shape-rendering="crispEdges">
<rect x="4" y="162" width="1607" height="2" fill="#ff0000"/>
<rect x="4" y="242" width="1607" height="2" fill="#ff0000"/>
<rect x="4" y="320" width="1607" height="2" fill="#ff0000"/>
<rect x="4" y="399" width="1607" height="2" fill="#00ff00"/>
<rect x="4" y="493" width="1607" height="2" fill="#0000cd"/>
<rect x="4" y="556" width="1607" height="2" fill="#0000cd"/>
</g>
<path d="M1284 23 L1293 23 L1288.5 28 Z" fill="#c0c0c0"/>
<path d="M7 29 L14 29 L10.5 33 Z" fill="#000"/>
<text x="19.30" y="34" font-size="10" fill="#000" stroke="#000" stroke-width="0.2" textLength="63.51" lengthAdjust="spacingAndGlyphs">EURUSD,Daily</text>
<text x="89.40" y="34" font-size="10" fill="#000" stroke="#000" stroke-width="0.2" textLength="140.20" lengthAdjust="spacingAndGlyphs">1.11387 1.11446 1.11185 1.11347</text>
</svg>
<g shape-rendering="crispEdges">
<rect x="3" y="397" width="6" height="6" fill="#00ff00"/>
<rect x="5" y="399" width="2" height="2" fill="#ffffff"/>
<rect x="1605" y="397" width="6" height="6" fill="#00ff00"/>
<rect x="1607" y="399" width="2" height="2" fill="#ffffff"/>
<rect x="3" y="491" width="6" height="6" fill="#0000cd"/>
<rect x="5" y="493" width="2" height="2" fill="#ffffff"/>
<rect x="1605" y="491" width="6" height="6" fill="#0000cd"/>
<rect x="1607" y="493" width="2" height="2" fill="#ffffff"/>
</g>
<g shape-rendering="crispEdges">
<rect x="1612" y="25" width="2" height="1" fill="#000"/>
<rect x="1612" y="58" width="2" height="1" fill="#000"/>
<rect x="1612" y="91" width="2" height="1" fill="#000"/>
<rect x="1612" y="124" width="2" height="1" fill="#000"/>
<rect x="1612" y="157" width="2" height="1" fill="#000"/>
<rect x="1612" y="190" width="2" height="1" fill="#000"/>
<rect x="1612" y="223" width="2" height="1" fill="#000"/>
<rect x="1612" y="256" width="2" height="1" fill="#000"/>
<rect x="1612" y="289" width="2" height="1" fill="#000"/>
<rect x="1612" y="322" width="2" height="1" fill="#000"/>
<rect x="1612" y="355" width="2" height="1" fill="#000"/>
<rect x="1612" y="388" width="2" height="1" fill="#000"/>
<rect x="1612" y="421" width="2" height="1" fill="#000"/>
<rect x="1612" y="454" width="2" height="1" fill="#000"/>
<rect x="1612" y="487" width="2" height="1" fill="#000"/>
<rect x="1612" y="520" width="2" height="1" fill="#000"/>
<rect x="1612" y="553" width="2" height="1" fill="#000"/>
<rect x="1612" y="586" width="2" height="1" fill="#000"/>
</g>
<text x="1617.50" y="29" font-size="10" fill="#000" stroke="#000" stroke-width="0.2" textLength="32.40" lengthAdjust="spacingAndGlyphs">1.14790</text>
<text x="1617.50" y="62" font-size="10" fill="#000" stroke="#000" stroke-width="0.2" textLength="32.40" lengthAdjust="spacingAndGlyphs">1.14370</text>
<text x="1617.50" y="95" font-size="10" fill="#000" stroke="#000" stroke-width="0.2" textLength="32.40" lengthAdjust="spacingAndGlyphs">1.13950</text>
<text x="1617.50" y="128" font-size="10" fill="#000" stroke="#000" stroke-width="0.2" textLength="32.40" lengthAdjust="spacingAndGlyphs">1.13530</text>
<text x="1617.50" y="161" font-size="10" fill="#000" stroke="#000" stroke-width="0.2" textLength="32.41" lengthAdjust="spacingAndGlyphs">1.13110</text>
<text x="1617.50" y="194" font-size="10" fill="#000" stroke="#000" stroke-width="0.2" textLength="32.40" lengthAdjust="spacingAndGlyphs">1.12680</text>
<text x="1617.50" y="227" font-size="10" fill="#000" stroke="#000" stroke-width="0.2" textLength="32.40" lengthAdjust="spacingAndGlyphs">1.12260</text>
<text x="1617.50" y="260" font-size="10" fill="#000" stroke="#000" stroke-width="0.2" textLength="32.41" lengthAdjust="spacingAndGlyphs">1.11840</text>
<text x="1617.50" y="293" font-size="10" fill="#000" stroke="#000" stroke-width="0.2" textLength="32.41" lengthAdjust="spacingAndGlyphs">1.11420</text>
<text x="1617.50" y="326" font-size="10" fill="#000" stroke="#000" stroke-width="0.2" textLength="32.41" lengthAdjust="spacingAndGlyphs">1.11000</text>
<text x="1617.50" y="359" font-size="10" fill="#000" stroke="#000" stroke-width="0.2" textLength="32.40" lengthAdjust="spacingAndGlyphs">1.10580</text>
<text x="1617.50" y="392" font-size="10" fill="#000" stroke="#000" stroke-width="0.2" textLength="32.40" lengthAdjust="spacingAndGlyphs">1.10160</text>
<text x="1617.50" y="425" font-size="10" fill="#000" stroke="#000" stroke-width="0.2" textLength="32.40" lengthAdjust="spacingAndGlyphs">1.09740</text>
<text x="1617.50" y="458" font-size="10" fill="#000" stroke="#000" stroke-width="0.2" textLength="32.40" lengthAdjust="spacingAndGlyphs">1.09310</text>
<text x="1617.50" y="491" font-size="10" fill="#000" stroke="#000" stroke-width="0.2" textLength="32.40" lengthAdjust="spacingAndGlyphs">1.08890</text>
<text x="1617.50" y="524" font-size="10" fill="#000" stroke="#000" stroke-width="0.2" textLength="32.40" lengthAdjust="spacingAndGlyphs">1.08470</text>
<text x="1617.50" y="557" font-size="10" fill="#000" stroke="#000" stroke-width="0.2" textLength="32.40" lengthAdjust="spacingAndGlyphs">1.08050</text>
<text x="1617.50" y="590" font-size="10" fill="#000" stroke="#000" stroke-width="0.2" textLength="32.40" lengthAdjust="spacingAndGlyphs">1.07630</text>
<rect x="1613" y="157" width="39" height="11" fill="#ff0000" shape-rendering="crispEdges"/>
<text x="1617.50" y="166" font-size="10" fill="#fff" stroke="#fff" stroke-width="0.2" textLength="32.40" lengthAdjust="spacingAndGlyphs">1.13034</text>
<rect x="1613" y="237" width="39" height="11" fill="#ff0000" shape-rendering="crispEdges"/>
<text x="1617.50" y="246" font-size="10" fill="#fff" stroke="#fff" stroke-width="0.2" textLength="32.40" lengthAdjust="spacingAndGlyphs">1.12004</text>
<rect x="1613" y="290" width="39" height="11" fill="#000000" shape-rendering="crispEdges"/>
<text x="1617.50" y="299" font-size="10" fill="#fff" stroke="#fff" stroke-width="0.2" textLength="32.41" lengthAdjust="spacingAndGlyphs">1.11347</text>
<rect x="1613" y="315" width="39" height="11" fill="#ff0000" shape-rendering="crispEdges"/>
<text x="1617.50" y="324" font-size="10" fill="#fff" stroke="#fff" stroke-width="0.2" textLength="32.41" lengthAdjust="spacingAndGlyphs">1.11009</text>
<rect x="1613" y="394" width="39" height="11" fill="#00ff00" shape-rendering="crispEdges"/>
<text x="1617.50" y="403" font-size="10" fill="#fff" stroke="#fff" stroke-width="0.2" textLength="32.40" lengthAdjust="spacingAndGlyphs">1.10008</text>
<rect x="1613" y="488" width="39" height="11" fill="#0000cd" shape-rendering="crispEdges"/>
<text x="1617.50" y="497" font-size="10" fill="#fff" stroke="#fff" stroke-width="0.2" textLength="32.40" lengthAdjust="spacingAndGlyphs">1.08800</text>
<rect x="1613" y="551" width="39" height="11" fill="#0000cd" shape-rendering="crispEdges"/>
<text x="1617.50" y="560" font-size="10" fill="#fff" stroke="#fff" stroke-width="0.2" textLength="32.40" lengthAdjust="spacingAndGlyphs">1.08008</text>
<svg x="4" y="592" width="1607" height="103" viewBox="4 592 1607 103" overflow="hidden">
<g shape-rendering="crispEdges">
<line x1="5" y1="623.5" x2="1611" y2="623.5" stroke="#c0c0c0" stroke-width="1" stroke-dasharray="3,3"/>
<line x1="5" y1="664.5" x2="1611" y2="664.5" stroke="#c0c0c0" stroke-width="1" stroke-dasharray="3,3"/>
</g>
<path d="M1272 616h1v1h-1zM1270 617h2v1h-2zM1273 617h1v1h-1zM1269 618h1v1h-1zM1273 618h1v1h-1zM1268 619h1v1h-1zM1274 619h1v1h-1zM1268 620h1v1h-1zM1274 620h1v1h-1zM350 621h3v1h-3zM1267 621h1v1h-1zM1275 621h1v1h-1zM348 622h2v1h-2zM353 622h1v1h-1zM1056 622h1v1h-1zM1267 622h1v1h-1zM1275 622h1v1h-1zM346 623h2v1h-2zM353 623h1v1h-1zM806 623h3v1h-3zM1054 623h2v1h-2zM1057 623h2v1h-2zM1266 623h1v1h-1zM1276 623h2v1h-2zM345 624h1v1h-1zM354 624h1v1h-1zM803 624h3v1h-3zM809 624h1v1h-1zM1053 624h1v1h-1zM1059 624h2v1h-2zM1266 624h1v1h-1zM1278 624h3v1h-3zM344 625h1v1h-1zM354 625h1v1h-1zM801 625h2v1h-2zM810 625h2v1h-2zM1051 625h2v1h-2zM1061 625h1v1h-1zM1265 625h1v1h-1zM344 626h1v1h-1zM355 626h1v1h-1zM403 626h3v1h-3zM800 626h1v1h-1zM812 626h1v1h-1zM851 626h3v1h-3zM1049 626h2v1h-2zM1062 626h1v1h-1zM1265 626h1v1h-1zM343 627h1v1h-1zM355 627h1v1h-1zM401 627h2v1h-2zM406 627h7v1h-7zM799 627h1v1h-1zM813 627h2v1h-2zM849 627h2v1h-2zM854 627h3v1h-3zM1008 627h1v1h-1zM1048 627h1v1h-1zM1063 627h1v1h-1zM1264 627h1v1h-1zM343 628h1v1h-1zM356 628h6v1h-6zM400 628h1v1h-1zM413 628h1v1h-1zM799 628h1v1h-1zM815 628h2v1h-2zM848 628h1v1h-1zM857 628h1v1h-1zM996 628h1v1h-1zM1006 628h2v1h-2zM1009 628h1v1h-1zM1046 628h2v1h-2zM1064 628h1v1h-1zM1264 628h1v1h-1zM342 629h1v1h-1zM362 629h3v1h-3zM398 629h2v1h-2zM414 629h2v1h-2zM418 629h7v1h-7zM798 629h1v1h-1zM817 629h1v1h-1zM847 629h1v1h-1zM858 629h2v1h-2zM994 629h2v1h-2zM997 629h1v1h-1zM1005 629h1v1h-1zM1009 629h1v1h-1zM1045 629h1v1h-1zM1064 629h1v1h-1zM1263 629h1v1h-1zM342 630h1v1h-1zM365 630h1v1h-1zM397 630h1v1h-1zM416 630h2v1h-2zM424 630h1v1h-1zM797 630h1v1h-1zM818 630h1v1h-1zM846 630h1v1h-1zM860 630h1v1h-1zM993 630h1v1h-1zM998 630h1v1h-1zM1004 630h1v1h-1zM1010 630h1v1h-1zM1044 630h1v1h-1zM1065 630h1v1h-1zM1262 630h1v1h-1zM341 631h1v1h-1zM365 631h1v1h-1zM396 631h1v1h-1zM425 631h1v1h-1zM797 631h1v1h-1zM818 631h1v1h-1zM846 631h1v1h-1zM860 631h1v1h-1zM992 631h1v1h-1zM998 631h1v1h-1zM1002 631h2v1h-2zM1010 631h1v1h-1zM1044 631h1v1h-1zM1065 631h1v1h-1zM1262 631h1v1h-1zM341 632h1v1h-1zM366 632h1v1h-1zM395 632h1v1h-1zM425 632h1v1h-1zM796 632h1v1h-1zM819 632h1v1h-1zM845 632h1v1h-1zM860 632h1v1h-1zM991 632h1v1h-1zM999 632h1v1h-1zM1001 632h1v1h-1zM1011 632h1v1h-1zM1043 632h1v1h-1zM1066 632h1v1h-1zM1261 632h1v1h-1zM338 633h3v1h-3zM366 633h1v1h-1zM394 633h1v1h-1zM425 633h1v1h-1zM795 633h1v1h-1zM820 633h1v1h-1zM842 633h3v1h-3zM861 633h1v1h-1zM991 633h1v1h-1zM1000 633h1v1h-1zM1011 633h1v1h-1zM1043 633h1v1h-1zM1066 633h1v1h-1zM1076 633h1v1h-1zM1256 633h5v1h-5zM336 634h2v1h-2zM367 634h1v1h-1zM394 634h1v1h-1zM426 634h1v1h-1zM795 634h1v1h-1zM821 634h1v1h-1zM840 634h2v1h-2zM861 634h1v1h-1zM966 634h3v1h-3zM990 634h1v1h-1zM1012 634h1v1h-1zM1043 634h1v1h-1zM1067 634h1v1h-1zM1075 634h2v1h-2zM1256 634h1v1h-1zM4 635h9v1h-9zM79 635h2v1h-2zM335 635h1v1h-1zM367 635h1v1h-1zM393 635h1v1h-1zM426 635h1v1h-1zM794 635h1v1h-1zM822 635h1v1h-1zM839 635h1v1h-1zM861 635h1v1h-1zM962 635h4v1h-4zM968 635h1v1h-1zM989 635h1v1h-1zM1013 635h1v1h-1zM1042 635h1v1h-1zM1067 635h1v1h-1zM1074 635h1v1h-1zM1077 635h1v1h-1zM1256 635h1v1h-1zM13 636h1v1h-1zM77 636h2v1h-2zM80 636h1v1h-1zM334 636h1v1h-1zM368 636h1v1h-1zM392 636h1v1h-1zM426 636h1v1h-1zM556 636h1v1h-1zM782 636h3v1h-3zM793 636h1v1h-1zM823 636h1v1h-1zM838 636h1v1h-1zM861 636h1v1h-1zM959 636h3v1h-3zM969 636h1v1h-1zM984 636h2v1h-2zM989 636h1v1h-1zM1014 636h2v1h-2zM1042 636h1v1h-1zM1068 636h1v1h-1zM1073 636h1v1h-1zM1077 636h1v1h-1zM1255 636h1v1h-1zM13 637h1v1h-1zM74 637h3v1h-3zM81 637h1v1h-1zM156 637h1v1h-1zM334 637h1v1h-1zM368 637h1v1h-1zM392 637h1v1h-1zM426 637h1v1h-1zM555 637h1v1h-1zM557 637h1v1h-1zM780 637h2v1h-2zM785 637h1v1h-1zM793 637h1v1h-1zM824 637h1v1h-1zM837 637h1v1h-1zM862 637h1v1h-1zM957 637h2v1h-2zM969 637h1v1h-1zM983 637h1v1h-1zM986 637h3v1h-3zM1016 637h1v1h-1zM1041 637h1v1h-1zM1068 637h5v1h-5zM1078 637h1v1h-1zM1255 637h1v1h-1zM14 638h1v1h-1zM70 638h4v1h-4zM81 638h1v1h-1zM155 638h1v1h-1zM157 638h2v1h-2zM162 638h4v1h-4zM333 638h1v1h-1zM368 638h1v1h-1zM391 638h1v1h-1zM427 638h1v1h-1zM555 638h1v1h-1zM557 638h1v1h-1zM778 638h2v1h-2zM786 638h2v1h-2zM790 638h3v1h-3zM825 638h1v1h-1zM835 638h2v1h-2zM862 638h1v1h-1zM956 638h1v1h-1zM969 638h1v1h-1zM982 638h1v1h-1zM1017 638h1v1h-1zM1041 638h1v1h-1zM1078 638h1v1h-1zM1255 638h1v1h-1zM14 639h1v1h-1zM68 639h2v1h-2zM81 639h1v1h-1zM155 639h1v1h-1zM159 639h3v1h-3zM166 639h7v1h-7zM251 639h2v1h-2zM332 639h1v1h-1zM369 639h1v1h-1zM391 639h1v1h-1zM427 639h1v1h-1zM554 639h1v1h-1zM558 639h1v1h-1zM564 639h1v1h-1zM777 639h1v1h-1zM788 639h2v1h-2zM826 639h2v1h-2zM833 639h2v1h-2zM862 639h1v1h-1zM956 639h1v1h-1zM970 639h1v1h-1zM981 639h1v1h-1zM1017 639h1v1h-1zM1041 639h1v1h-1zM1079 639h1v1h-1zM1108 639h1v1h-1zM1255 639h1v1h-1zM15 640h1v1h-1zM66 640h2v1h-2zM81 640h1v1h-1zM154 640h1v1h-1zM172 640h1v1h-1zM249 640h2v1h-2zM253 640h1v1h-1zM331 640h1v1h-1zM369 640h1v1h-1zM391 640h1v1h-1zM427 640h1v1h-1zM553 640h1v1h-1zM558 640h1v1h-1zM563 640h1v1h-1zM565 640h2v1h-2zM570 640h3v1h-3zM776 640h1v1h-1zM828 640h5v1h-5zM862 640h1v1h-1zM908 640h5v1h-5zM955 640h1v1h-1zM970 640h1v1h-1zM980 640h1v1h-1zM1018 640h1v1h-1zM1040 640h1v1h-1zM1079 640h1v1h-1zM1107 640h1v1h-1zM1109 640h1v1h-1zM1255 640h1v1h-1zM15 641h1v1h-1zM60 641h2v1h-2zM65 641h1v1h-1zM82 641h1v1h-1zM154 641h1v1h-1zM173 641h1v1h-1zM220 641h1v1h-1zM248 641h1v1h-1zM254 641h2v1h-2zM258 641h3v1h-3zM304 641h1v1h-1zM331 641h1v1h-1zM370 641h1v1h-1zM390 641h1v1h-1zM428 641h1v1h-1zM553 641h1v1h-1zM559 641h1v1h-1zM562 641h1v1h-1zM567 641h3v1h-3zM573 641h1v1h-1zM775 641h1v1h-1zM863 641h1v1h-1zM907 641h1v1h-1zM913 641h2v1h-2zM918 641h3v1h-3zM955 641h1v1h-1zM971 641h1v1h-1zM979 641h1v1h-1zM1019 641h1v1h-1zM1040 641h1v1h-1zM1080 641h1v1h-1zM1107 641h1v1h-1zM1110 641h1v1h-1zM1255 641h1v1h-1zM16 642h1v1h-1zM59 642h1v1h-1zM62 642h3v1h-3zM82 642h1v1h-1zM143 642h3v1h-3zM153 642h1v1h-1zM173 642h1v1h-1zM220 642h1v1h-1zM247 642h1v1h-1zM256 642h2v1h-2zM261 642h1v1h-1zM302 642h2v1h-2zM305 642h1v1h-1zM330 642h1v1h-1zM370 642h1v1h-1zM390 642h1v1h-1zM428 642h2v1h-2zM548 642h5v1h-5zM559 642h1v1h-1zM561 642h1v1h-1zM574 642h1v1h-1zM775 642h1v1h-1zM863 642h1v1h-1zM906 642h1v1h-1zM915 642h3v1h-3zM920 642h1v1h-1zM955 642h1v1h-1zM971 642h1v1h-1zM978 642h1v1h-1zM1019 642h1v1h-1zM1038 642h2v1h-2zM1080 642h1v1h-1zM1106 642h1v1h-1zM1110 642h1v1h-1zM1166 642h3v1h-3zM1254 642h1v1h-1zM16 643h1v1h-1zM58 643h1v1h-1zM82 643h1v1h-1zM92 643h1v1h-1zM141 643h2v1h-2zM146 643h4v1h-4zM153 643h1v1h-1zM173 643h1v1h-1zM219 643h1v1h-1zM221 643h1v1h-1zM246 643h1v1h-1zM262 643h1v1h-1zM301 643h1v1h-1zM306 643h1v1h-1zM330 643h1v1h-1zM370 643h1v1h-1zM389 643h1v1h-1zM430 643h3v1h-3zM472 643h1v1h-1zM548 643h1v1h-1zM560 643h1v1h-1zM574 643h1v1h-1zM614 643h3v1h-3zM680 643h6v1h-6zM774 643h1v1h-1zM863 643h1v1h-1zM906 643h1v1h-1zM921 643h1v1h-1zM954 643h1v1h-1zM971 643h1v1h-1zM977 643h1v1h-1zM1020 643h1v1h-1zM1030 643h4v1h-4zM1037 643h1v1h-1zM1081 643h1v1h-1zM1105 643h1v1h-1zM1111 643h1v1h-1zM1164 643h2v1h-2zM1169 643h1v1h-1zM1254 643h1v1h-1zM17 644h1v1h-1zM52 644h2v1h-2zM57 644h1v1h-1zM82 644h1v1h-1zM91 644h1v1h-1zM93 644h1v1h-1zM140 644h1v1h-1zM150 644h3v1h-3zM174 644h1v1h-1zM219 644h1v1h-1zM221 644h1v1h-1zM246 644h1v1h-1zM262 644h1v1h-1zM300 644h1v1h-1zM307 644h1v1h-1zM329 644h1v1h-1zM371 644h1v1h-1zM380 644h1v1h-1zM389 644h1v1h-1zM433 644h1v1h-1zM471 644h1v1h-1zM473 644h1v1h-1zM547 644h1v1h-1zM575 644h1v1h-1zM612 644h2v1h-2zM617 644h1v1h-1zM680 644h1v1h-1zM686 644h3v1h-3zM696 644h1v1h-1zM773 644h1v1h-1zM863 644h1v1h-1zM905 644h1v1h-1zM921 644h1v1h-1zM954 644h1v1h-1zM972 644h1v1h-1zM974 644h3v1h-3zM1021 644h1v1h-1zM1028 644h2v1h-2zM1034 644h3v1h-3zM1082 644h1v1h-1zM1098 644h4v1h-4zM1105 644h1v1h-1zM1112 644h1v1h-1zM1164 644h1v1h-1zM1169 644h1v1h-1zM1254 644h1v1h-1zM17 645h1v1h-1zM51 645h1v1h-1zM54 645h3v1h-3zM83 645h1v1h-1zM90 645h1v1h-1zM93 645h1v1h-1zM140 645h1v1h-1zM174 645h1v1h-1zM218 645h1v1h-1zM222 645h1v1h-1zM245 645h1v1h-1zM263 645h1v1h-1zM299 645h1v1h-1zM308 645h1v1h-1zM329 645h1v1h-1zM371 645h1v1h-1zM379 645h1v1h-1zM381 645h1v1h-1zM389 645h1v1h-1zM434 645h1v1h-1zM460 645h2v1h-2zM470 645h1v1h-1zM474 645h2v1h-2zM547 645h1v1h-1zM576 645h1v1h-1zM612 645h1v1h-1zM617 645h1v1h-1zM679 645h1v1h-1zM689 645h1v1h-1zM696 645h2v1h-2zM703 645h2v1h-2zM752 645h1v1h-1zM773 645h1v1h-1zM864 645h1v1h-1zM902 645h3v1h-3zM922 645h1v1h-1zM954 645h1v1h-1zM972 645h2v1h-2zM1022 645h1v1h-1zM1026 645h2v1h-2zM1083 645h1v1h-1zM1095 645h3v1h-3zM1102 645h3v1h-3zM1113 645h1v1h-1zM1163 645h1v1h-1zM1170 645h1v1h-1zM1254 645h1v1h-1zM18 646h1v1h-1zM51 646h1v1h-1zM83 646h1v1h-1zM90 646h1v1h-1zM94 646h1v1h-1zM139 646h1v1h-1zM175 646h1v1h-1zM188 646h1v1h-1zM218 646h1v1h-1zM222 646h1v1h-1zM244 646h1v1h-1zM264 646h1v1h-1zM299 646h1v1h-1zM309 646h1v1h-1zM328 646h1v1h-1zM372 646h1v1h-1zM378 646h1v1h-1zM381 646h1v1h-1zM388 646h1v1h-1zM435 646h1v1h-1zM438 646h3v1h-3zM460 646h1v1h-1zM462 646h4v1h-4zM469 646h1v1h-1zM476 646h1v1h-1zM547 646h1v1h-1zM577 646h1v1h-1zM611 646h1v1h-1zM618 646h1v1h-1zM679 646h1v1h-1zM689 646h1v1h-1zM695 646h1v1h-1zM698 646h2v1h-2zM701 646h2v1h-2zM705 646h1v1h-1zM751 646h1v1h-1zM753 646h1v1h-1zM759 646h6v1h-6zM772 646h1v1h-1zM864 646h1v1h-1zM900 646h2v1h-2zM922 646h1v1h-1zM953 646h1v1h-1zM1023 646h1v1h-1zM1025 646h1v1h-1zM1084 646h1v1h-1zM1093 646h2v1h-2zM1113 646h1v1h-1zM1163 646h1v1h-1zM1171 646h1v1h-1zM1254 646h1v1h-1zM18 647h1v1h-1zM50 647h1v1h-1zM83 647h1v1h-1zM89 647h1v1h-1zM94 647h1v1h-1zM139 647h1v1h-1zM175 647h1v1h-1zM186 647h2v1h-2zM189 647h1v1h-1zM217 647h1v1h-1zM223 647h1v1h-1zM243 647h1v1h-1zM265 647h2v1h-2zM298 647h1v1h-1zM310 647h2v1h-2zM327 647h1v1h-1zM372 647h1v1h-1zM378 647h1v1h-1zM382 647h1v1h-1zM388 647h1v1h-1zM436 647h2v1h-2zM440 647h1v1h-1zM459 647h1v1h-1zM466 647h3v1h-3zM477 647h1v1h-1zM547 647h1v1h-1zM578 647h1v1h-1zM611 647h1v1h-1zM619 647h1v1h-1zM668 647h1v1h-1zM679 647h1v1h-1zM690 647h1v1h-1zM695 647h1v1h-1zM700 647h1v1h-1zM705 647h1v1h-1zM751 647h1v1h-1zM754 647h2v1h-2zM757 647h2v1h-2zM765 647h1v1h-1zM771 647h1v1h-1zM864 647h5v1h-5zM900 647h1v1h-1zM923 647h1v1h-1zM953 647h1v1h-1zM1024 647h1v1h-1zM1085 647h1v1h-1zM1091 647h2v1h-2zM1114 647h1v1h-1zM1162 647h1v1h-1zM1171 647h1v1h-1zM1253 647h1v1h-1zM19 648h1v1h-1zM50 648h1v1h-1zM83 648h1v1h-1zM88 648h1v1h-1zM95 648h1v1h-1zM138 648h1v1h-1zM175 648h1v1h-1zM185 648h1v1h-1zM189 648h1v1h-1zM217 648h1v1h-1zM223 648h1v1h-1zM230 648h7v1h-7zM242 648h1v1h-1zM267 648h2v1h-2zM297 648h1v1h-1zM312 648h1v1h-1zM327 648h1v1h-1zM373 648h2v1h-2zM377 648h1v1h-1zM383 648h1v1h-1zM386 648h2v1h-2zM441 648h1v1h-1zM459 648h1v1h-1zM477 648h1v1h-1zM546 648h1v1h-1zM578 648h1v1h-1zM611 648h1v1h-1zM619 648h1v1h-1zM667 648h1v1h-1zM669 648h2v1h-2zM678 648h1v1h-1zM690 648h1v1h-1zM694 648h1v1h-1zM706 648h1v1h-1zM750 648h1v1h-1zM756 648h1v1h-1zM766 648h1v1h-1zM770 648h1v1h-1zM869 648h1v1h-1zM899 648h1v1h-1zM923 648h1v1h-1zM948 648h1v1h-1zM953 648h1v1h-1zM1086 648h2v1h-2zM1089 648h2v1h-2zM1115 648h1v1h-1zM1128 648h1v1h-1zM1162 648h1v1h-1zM1172 648h1v1h-1zM1253 648h1v1h-1zM19 649h1v1h-1zM49 649h1v1h-1zM84 649h1v1h-1zM86 649h2v1h-2zM95 649h1v1h-1zM124 649h1v1h-1zM138 649h1v1h-1zM176 649h1v1h-1zM184 649h1v1h-1zM190 649h1v1h-1zM216 649h1v1h-1zM224 649h1v1h-1zM226 649h4v1h-4zM237 649h1v1h-1zM242 649h1v1h-1zM269 649h1v1h-1zM297 649h1v1h-1zM313 649h1v1h-1zM326 649h1v1h-1zM375 649h2v1h-2zM383 649h1v1h-1zM385 649h1v1h-1zM441 649h1v1h-1zM458 649h1v1h-1zM478 649h1v1h-1zM484 649h2v1h-2zM546 649h1v1h-1zM579 649h1v1h-1zM610 649h1v1h-1zM620 649h1v1h-1zM666 649h1v1h-1zM671 649h2v1h-2zM678 649h1v1h-1zM691 649h1v1h-1zM694 649h1v1h-1zM707 649h1v1h-1zM711 649h2v1h-2zM750 649h1v1h-1zM766 649h1v1h-1zM770 649h1v1h-1zM870 649h1v1h-1zM899 649h1v1h-1zM924 649h1v1h-1zM947 649h1v1h-1zM949 649h2v1h-2zM952 649h1v1h-1zM1088 649h1v1h-1zM1115 649h1v1h-1zM1127 649h1v1h-1zM1129 649h1v1h-1zM1162 649h1v1h-1zM1173 649h1v1h-1zM1253 649h1v1h-1zM20 650h1v1h-1zM28 650h1v1h-1zM49 650h1v1h-1zM84 650h2v1h-2zM96 650h1v1h-1zM124 650h2v1h-2zM137 650h1v1h-1zM176 650h1v1h-1zM182 650h2v1h-2zM190 650h1v1h-1zM215 650h1v1h-1zM224 650h2v1h-2zM238 650h2v1h-2zM241 650h1v1h-1zM270 650h1v1h-1zM296 650h1v1h-1zM313 650h1v1h-1zM325 650h1v1h-1zM384 650h1v1h-1zM442 650h1v1h-1zM458 650h1v1h-1zM478 650h1v1h-1zM483 650h1v1h-1zM486 650h4v1h-4zM546 650h1v1h-1zM580 650h1v1h-1zM610 650h1v1h-1zM621 650h1v1h-1zM666 650h1v1h-1zM673 650h1v1h-1zM678 650h1v1h-1zM691 650h1v1h-1zM693 650h1v1h-1zM707 650h1v1h-1zM709 650h2v1h-2zM713 650h1v1h-1zM749 650h1v1h-1zM767 650h1v1h-1zM769 650h1v1h-1zM870 650h1v1h-1zM898 650h1v1h-1zM924 650h2v1h-2zM947 650h1v1h-1zM951 650h2v1h-2zM1116 650h5v1h-5zM1126 650h1v1h-1zM1130 650h1v1h-1zM1161 650h1v1h-1zM1174 650h2v1h-2zM1253 650h1v1h-1zM20 651h1v1h-1zM27 651h2v1h-2zM48 651h1v1h-1zM84 651h1v1h-1zM97 651h1v1h-1zM123 651h1v1h-1zM126 651h1v1h-1zM137 651h1v1h-1zM177 651h2v1h-2zM181 651h1v1h-1zM191 651h1v1h-1zM215 651h1v1h-1zM240 651h1v1h-1zM271 651h1v1h-1zM295 651h1v1h-1zM314 651h1v1h-1zM325 651h1v1h-1zM442 651h1v1h-1zM458 651h1v1h-1zM479 651h1v1h-1zM482 651h1v1h-1zM490 651h8v1h-8zM545 651h1v1h-1zM581 651h1v1h-1zM609 651h1v1h-1zM622 651h2v1h-2zM656 651h6v1h-6zM665 651h1v1h-1zM673 651h1v1h-1zM677 651h1v1h-1zM692 651h2v1h-2zM708 651h1v1h-1zM714 651h2v1h-2zM718 651h3v1h-3zM749 651h1v1h-1zM768 651h1v1h-1zM871 651h1v1h-1zM898 651h1v1h-1zM926 651h3v1h-3zM946 651h1v1h-1zM1121 651h2v1h-2zM1125 651h1v1h-1zM1130 651h1v1h-1zM1161 651h1v1h-1zM1176 651h1v1h-1zM1253 651h1v1h-1zM21 652h1v1h-1zM26 652h1v1h-1zM29 652h1v1h-1zM48 652h1v1h-1zM98 652h1v1h-1zM123 652h1v1h-1zM127 652h1v1h-1zM134 652h3v1h-3zM179 652h2v1h-2zM191 652h1v1h-1zM214 652h1v1h-1zM272 652h1v1h-1zM283 652h2v1h-2zM294 652h1v1h-1zM314 652h1v1h-1zM324 652h1v1h-1zM443 652h1v1h-1zM457 652h1v1h-1zM479 652h1v1h-1zM481 652h1v1h-1zM498 652h3v1h-3zM545 652h1v1h-1zM581 652h1v1h-1zM609 652h1v1h-1zM624 652h2v1h-2zM654 652h2v1h-2zM662 652h3v1h-3zM674 652h1v1h-1zM677 652h1v1h-1zM692 652h1v1h-1zM716 652h2v1h-2zM721 652h1v1h-1zM748 652h1v1h-1zM872 652h1v1h-1zM884 652h1v1h-1zM898 652h1v1h-1zM929 652h1v1h-1zM945 652h1v1h-1zM1123 652h2v1h-2zM1131 652h1v1h-1zM1160 652h1v1h-1zM1177 652h1v1h-1zM1253 652h1v1h-1zM22 653h2v1h-2zM25 653h1v1h-1zM29 653h1v1h-1zM47 653h1v1h-1zM99 653h1v1h-1zM123 653h1v1h-1zM128 653h6v1h-6zM192 653h1v1h-1zM214 653h1v1h-1zM273 653h2v1h-2zM281 653h2v1h-2zM285 653h2v1h-2zM293 653h1v1h-1zM315 653h1v1h-1zM322 653h2v1h-2zM443 653h1v1h-1zM447 653h2v1h-2zM457 653h1v1h-1zM480 653h1v1h-1zM500 653h1v1h-1zM545 653h1v1h-1zM582 653h1v1h-1zM609 653h1v1h-1zM626 653h3v1h-3zM653 653h1v1h-1zM675 653h1v1h-1zM677 653h1v1h-1zM722 653h1v1h-1zM746 653h2v1h-2zM873 653h1v1h-1zM882 653h2v1h-2zM885 653h1v1h-1zM897 653h1v1h-1zM930 653h2v1h-2zM945 653h1v1h-1zM1132 653h1v1h-1zM1160 653h1v1h-1zM1178 653h1v1h-1zM1252 653h1v1h-1zM24 654h1v1h-1zM29 654h1v1h-1zM47 654h1v1h-1zM100 654h1v1h-1zM122 654h1v1h-1zM193 654h1v1h-1zM213 654h1v1h-1zM275 654h6v1h-6zM287 654h6v1h-6zM315 654h1v1h-1zM321 654h1v1h-1zM444 654h3v1h-3zM449 654h2v1h-2zM456 654h1v1h-1zM501 654h1v1h-1zM545 654h1v1h-1zM583 654h1v1h-1zM602 654h4v1h-4zM608 654h1v1h-1zM629 654h1v1h-1zM652 654h1v1h-1zM675 654h2v1h-2zM722 654h1v1h-1zM745 654h1v1h-1zM874 654h2v1h-2zM881 654h1v1h-1zM886 654h2v1h-2zM897 654h1v1h-1zM932 654h5v1h-5zM943 654h2v1h-2zM1133 654h1v1h-1zM1160 654h1v1h-1zM1178 654h1v1h-1zM1252 654h1v1h-1zM30 655h1v1h-1zM47 655h1v1h-1zM101 655h2v1h-2zM122 655h1v1h-1zM194 655h2v1h-2zM213 655h1v1h-1zM316 655h1v1h-1zM318 655h3v1h-3zM444 655h1v1h-1zM451 655h6v1h-6zM501 655h1v1h-1zM540 655h2v1h-2zM544 655h1v1h-1zM583 655h1v1h-1zM590 655h12v1h-12zM606 655h3v1h-3zM630 655h1v1h-1zM652 655h1v1h-1zM676 655h1v1h-1zM723 655h1v1h-1zM744 655h1v1h-1zM876 655h5v1h-5zM888 655h6v1h-6zM896 655h1v1h-1zM937 655h2v1h-2zM941 655h2v1h-2zM1134 655h1v1h-1zM1159 655h1v1h-1zM1179 655h1v1h-1zM1248 655h5v1h-5zM30 656h1v1h-1zM46 656h1v1h-1zM103 656h3v1h-3zM122 656h1v1h-1zM196 656h1v1h-1zM212 656h1v1h-1zM316 656h2v1h-2zM502 656h1v1h-1zM526 656h3v1h-3zM540 656h1v1h-1zM542 656h3v1h-3zM584 656h6v1h-6zM631 656h1v1h-1zM651 656h1v1h-1zM724 656h2v1h-2zM743 656h1v1h-1zM894 656h3v1h-3zM939 656h2v1h-2zM1135 656h1v1h-1zM1159 656h1v1h-1zM1180 656h1v1h-1zM1246 656h2v1h-2zM30 657h1v1h-1zM46 657h1v1h-1zM106 657h4v1h-4zM122 657h1v1h-1zM197 657h1v1h-1zM210 657h2v1h-2zM502 657h1v1h-1zM524 657h2v1h-2zM529 657h1v1h-1zM539 657h1v1h-1zM632 657h1v1h-1zM651 657h1v1h-1zM726 657h11v1h-11zM743 657h1v1h-1zM1136 657h1v1h-1zM1158 657h1v1h-1zM1181 657h1v1h-1zM1239 657h3v1h-3zM1245 657h1v1h-1zM30 658h1v1h-1zM46 658h1v1h-1zM110 658h4v1h-4zM121 658h1v1h-1zM197 658h1v1h-1zM209 658h1v1h-1zM503 658h1v1h-1zM523 658h1v1h-1zM530 658h2v1h-2zM539 658h1v1h-1zM633 658h1v1h-1zM651 658h1v1h-1zM737 658h1v1h-1zM742 658h1v1h-1zM1137 658h1v1h-1zM1158 658h1v1h-1zM1182 658h2v1h-2zM1237 658h2v1h-2zM1242 658h3v1h-3zM31 659h1v1h-1zM45 659h1v1h-1zM114 659h3v1h-3zM121 659h1v1h-1zM198 659h1v1h-1zM204 659h5v1h-5zM503 659h1v1h-1zM512 659h1v1h-1zM522 659h1v1h-1zM532 659h1v1h-1zM539 659h1v1h-1zM633 659h1v1h-1zM650 659h1v1h-1zM738 659h1v1h-1zM741 659h1v1h-1zM1138 659h2v1h-2zM1142 659h3v1h-3zM1158 659h1v1h-1zM1184 659h1v1h-1zM1236 659h1v1h-1zM31 660h1v1h-1zM39 660h2v1h-2zM45 660h1v1h-1zM117 660h1v1h-1zM121 660h1v1h-1zM199 660h1v1h-1zM202 660h2v1h-2zM504 660h1v1h-1zM510 660h2v1h-2zM513 660h1v1h-1zM522 660h1v1h-1zM533 660h1v1h-1zM538 660h1v1h-1zM634 660h1v1h-1zM650 660h1v1h-1zM739 660h1v1h-1zM741 660h1v1h-1zM1140 660h2v1h-2zM1145 660h2v1h-2zM1157 660h1v1h-1zM1185 660h2v1h-2zM1236 660h1v1h-1zM31 661h1v1h-1zM37 661h2v1h-2zM41 661h1v1h-1zM45 661h1v1h-1zM118 661h3v1h-3zM199 661h1v1h-1zM201 661h1v1h-1zM504 661h2v1h-2zM509 661h1v1h-1zM514 661h1v1h-1zM521 661h1v1h-1zM533 661h1v1h-1zM538 661h1v1h-1zM634 661h1v1h-1zM650 661h1v1h-1zM740 661h1v1h-1zM1147 661h3v1h-3zM1157 661h1v1h-1zM1187 661h2v1h-2zM1235 661h1v1h-1zM32 662h1v1h-1zM34 662h3v1h-3zM42 662h3v1h-3zM120 662h1v1h-1zM200 662h1v1h-1zM506 662h3v1h-3zM515 662h1v1h-1zM518 662h3v1h-3zM534 662h1v1h-1zM538 662h1v1h-1zM635 662h1v1h-1zM649 662h1v1h-1zM1150 662h4v1h-4zM1156 662h1v1h-1zM1189 662h2v1h-2zM1235 662h1v1h-1zM32 663h2v1h-2zM44 663h1v1h-1zM516 663h2v1h-2zM534 663h1v1h-1zM537 663h1v1h-1zM635 663h1v1h-1zM649 663h1v1h-1zM1154 663h3v1h-3zM1191 663h2v1h-2zM1235 663h1v1h-1zM535 664h1v1h-1zM537 664h1v1h-1zM636 664h2v1h-2zM649 664h1v1h-1zM1193 664h2v1h-2zM1235 664h1v1h-1zM535 665h1v1h-1zM537 665h1v1h-1zM638 665h4v1h-4zM648 665h1v1h-1zM1195 665h3v1h-3zM1234 665h1v1h-1zM536 666h1v1h-1zM642 666h7v1h-7zM1198 666h3v1h-3zM1234 666h1v1h-1zM536 667h1v1h-1zM1201 667h2v1h-2zM1234 667h1v1h-1zM1203 668h2v1h-2zM1234 668h1v1h-1zM1205 669h1v1h-1zM1233 669h1v1h-1zM1206 670h1v1h-1zM1233 670h1v1h-1zM1207 671h1v1h-1zM1233 671h1v1h-1zM1208 672h6v1h-6zM1233 672h1v1h-1zM1214 673h4v1h-4zM1232 673h1v1h-1zM1218 674h7v1h-7zM1232 674h1v1h-1zM1225 675h1v1h-1zM1230 675h2v1h-2zM1226 676h2v1h-2zM1229 676h1v1h-1zM1228 677h1v1h-1z" fill="#1e90ff" shape-rendering="crispEdges"/>
<text x="8.50" y="604" font-size="9.5" fill="#000" stroke="#000" stroke-width="0.2" textLength="66.91" lengthAdjust="spacingAndGlyphs">RSI(14) 69.4392</text>
</svg>
<g shape-rendering="crispEdges">
<rect x="1612" y="593" width="2" height="1" fill="#000"/>
<rect x="1612" y="623" width="2" height="1" fill="#000"/>
<rect x="1612" y="664" width="2" height="1" fill="#000"/>
<rect x="1612" y="694" width="2" height="1" fill="#000"/>
</g>
<text x="1615.50" y="602" font-size="10" fill="#000" stroke="#000" stroke-width="0.2" textLength="14.51" lengthAdjust="spacingAndGlyphs">100</text>
<text x="1615.00" y="627" font-size="10" fill="#000" stroke="#000" stroke-width="0.2" textLength="9.00" lengthAdjust="spacingAndGlyphs">70</text>
<text x="1615.00" y="668" font-size="10" fill="#000" stroke="#000" stroke-width="0.2" textLength="9.00" lengthAdjust="spacingAndGlyphs">30</text>
<text x="1614.80" y="692" font-size="10" fill="#000" stroke="#000" stroke-width="0.2" textLength="5.21" lengthAdjust="spacingAndGlyphs">0</text>
<svg x="4" y="698" width="1607" height="102" viewBox="4 698 1607 102" overflow="hidden">
<g shape-rendering="crispEdges">
<rect x="4" y="737" width="1" height="4" fill="#c0c0c0"/>
<rect x="8" y="737" width="1" height="2" fill="#c0c0c0"/>
<rect x="12" y="736" width="1" height="2" fill="#c0c0c0"/>
<rect x="16" y="737" width="1" height="1" fill="#c0c0c0"/>
<rect x="20" y="737" width="1" height="4" fill="#c0c0c0"/>
<rect x="24" y="737" width="1" height="7" fill="#c0c0c0"/>
<rect x="28" y="737" width="1" height="9" fill="#c0c0c0"/>
<rect x="32" y="737" width="1" height="16" fill="#c0c0c0"/>
<rect x="36" y="737" width="1" height="21" fill="#c0c0c0"/>
<rect x="40" y="737" width="1" height="24" fill="#c0c0c0"/>
<rect x="44" y="737" width="1" height="27" fill="#c0c0c0"/>
<rect x="48" y="737" width="1" height="26" fill="#c0c0c0"/>
<rect x="52" y="737" width="1" height="23" fill="#c0c0c0"/>
<rect x="56" y="737" width="1" height="21" fill="#c0c0c0"/>
<rect x="60" y="737" width="1" height="17" fill="#c0c0c0"/>
<rect x="64" y="737" width="1" height="15" fill="#c0c0c0"/>
<rect x="68" y="737" width="1" height="12" fill="#c0c0c0"/>
<rect x="72" y="737" width="1" height="8" fill="#c0c0c0"/>
<rect x="76" y="737" width="1" height="5" fill="#c0c0c0"/>
<rect x="80" y="737" width="1" height="2" fill="#c0c0c0"/>
<rect x="84" y="737" width="1" height="5" fill="#c0c0c0"/>
<rect x="88" y="737" width="1" height="6" fill="#c0c0c0"/>
<rect x="92" y="737" width="1" height="6" fill="#c0c0c0"/>
<rect x="96" y="737" width="1" height="8" fill="#c0c0c0"/>
<rect x="100" y="737" width="1" height="11" fill="#c0c0c0"/>
<rect x="104" y="737" width="1" height="15" fill="#c0c0c0"/>
<rect x="108" y="737" width="1" height="18" fill="#c0c0c0"/>
<rect x="112" y="737" width="1" height="21" fill="#c0c0c0"/>
<rect x="116" y="737" width="1" height="23" fill="#c0c0c0"/>
<rect x="120" y="737" width="1" height="27" fill="#c0c0c0"/>
<rect x="124" y="737" width="1" height="25" fill="#c0c0c0"/>
<rect x="128" y="737" width="1" height="26" fill="#c0c0c0"/>
<rect x="132" y="737" width="1" height="26" fill="#c0c0c0"/>
<rect x="136" y="737" width="1" height="25" fill="#c0c0c0"/>
<rect x="140" y="737" width="1" height="22" fill="#c0c0c0"/>
<rect x="144" y="737" width="1" height="18" fill="#c0c0c0"/>
<rect x="148" y="737" width="1" height="15" fill="#c0c0c0"/>
<rect x="152" y="737" width="1" height="14" fill="#c0c0c0"/>
<rect x="156" y="737" width="1" height="9" fill="#c0c0c0"/>
<rect x="160" y="737" width="1" height="6" fill="#c0c0c0"/>
<rect x="164" y="737" width="1" height="4" fill="#c0c0c0"/>
<rect x="168" y="737" width="1" height="2" fill="#c0c0c0"/>
<rect x="172" y="737" width="1" height="1" fill="#c0c0c0"/>
<rect x="176" y="737" width="1" height="3" fill="#c0c0c0"/>
<rect x="180" y="737" width="1" height="6" fill="#c0c0c0"/>
<rect x="184" y="737" width="1" height="7" fill="#c0c0c0"/>
<rect x="188" y="737" width="1" height="7" fill="#c0c0c0"/>
<rect x="192" y="737" width="1" height="9" fill="#c0c0c0"/>
<rect x="196" y="737" width="1" height="13" fill="#c0c0c0"/>
<rect x="200" y="737" width="1" height="19" fill="#c0c0c0"/>
<rect x="204" y="737" width="1" height="22" fill="#c0c0c0"/>
<rect x="208" y="737" width="1" height="25" fill="#c0c0c0"/>
<rect x="212" y="737" width="1" height="26" fill="#c0c0c0"/>
<rect x="216" y="737" width="1" height="24" fill="#c0c0c0"/>
<rect x="220" y="737" width="1" height="19" fill="#c0c0c0"/>
<rect x="224" y="737" width="1" height="19" fill="#c0c0c0"/>
<rect x="228" y="737" width="1" height="19" fill="#c0c0c0"/>
<rect x="232" y="737" width="1" height="18" fill="#c0c0c0"/>
<rect x="236" y="737" width="1" height="17" fill="#c0c0c0"/>
<rect x="240" y="737" width="1" height="17" fill="#c0c0c0"/>
<rect x="244" y="737" width="1" height="16" fill="#c0c0c0"/>
<rect x="248" y="737" width="1" height="13" fill="#c0c0c0"/>
<rect x="252" y="737" width="1" height="9" fill="#c0c0c0"/>
<rect x="256" y="737" width="1" height="7" fill="#c0c0c0"/>
<rect x="260" y="737" width="1" height="6" fill="#c0c0c0"/>
<rect x="264" y="737" width="1" height="6" fill="#c0c0c0"/>
<rect x="268" y="737" width="1" height="6" fill="#c0c0c0"/>
<rect x="272" y="737" width="1" height="8" fill="#c0c0c0"/>
<rect x="276" y="737" width="1" height="11" fill="#c0c0c0"/>
<rect x="280" y="737" width="1" height="13" fill="#c0c0c0"/>
<rect x="284" y="737" width="1" height="13" fill="#c0c0c0"/>
<rect x="288" y="737" width="1" height="14" fill="#c0c0c0"/>
<rect x="292" y="737" width="1" height="15" fill="#c0c0c0"/>
<rect x="296" y="737" width="1" height="15" fill="#c0c0c0"/>
<rect x="300" y="737" width="1" height="13" fill="#c0c0c0"/>
<rect x="304" y="737" width="1" height="10" fill="#c0c0c0"/>
<rect x="308" y="737" width="1" height="9" fill="#c0c0c0"/>
<rect x="312" y="737" width="1" height="9" fill="#c0c0c0"/>
<rect x="316" y="737" width="1" height="12" fill="#c0c0c0"/>
<rect x="320" y="737" width="1" height="14" fill="#c0c0c0"/>
<rect x="324" y="737" width="1" height="14" fill="#c0c0c0"/>
<rect x="328" y="737" width="1" height="13" fill="#c0c0c0"/>
<rect x="332" y="737" width="1" height="10" fill="#c0c0c0"/>
<rect x="336" y="737" width="1" height="5" fill="#c0c0c0"/>
<rect x="340" y="737" width="1" height="1" fill="#c0c0c0"/>
<rect x="344" y="731" width="1" height="7" fill="#c0c0c0"/>
<rect x="348" y="724" width="1" height="14" fill="#c0c0c0"/>
<rect x="352" y="717" width="1" height="21" fill="#c0c0c0"/>
<rect x="356" y="715" width="1" height="23" fill="#c0c0c0"/>
<rect x="360" y="712" width="1" height="26" fill="#c0c0c0"/>
<rect x="364" y="711" width="1" height="27" fill="#c0c0c0"/>
<rect x="368" y="713" width="1" height="25" fill="#c0c0c0"/>
<rect x="372" y="718" width="1" height="20" fill="#c0c0c0"/>
<rect x="376" y="723" width="1" height="15" fill="#c0c0c0"/>
<rect x="380" y="726" width="1" height="12" fill="#c0c0c0"/>
<rect x="384" y="730" width="1" height="8" fill="#c0c0c0"/>
<rect x="388" y="733" width="1" height="5" fill="#c0c0c0"/>
<rect x="392" y="730" width="1" height="8" fill="#c0c0c0"/>
<rect x="396" y="725" width="1" height="13" fill="#c0c0c0"/>
<rect x="400" y="719" width="1" height="19" fill="#c0c0c0"/>
<rect x="404" y="713" width="1" height="25" fill="#c0c0c0"/>
<rect x="408" y="709" width="1" height="29" fill="#c0c0c0"/>
<rect x="412" y="705" width="1" height="33" fill="#c0c0c0"/>
<rect x="416" y="704" width="1" height="34" fill="#c0c0c0"/>
<rect x="420" y="704" width="1" height="34" fill="#c0c0c0"/>
<rect x="424" y="703" width="1" height="35" fill="#c0c0c0"/>
<rect x="428" y="708" width="1" height="30" fill="#c0c0c0"/>
<rect x="432" y="713" width="1" height="25" fill="#c0c0c0"/>
<rect x="436" y="718" width="1" height="20" fill="#c0c0c0"/>
<rect x="440" y="722" width="1" height="16" fill="#c0c0c0"/>
<rect x="444" y="730" width="1" height="8" fill="#c0c0c0"/>
<rect x="448" y="735" width="1" height="3" fill="#c0c0c0"/>
<rect x="452" y="737" width="1" height="5" fill="#c0c0c0"/>
<rect x="456" y="737" width="1" height="9" fill="#c0c0c0"/>
<rect x="460" y="737" width="1" height="9" fill="#c0c0c0"/>
<rect x="464" y="737" width="1" height="8" fill="#c0c0c0"/>
<rect x="468" y="737" width="1" height="8" fill="#c0c0c0"/>
<rect x="472" y="737" width="1" height="7" fill="#c0c0c0"/>
<rect x="476" y="737" width="1" height="8" fill="#c0c0c0"/>
<rect x="480" y="737" width="1" height="10" fill="#c0c0c0"/>
<rect x="484" y="737" width="1" height="11" fill="#c0c0c0"/>
<rect x="488" y="737" width="1" height="12" fill="#c0c0c0"/>
<rect x="492" y="737" width="1" height="13" fill="#c0c0c0"/>
<rect x="496" y="737" width="1" height="14" fill="#c0c0c0"/>
<rect x="500" y="737" width="1" height="14" fill="#c0c0c0"/>
<rect x="504" y="737" width="1" height="19" fill="#c0c0c0"/>
<rect x="508" y="737" width="1" height="23" fill="#c0c0c0"/>
<rect x="512" y="737" width="1" height="25" fill="#c0c0c0"/>
<rect x="516" y="737" width="1" height="28" fill="#c0c0c0"/>
<rect x="520" y="737" width="1" height="30" fill="#c0c0c0"/>
<rect x="524" y="737" width="1" height="31" fill="#c0c0c0"/>
<rect x="528" y="737" width="1" height="30" fill="#c0c0c0"/>
<rect x="532" y="737" width="1" height="31" fill="#c0c0c0"/>
<rect x="536" y="737" width="1" height="35" fill="#c0c0c0"/>
<rect x="540" y="737" width="1" height="35" fill="#c0c0c0"/>
<rect x="544" y="737" width="1" height="35" fill="#c0c0c0"/>
<rect x="548" y="737" width="1" height="29" fill="#c0c0c0"/>
<rect x="552" y="737" width="1" height="24" fill="#c0c0c0"/>
<rect x="556" y="737" width="1" height="17" fill="#c0c0c0"/>
<rect x="560" y="737" width="1" height="14" fill="#c0c0c0"/>
<rect x="564" y="737" width="1" height="10" fill="#c0c0c0"/>
<rect x="568" y="737" width="1" height="7" fill="#c0c0c0"/>
<rect x="572" y="737" width="1" height="5" fill="#c0c0c0"/>
<rect x="576" y="737" width="1" height="5" fill="#c0c0c0"/>
<rect x="580" y="737" width="1" height="7" fill="#c0c0c0"/>
<rect x="584" y="737" width="1" height="13" fill="#c0c0c0"/>
<rect x="588" y="737" width="1" height="17" fill="#c0c0c0"/>
<rect x="592" y="737" width="1" height="19" fill="#c0c0c0"/>
<rect x="596" y="737" width="1" height="21" fill="#c0c0c0"/>
<rect x="600" y="737" width="1" height="23" fill="#c0c0c0"/>
<rect x="604" y="737" width="1" height="23" fill="#c0c0c0"/>
<rect x="608" y="737" width="1" height="24" fill="#c0c0c0"/>
<rect x="612" y="737" width="1" height="21" fill="#c0c0c0"/>
<rect x="616" y="737" width="1" height="17" fill="#c0c0c0"/>
<rect x="620" y="737" width="1" height="17" fill="#c0c0c0"/>
<rect x="624" y="737" width="1" height="18" fill="#c0c0c0"/>
<rect x="628" y="737" width="1" height="19" fill="#c0c0c0"/>
<rect x="632" y="737" width="1" height="22" fill="#c0c0c0"/>
<rect x="636" y="737" width="1" height="28" fill="#c0c0c0"/>
<rect x="640" y="737" width="1" height="33" fill="#c0c0c0"/>
<rect x="644" y="737" width="1" height="37" fill="#c0c0c0"/>
<rect x="648" y="737" width="1" height="40" fill="#c0c0c0"/>
<rect x="652" y="737" width="1" height="39" fill="#c0c0c0"/>
<rect x="656" y="737" width="1" height="36" fill="#c0c0c0"/>
<rect x="660" y="737" width="1" height="33" fill="#c0c0c0"/>
<rect x="664" y="737" width="1" height="32" fill="#c0c0c0"/>
<rect x="668" y="737" width="1" height="28" fill="#c0c0c0"/>
<rect x="672" y="737" width="1" height="26" fill="#c0c0c0"/>
<rect x="676" y="737" width="1" height="27" fill="#c0c0c0"/>
<rect x="680" y="737" width="1" height="22" fill="#c0c0c0"/>
<rect x="684" y="737" width="1" height="19" fill="#c0c0c0"/>
<rect x="688" y="737" width="1" height="16" fill="#c0c0c0"/>
<rect x="692" y="737" width="1" height="18" fill="#c0c0c0"/>
<rect x="696" y="737" width="1" height="15" fill="#c0c0c0"/>
<rect x="700" y="737" width="1" height="15" fill="#c0c0c0"/>
<rect x="704" y="737" width="1" height="13" fill="#c0c0c0"/>
<rect x="708" y="737" width="1" height="15" fill="#c0c0c0"/>
<rect x="712" y="737" width="1" height="16" fill="#c0c0c0"/>
<rect x="716" y="737" width="1" height="18" fill="#c0c0c0"/>
<rect x="720" y="737" width="1" height="18" fill="#c0c0c0"/>
<rect x="724" y="737" width="1" height="22" fill="#c0c0c0"/>
<rect x="728" y="737" width="1" height="25" fill="#c0c0c0"/>
<rect x="732" y="737" width="1" height="27" fill="#c0c0c0"/>
<rect x="736" y="737" width="1" height="29" fill="#c0c0c0"/>
<rect x="740" y="737" width="1" height="32" fill="#c0c0c0"/>
<rect x="744" y="737" width="1" height="32" fill="#c0c0c0"/>
<rect x="748" y="737" width="1" height="31" fill="#c0c0c0"/>
<rect x="752" y="737" width="1" height="27" fill="#c0c0c0"/>
<rect x="756" y="737" width="1" height="25" fill="#c0c0c0"/>
<rect x="760" y="737" width="1" height="22" fill="#c0c0c0"/>
<rect x="764" y="737" width="1" height="20" fill="#c0c0c0"/>
<rect x="768" y="737" width="1" height="20" fill="#c0c0c0"/>
<rect x="772" y="737" width="1" height="18" fill="#c0c0c0"/>
<rect x="776" y="737" width="1" height="14" fill="#c0c0c0"/>
<rect x="780" y="737" width="1" height="9" fill="#c0c0c0"/>
<rect x="784" y="737" width="1" height="5" fill="#c0c0c0"/>
<rect x="788" y="737" width="1" height="2" fill="#c0c0c0"/>
<rect x="792" y="736" width="1" height="2" fill="#c0c0c0"/>
<rect x="796" y="732" width="1" height="6" fill="#c0c0c0"/>
<rect x="800" y="725" width="1" height="13" fill="#c0c0c0"/>
<rect x="804" y="718" width="1" height="20" fill="#c0c0c0"/>
<rect x="808" y="712" width="1" height="26" fill="#c0c0c0"/>
<rect x="812" y="709" width="1" height="29" fill="#c0c0c0"/>
<rect x="816" y="708" width="1" height="30" fill="#c0c0c0"/>
<rect x="820" y="708" width="1" height="30" fill="#c0c0c0"/>
<rect x="824" y="710" width="1" height="28" fill="#c0c0c0"/>
<rect x="828" y="713" width="1" height="25" fill="#c0c0c0"/>
<rect x="832" y="715" width="1" height="23" fill="#c0c0c0"/>
<rect x="836" y="717" width="1" height="21" fill="#c0c0c0"/>
<rect x="840" y="717" width="1" height="21" fill="#c0c0c0"/>
<rect x="844" y="717" width="1" height="21" fill="#c0c0c0"/>
<rect x="848" y="714" width="1" height="24" fill="#c0c0c0"/>
<rect x="852" y="712" width="1" height="26" fill="#c0c0c0"/>
<rect x="856" y="711" width="1" height="27" fill="#c0c0c0"/>
<rect x="860" y="711" width="1" height="27" fill="#c0c0c0"/>
<rect x="864" y="717" width="1" height="21" fill="#c0c0c0"/>
<rect x="868" y="721" width="1" height="17" fill="#c0c0c0"/>
<rect x="872" y="727" width="1" height="11" fill="#c0c0c0"/>
<rect x="876" y="733" width="1" height="5" fill="#c0c0c0"/>
<rect x="880" y="737" width="1" height="2" fill="#c0c0c0"/>
<rect x="884" y="737" width="1" height="5" fill="#c0c0c0"/>
<rect x="888" y="737" width="1" height="8" fill="#c0c0c0"/>
<rect x="892" y="737" width="1" height="11" fill="#c0c0c0"/>
<rect x="896" y="737" width="1" height="14" fill="#c0c0c0"/>
<rect x="900" y="737" width="1" height="13" fill="#c0c0c0"/>
<rect x="904" y="737" width="1" height="11" fill="#c0c0c0"/>
<rect x="908" y="737" width="1" height="9" fill="#c0c0c0"/>
<rect x="912" y="737" width="1" height="6" fill="#c0c0c0"/>
<rect x="916" y="737" width="1" height="5" fill="#c0c0c0"/>
<rect x="920" y="737" width="1" height="4" fill="#c0c0c0"/>
<rect x="924" y="737" width="1" height="5" fill="#c0c0c0"/>
<rect x="928" y="737" width="1" height="7" fill="#c0c0c0"/>
<rect x="932" y="737" width="1" height="10" fill="#c0c0c0"/>
<rect x="936" y="737" width="1" height="11" fill="#c0c0c0"/>
<rect x="940" y="737" width="1" height="13" fill="#c0c0c0"/>
<rect x="944" y="737" width="1" height="14" fill="#c0c0c0"/>
<rect x="948" y="737" width="1" height="14" fill="#c0c0c0"/>
<rect x="952" y="737" width="1" height="14" fill="#c0c0c0"/>
<rect x="956" y="737" width="1" height="10" fill="#c0c0c0"/>
<rect x="960" y="737" width="1" height="6" fill="#c0c0c0"/>
<rect x="964" y="737" width="1" height="3" fill="#c0c0c0"/>
<rect x="968" y="736" width="1" height="2" fill="#c0c0c0"/>
<rect x="972" y="737" width="1" height="1" fill="#c0c0c0"/>
<rect x="976" y="737" width="1" height="1" fill="#c0c0c0"/>
<rect x="980" y="736" width="1" height="2" fill="#c0c0c0"/>
<rect x="984" y="734" width="1" height="4" fill="#c0c0c0"/>
<rect x="988" y="733" width="1" height="5" fill="#c0c0c0"/>
<rect x="992" y="730" width="1" height="8" fill="#c0c0c0"/>
<rect x="996" y="726" width="1" height="12" fill="#c0c0c0"/>
<rect x="1000" y="725" width="1" height="13" fill="#c0c0c0"/>
<rect x="1004" y="722" width="1" height="16" fill="#c0c0c0"/>
<rect x="1008" y="720" width="1" height="18" fill="#c0c0c0"/>
<rect x="1012" y="719" width="1" height="19" fill="#c0c0c0"/>
<rect x="1016" y="720" width="1" height="18" fill="#c0c0c0"/>
<rect x="1020" y="723" width="1" height="15" fill="#c0c0c0"/>
<rect x="1024" y="726" width="1" height="12" fill="#c0c0c0"/>
<rect x="1028" y="728" width="1" height="10" fill="#c0c0c0"/>
<rect x="1032" y="729" width="1" height="9" fill="#c0c0c0"/>
<rect x="1036" y="731" width="1" height="7" fill="#c0c0c0"/>
<rect x="1040" y="731" width="1" height="7" fill="#c0c0c0"/>
<rect x="1044" y="727" width="1" height="11" fill="#c0c0c0"/>
<rect x="1048" y="723" width="1" height="15" fill="#c0c0c0"/>
<rect x="1052" y="719" width="1" height="19" fill="#c0c0c0"/>
<rect x="1056" y="714" width="1" height="24" fill="#c0c0c0"/>
<rect x="1060" y="711" width="1" height="27" fill="#c0c0c0"/>
<rect x="1064" y="710" width="1" height="28" fill="#c0c0c0"/>
<rect x="1068" y="712" width="1" height="26" fill="#c0c0c0"/>
<rect x="1072" y="714" width="1" height="24" fill="#c0c0c0"/>
<rect x="1076" y="714" width="1" height="24" fill="#c0c0c0"/>
<rect x="1080" y="717" width="1" height="21" fill="#c0c0c0"/>
<rect x="1084" y="722" width="1" height="16" fill="#c0c0c0"/>
<rect x="1088" y="726" width="1" height="12" fill="#c0c0c0"/>
<rect x="1092" y="729" width="1" height="9" fill="#c0c0c0"/>
<rect x="1096" y="731" width="1" height="7" fill="#c0c0c0"/>
<rect x="1100" y="732" width="1" height="6" fill="#c0c0c0"/>
<rect x="1104" y="734" width="1" height="4" fill="#c0c0c0"/>
<rect x="1108" y="733" width="1" height="5" fill="#c0c0c0"/>
<rect x="1112" y="734" width="1" height="4" fill="#c0c0c0"/>
<rect x="1116" y="737" width="1" height="1" fill="#c0c0c0"/>
<rect x="1120" y="737" width="1" height="3" fill="#c0c0c0"/>
<rect x="1124" y="737" width="1" height="6" fill="#c0c0c0"/>
<rect x="1128" y="737" width="1" height="7" fill="#c0c0c0"/>
<rect x="1132" y="737" width="1" height="9" fill="#c0c0c0"/>
<rect x="1136" y="737" width="1" height="13" fill="#c0c0c0"/>
<rect x="1140" y="737" width="1" height="17" fill="#c0c0c0"/>
<rect x="1144" y="737" width="1" height="19" fill="#c0c0c0"/>
<rect x="1148" y="737" width="1" height="22" fill="#c0c0c0"/>
<rect x="1152" y="737" width="1" height="25" fill="#c0c0c0"/>
<rect x="1156" y="737" width="1" height="27" fill="#c0c0c0"/>
<rect x="1160" y="737" width="1" height="26" fill="#c0c0c0"/>
<rect x="1164" y="737" width="1" height="22" fill="#c0c0c0"/>
<rect x="1168" y="737" width="1" height="18" fill="#c0c0c0"/>
<rect x="1172" y="737" width="1" height="17" fill="#c0c0c0"/>
<rect x="1176" y="737" width="1" height="17" fill="#c0c0c0"/>
<rect x="1180" y="737" width="1" height="20" fill="#c0c0c0"/>
<rect x="1184" y="737" width="1" height="23" fill="#c0c0c0"/>
<rect x="1188" y="737" width="1" height="26" fill="#c0c0c0"/>
<rect x="1192" y="737" width="1" height="29" fill="#c0c0c0"/>
<rect x="1196" y="737" width="1" height="33" fill="#c0c0c0"/>
<rect x="1200" y="737" width="1" height="36" fill="#c0c0c0"/>
<rect x="1204" y="737" width="1" height="39" fill="#c0c0c0"/>
<rect x="1208" y="737" width="1" height="45" fill="#c0c0c0"/>
<rect x="1212" y="737" width="1" height="48" fill="#c0c0c0"/>
<rect x="1216" y="737" width="1" height="51" fill="#c0c0c0"/>
<rect x="1220" y="737" width="1" height="54" fill="#c0c0c0"/>
<rect x="1224" y="737" width="1" height="55" fill="#c0c0c0"/>
<rect x="1228" y="737" width="1" height="58" fill="#c0c0c0"/>
<rect x="1232" y="737" width="1" height="59" fill="#c0c0c0"/>
<rect x="1236" y="737" width="1" height="55" fill="#c0c0c0"/>
<rect x="1240" y="737" width="1" height="52" fill="#c0c0c0"/>
<rect x="1244" y="737" width="1" height="49" fill="#c0c0c0"/>
<rect x="1248" y="737" width="1" height="45" fill="#c0c0c0"/>
<rect x="1252" y="737" width="1" height="42" fill="#c0c0c0"/>
<rect x="1256" y="737" width="1" height="31" fill="#c0c0c0"/>
<rect x="1260" y="737" width="1" height="22" fill="#c0c0c0"/>
<rect x="1264" y="737" width="1" height="12" fill="#c0c0c0"/>
<rect x="1268" y="733" width="1" height="5" fill="#c0c0c0"/>
<rect x="1272" y="719" width="1" height="19" fill="#c0c0c0"/>
<rect x="1276" y="710" width="1" height="28" fill="#c0c0c0"/>
<rect x="1280" y="704" width="1" height="34" fill="#c0c0c0"/>
</g>
<path d="M431 708h1v1h-1zM435 708h3v1h-3zM429 709h2v1h-2zM441 710h1v1h-1zM425 711h1v1h-1zM442 711h2v1h-2zM424 712h1v1h-1zM835 712h3v1h-3zM841 712h3v1h-3zM423 713h1v1h-1zM830 713h2v1h-2zM847 713h3v1h-3zM853 713h1v1h-1zM447 714h1v1h-1zM829 714h1v1h-1zM854 714h2v1h-2zM859 714h3v1h-3zM865 714h1v1h-1zM1080 714h3v1h-3zM448 715h1v1h-1zM866 715h2v1h-2zM1086 715h3v1h-3zM418 716h2v1h-2zM449 716h1v1h-1zM825 716h1v1h-1zM871 716h2v1h-2zM1074 716h3v1h-3zM381 717h1v1h-1zM417 717h1v1h-1zM824 717h1v1h-1zM873 717h1v1h-1zM1092 717h1v1h-1zM375 718h3v1h-3zM382 718h2v1h-2zM823 718h1v1h-1zM1069 718h2v1h-2zM1093 718h2v1h-2zM877 719h2v1h-2zM1068 719h1v1h-1zM370 720h2v1h-2zM387 720h3v1h-3zM413 720h1v1h-1zM453 720h1v1h-1zM879 720h1v1h-1zM1098 720h1v1h-1zM369 721h1v1h-1zM411 721h2v1h-2zM454 721h1v1h-1zM819 721h1v1h-1zM1063 721h2v1h-2zM1099 721h2v1h-2zM393 722h2v1h-2zM455 722h1v1h-1zM818 722h1v1h-1zM883 722h1v1h-1zM1062 722h1v1h-1zM395 723h1v1h-1zM406 723h2v1h-2zM817 723h1v1h-1zM884 723h1v1h-1zM1022 723h1v1h-1zM1026 723h3v1h-3zM1032 723h2v1h-2zM365 724h1v1h-1zM399 724h3v1h-3zM405 724h1v1h-1zM885 724h1v1h-1zM1020 724h2v1h-2zM1034 724h1v1h-1zM1057 724h2v1h-2zM1104 724h1v1h-1zM364 725h1v1h-1zM1015 725h2v1h-2zM1038 725h3v1h-3zM1056 725h1v1h-1zM1105 725h2v1h-2zM363 726h1v1h-1zM458 726h1v1h-1zM1014 726h1v1h-1zM1044 726h3v1h-3zM1050 726h3v1h-3zM459 727h1v1h-1zM813 727h1v1h-1zM889 727h1v1h-1zM1110 727h1v1h-1zM460 728h1v1h-1zM812 728h1v1h-1zM890 728h1v1h-1zM1009 728h2v1h-2zM1111 728h2v1h-2zM811 729h1v1h-1zM891 729h1v1h-1zM1008 729h1v1h-1zM360 730h1v1h-1zM1003 730h2v1h-2zM1116 730h1v1h-1zM359 731h1v1h-1zM1002 731h1v1h-1zM1117 731h2v1h-2zM358 732h1v1h-1zM464 732h1v1h-1zM998 732h1v1h-1zM465 733h1v1h-1zM807 733h1v1h-1zM894 733h1v1h-1zM996 733h2v1h-2zM1122 733h1v1h-1zM466 734h1v1h-1zM806 734h1v1h-1zM895 734h1v1h-1zM1123 734h2v1h-2zM806 735h1v1h-1zM896 735h1v1h-1zM991 735h2v1h-2zM354 736h1v1h-1zM990 736h1v1h-1zM1128 736h2v1h-2zM353 737h1v1h-1zM470 737h1v1h-1zM1130 737h1v1h-1zM352 738h1v1h-1zM471 738h2v1h-2zM900 738h1v1h-1zM985 738h2v1h-2zM1134 738h1v1h-1zM802 739h1v1h-1zM901 739h1v1h-1zM984 739h1v1h-1zM1135 739h2v1h-2zM186 740h1v1h-1zM190 740h3v1h-3zM801 740h1v1h-1zM902 740h1v1h-1zM184 741h2v1h-2zM196 741h1v1h-1zM348 741h1v1h-1zM476 741h1v1h-1zM800 741h1v1h-1zM978 741h3v1h-3zM1140 741h1v1h-1zM28 742h3v1h-3zM34 742h3v1h-3zM178 742h3v1h-3zM197 742h2v1h-2zM346 742h2v1h-2zM477 742h2v1h-2zM906 742h1v1h-1zM1141 742h1v1h-1zM94 743h3v1h-3zM100 743h3v1h-3zM907 743h2v1h-2zM930 743h3v1h-3zM936 743h3v1h-3zM973 743h2v1h-2zM1142 743h1v1h-1zM22 744h3v1h-3zM106 744h3v1h-3zM174 744h1v1h-1zM202 744h1v1h-1zM280 744h3v1h-3zM342 744h1v1h-1zM482 744h3v1h-3zM912 744h2v1h-2zM918 744h3v1h-3zM924 744h3v1h-3zM942 744h3v1h-3zM972 744h1v1h-1zM1280 744h1v1h-1zM40 745h1v1h-1zM89 745h2v1h-2zM173 745h1v1h-1zM203 745h2v1h-2zM270 745h1v1h-1zM274 745h3v1h-3zM286 745h3v1h-3zM340 745h2v1h-2zM488 745h3v1h-3zM796 745h1v1h-1zM914 745h1v1h-1zM948 745h2v1h-2zM966 745h3v1h-3zM1146 745h1v1h-1zM1280 745h1v1h-1zM17 746h2v1h-2zM41 746h1v1h-1zM88 746h1v1h-1zM112 746h1v1h-1zM172 746h1v1h-1zM268 746h2v1h-2zM292 746h2v1h-2zM334 746h3v1h-3zM494 746h3v1h-3zM500 746h1v1h-1zM586 746h1v1h-1zM590 746h3v1h-3zM794 746h2v1h-2zM950 746h1v1h-1zM954 746h3v1h-3zM960 746h3v1h-3zM1147 746h2v1h-2zM16 747h1v1h-1zM42 747h1v1h-1zM113 747h2v1h-2zM294 747h1v1h-1zM330 747h1v1h-1zM501 747h2v1h-2zM584 747h2v1h-2zM596 747h2v1h-2zM83 748h2v1h-2zM168 748h1v1h-1zM208 748h1v1h-1zM262 748h3v1h-3zM298 748h3v1h-3zM304 748h3v1h-3zM310 748h3v1h-3zM316 748h3v1h-3zM322 748h3v1h-3zM328 748h2v1h-2zM580 748h1v1h-1zM598 748h1v1h-1zM12 749h1v1h-1zM82 749h1v1h-1zM118 749h1v1h-1zM166 749h2v1h-2zM209 749h2v1h-2zM506 749h3v1h-3zM579 749h1v1h-1zM602 749h1v1h-1zM789 749h2v1h-2zM1152 749h1v1h-1zM1278 749h1v1h-1zM10 750h2v1h-2zM46 750h2v1h-2zM119 750h2v1h-2zM257 750h2v1h-2zM578 750h1v1h-1zM603 750h2v1h-2zM788 750h1v1h-1zM1153 750h1v1h-1zM1277 750h1v1h-1zM48 751h1v1h-1zM78 751h1v1h-1zM214 751h1v1h-1zM256 751h1v1h-1zM512 751h1v1h-1zM1154 751h1v1h-1zM1277 751h1v1h-1zM77 752h1v1h-1zM161 752h2v1h-2zM215 752h2v1h-2zM251 752h2v1h-2zM513 752h2v1h-2zM608 752h1v1h-1zM710 752h3v1h-3zM716 752h3v1h-3zM722 752h3v1h-3zM5 753h2v1h-2zM52 753h1v1h-1zM76 753h1v1h-1zM124 753h1v1h-1zM160 753h1v1h-1zM250 753h1v1h-1zM574 753h1v1h-1zM609 753h2v1h-2zM728 753h2v1h-2zM784 753h1v1h-1zM1158 753h1v1h-1zM4 754h1v1h-1zM53 754h2v1h-2zM125 754h2v1h-2zM220 754h2v1h-2zM246 754h1v1h-1zM518 754h1v1h-1zM573 754h1v1h-1zM705 754h2v1h-2zM730 754h1v1h-1zM782 754h2v1h-2zM1159 754h2v1h-2zM70 755h3v1h-3zM222 755h1v1h-1zM244 755h2v1h-2zM519 755h2v1h-2zM572 755h1v1h-1zM614 755h3v1h-3zM704 755h1v1h-1zM734 755h1v1h-1zM1164 755h2v1h-2zM1275 755h1v1h-1zM58 756h3v1h-3zM66 756h1v1h-1zM130 756h1v1h-1zM154 756h3v1h-3zM226 756h3v1h-3zM238 756h3v1h-3zM620 756h3v1h-3zM626 756h3v1h-3zM632 756h2v1h-2zM699 756h2v1h-2zM735 756h2v1h-2zM1166 756h1v1h-1zM1275 756h1v1h-1zM64 757h2v1h-2zM131 757h2v1h-2zM232 757h3v1h-3zM524 757h1v1h-1zM634 757h1v1h-1zM698 757h1v1h-1zM778 757h1v1h-1zM1170 757h3v1h-3zM1176 757h3v1h-3zM1182 757h3v1h-3zM1188 757h2v1h-2zM1274 757h1v1h-1zM136 758h2v1h-2zM149 758h2v1h-2zM525 758h2v1h-2zM568 758h1v1h-1zM638 758h3v1h-3zM740 758h1v1h-1zM777 758h1v1h-1zM1190 758h1v1h-1zM1194 758h3v1h-3zM138 759h1v1h-1zM142 759h3v1h-3zM148 759h1v1h-1zM566 759h2v1h-2zM644 759h1v1h-1zM693 759h2v1h-2zM741 759h2v1h-2zM776 759h1v1h-1zM530 760h1v1h-1zM645 760h2v1h-2zM692 760h1v1h-1zM1200 760h1v1h-1zM531 761h2v1h-2zM746 761h1v1h-1zM770 761h3v1h-3zM1201 761h2v1h-2zM1272 761h1v1h-1zM561 762h2v1h-2zM688 762h1v1h-1zM747 762h2v1h-2zM766 762h1v1h-1zM1272 762h1v1h-1zM536 763h1v1h-1zM560 763h1v1h-1zM650 763h2v1h-2zM686 763h2v1h-2zM752 763h3v1h-3zM758 763h3v1h-3zM764 763h2v1h-2zM1271 763h1v1h-1zM537 764h2v1h-2zM652 764h1v1h-1zM1206 764h2v1h-2zM555 765h2v1h-2zM1208 765h1v1h-1zM542 766h1v1h-1zM554 766h1v1h-1zM656 766h2v1h-2zM681 766h2v1h-2zM543 767h2v1h-2zM548 767h3v1h-3zM658 767h1v1h-1zM680 767h1v1h-1zM1269 767h1v1h-1zM662 768h1v1h-1zM1269 768h1v1h-1zM663 769h2v1h-2zM670 769h1v1h-1zM674 769h3v1h-3zM1212 769h1v1h-1zM1268 769h1v1h-1zM668 770h2v1h-2zM1213 770h1v1h-1zM1214 771h1v1h-1zM1266 773h1v1h-1zM1218 774h1v1h-1zM1265 774h1v1h-1zM1219 775h1v1h-1zM1265 775h1v1h-1zM1220 776h1v1h-1zM1224 779h1v1h-1zM1262 779h1v1h-1zM1225 780h1v1h-1zM1261 780h1v1h-1zM1226 781h1v1h-1zM1260 781h1v1h-1zM1230 784h2v1h-2zM1232 785h1v1h-1zM1255 785h2v1h-2zM1254 786h1v1h-1zM1236 787h2v1h-2zM1238 788h1v1h-1zM1249 788h2v1h-2zM1242 789h3v1h-3zM1248 789h1v1h-1z" fill="#ff0000" shape-rendering="crispEdges"/>
<text x="8.50" y="711" font-size="9.5" fill="#000" stroke="#000" stroke-width="0.2" textLength="150.01" lengthAdjust="spacingAndGlyphs">MACD(12,26,9) 0.004121 -0.000807</text>
</svg>
<g shape-rendering="crispEdges">
<rect x="1612" y="699" width="2" height="1" fill="#000"/>
<rect x="1612" y="737" width="2" height="1" fill="#000"/>
<rect x="1612" y="799" width="2" height="1" fill="#000"/>
</g>
<text x="1615.00" y="709" font-size="10" fill="#000" stroke="#000" stroke-width="0.2" textLength="38.79" lengthAdjust="spacingAndGlyphs">0.004738</text>
<text x="1615.10" y="741" font-size="10" fill="#000" stroke="#000" stroke-width="0.2" textLength="17.79" lengthAdjust="spacingAndGlyphs">0.00</text>
<text x="1615.00" y="797" font-size="10" fill="#000" stroke="#000" stroke-width="0.2" textLength="41.89" lengthAdjust="spacingAndGlyphs">-0.007584</text>
<g shape-rendering="crispEdges">
<rect x="4" y="801" width="1" height="3" fill="#000"/>
<rect x="68" y="801" width="1" height="3" fill="#000"/>
<rect x="132" y="801" width="1" height="3" fill="#000"/>
<rect x="196" y="801" width="1" height="3" fill="#000"/>
<rect x="260" y="801" width="1" height="3" fill="#000"/>
<rect x="324" y="801" width="1" height="3" fill="#000"/>
<rect x="388" y="801" width="1" height="3" fill="#000"/>
<rect x="452" y="801" width="1" height="3" fill="#000"/>
<rect x="516" y="801" width="1" height="3" fill="#000"/>
<rect x="580" y="801" width="1" height="3" fill="#000"/>
<rect x="644" y="801" width="1" height="3" fill="#000"/>
<rect x="708" y="801" width="1" height="3" fill="#000"/>
<rect x="772" y="801" width="1" height="3" fill="#000"/>
<rect x="836" y="801" width="1" height="3" fill="#000"/>
<rect x="900" y="801" width="1" height="3" fill="#000"/>
<rect x="964" y="801" width="1" height="3" fill="#000"/>
<rect x="1028" y="801" width="1" height="3" fill="#000"/>
<rect x="1092" y="801" width="1" height="3" fill="#000"/>
<rect x="1156" y="801" width="1" height="3" fill="#000"/>
<rect x="1220" y="801" width="1" height="3" fill="#000"/>
</g>
<text x="3.10" y="813" font-size="10" fill="#000" stroke="#000" stroke-width="0.2" textLength="51.61" lengthAdjust="spacingAndGlyphs">27 Feb 2019</text>
<text x="67.70" y="813" font-size="10" fill="#000" stroke="#000" stroke-width="0.2" textLength="51.50" lengthAdjust="spacingAndGlyphs">18 Mar 2019</text>
<text x="131.30" y="813" font-size="10" fill="#000" stroke="#000" stroke-width="0.2" textLength="45.40" lengthAdjust="spacingAndGlyphs">5 Apr 2019</text>
<text x="195.40" y="813" font-size="10" fill="#000" stroke="#000" stroke-width="0.2" textLength="50.29" lengthAdjust="spacingAndGlyphs">24 Apr 2019</text>
<text x="259.50" y="813" font-size="10" fill="#000" stroke="#000" stroke-width="0.2" textLength="54.39" lengthAdjust="spacingAndGlyphs">13 May 2019</text>
<text x="323.00" y="813" font-size="10" fill="#000" stroke="#000" stroke-width="0.2" textLength="54.89" lengthAdjust="spacingAndGlyphs">31 May 2019</text>
<text x="387.80" y="813" font-size="10" fill="#000" stroke="#000" stroke-width="0.2" textLength="48.90" lengthAdjust="spacingAndGlyphs">19 Jun 2019</text>
<text x="450.90" y="813" font-size="10" fill="#000" stroke="#000" stroke-width="0.2" textLength="41.70" lengthAdjust="spacingAndGlyphs">8 Jul 2019</text>
<text x="515.30" y="813" font-size="10" fill="#000" stroke="#000" stroke-width="0.2" textLength="46.31" lengthAdjust="spacingAndGlyphs">26 Jul 2019</text>
<text x="579.40" y="813" font-size="10" fill="#000" stroke="#000" stroke-width="0.2" textLength="52.09" lengthAdjust="spacingAndGlyphs">14 Aug 2019</text>
<text x="643.00" y="813" font-size="10" fill="#000" stroke="#000" stroke-width="0.2" textLength="47.01" lengthAdjust="spacingAndGlyphs">2 Sep 2019</text>
<text x="706.90" y="813" font-size="10" fill="#000" stroke="#000" stroke-width="0.2" textLength="51.80" lengthAdjust="spacingAndGlyphs">20 Sep 2019</text>
<text x="770.80" y="813" font-size="10" fill="#000" stroke="#000" stroke-width="0.2" textLength="46.00" lengthAdjust="spacingAndGlyphs">9 Oct 2019</text>
<text x="834.90" y="813" font-size="10" fill="#000" stroke="#000" stroke-width="0.2" textLength="50.91" lengthAdjust="spacingAndGlyphs">28 Oct 2019</text>
<text x="899.40" y="813" font-size="10" fill="#000" stroke="#000" stroke-width="0.2" textLength="53.41" lengthAdjust="spacingAndGlyphs">15 Nov 2019</text>
<text x="963.30" y="813" font-size="10" fill="#000" stroke="#000" stroke-width="0.2" textLength="46.70" lengthAdjust="spacingAndGlyphs">4 Dec 2019</text>
<text x="1027.20" y="813" font-size="10" fill="#000" stroke="#000" stroke-width="0.2" textLength="51.81" lengthAdjust="spacingAndGlyphs">23 Dec 2019</text>
<text x="1091.30" y="813" font-size="10" fill="#000" stroke="#000" stroke-width="0.2" textLength="49.40" lengthAdjust="spacingAndGlyphs">10 Jan 2020</text>
<text x="1154.90" y="813" font-size="10" fill="#000" stroke="#000" stroke-width="0.2" textLength="49.90" lengthAdjust="spacingAndGlyphs">29 Jan 2020</text>
<text x="1219.40" y="813" font-size="10" fill="#000" stroke="#000" stroke-width="0.2" textLength="51.21" lengthAdjust="spacingAndGlyphs">17 Feb 2020</text>
<g shape-rendering="crispEdges">
<rect x="0" y="821" width="1652" height="1" fill="#e3e3e3"/>
<rect x="0" y="822" width="1652" height="1" fill="#ffffff"/>
<rect x="0" y="823" width="1652" height="1" fill="#000000"/>
<rect x="0" y="824" width="1652" height="21" fill="#f0f0f0"/>
<rect x="1" y="824" width="4" height="18" fill="#e8e8e8"/>
<rect x="0" y="823" width="1" height="19" fill="#696969"/>
<rect x="5" y="823" width="104" height="19" fill="#000000"/>
<rect x="6" y="823" width="102" height="18" fill="#ffffff"/>
</g>
<text x="17.70" y="838" font-size="12.5" fill="#000" stroke="#000" stroke-width="0.2" textLength="79.09" lengthAdjust="spacingAndGlyphs">EURUSD,Daily</text>
<path d="M1630.8 828.5 L1627 832 L1630.8 835.5 Z" fill="#a0a0a0"/>
<path d="M1645.8 828.5 L1649.6 832 L1645.8 835.5 Z" fill="#a0a0a0"/>
<text x="119.40" y="838" font-size="12.5" fill="#6d6d6d" textLength="78.40" lengthAdjust="spacingAndGlyphs">USDCHF,Daily</text>
<text x="220.50" y="838" font-size="12.5" fill="#6d6d6d" textLength="81.49" lengthAdjust="spacingAndGlyphs">AUDUSD,Daily</text>
<text x="324.50" y="838" font-size="12.5" fill="#6d6d6d" textLength="80.29" lengthAdjust="spacingAndGlyphs">USDCAD,Daily</text>
<text x="427.40" y="838" font-size="12.5" fill="#6d6d6d" textLength="82.30" lengthAdjust="spacingAndGlyphs">USDCNH,Daily</text>
<text x="533.30" y="838" font-size="12.5" fill="#6d6d6d" textLength="67.21" lengthAdjust="spacingAndGlyphs">EURUSD,H1</text>
<text x="625.30" y="838" font-size="12.5" fill="#6d6d6d" textLength="79.80" lengthAdjust="spacingAndGlyphs">GBPUSD,Daily</text>
<text x="728.10" y="838" font-size="12.5" fill="#6d6d6d" textLength="68.40" lengthAdjust="spacingAndGlyphs">XAUUSD,H1</text>
<text x="820.10" y="838" font-size="12.5" fill="#6d6d6d" textLength="49.30" lengthAdjust="spacingAndGlyphs">HK50,H1</text>
<text x="892.70" y="838" font-size="12.5" fill="#6d6d6d" textLength="68.40" lengthAdjust="spacingAndGlyphs">UK100,Daily</text>
<text x="984.70" y="838" font-size="12.5" fill="#6d6d6d" textLength="55.70" lengthAdjust="spacingAndGlyphs">UK100,H1</text>
<text x="1064.50" y="838" font-size="12.5" fill="#6d6d6d" textLength="55.99" lengthAdjust="spacingAndGlyphs">GER30,H1</text>
<text x="1143.50" y="838" font-size="12.5" fill="#6d6d6d" textLength="54.21" lengthAdjust="spacingAndGlyphs">FRA40,H1</text>
<g shape-rendering="crispEdges">
<rect x="209" y="826" width="1" height="14" fill="#707070"/>
<rect x="313" y="826" width="1" height="14" fill="#707070"/>
<rect x="417" y="826" width="1" height="14" fill="#707070"/>
<rect x="521" y="826" width="1" height="14" fill="#707070"/>
<rect x="613" y="826" width="1" height="14" fill="#707070"/>
<rect x="717" y="826" width="1" height="14" fill="#707070"/>
<rect x="809" y="826" width="1" height="14" fill="#707070"/>
<rect x="881" y="826" width="1" height="14" fill="#707070"/>
<rect x="973" y="826" width="1" height="14" fill="#707070"/>
<rect x="1053" y="826" width="1" height="14" fill="#707070"/>
<rect x="1133" y="826" width="1" height="14" fill="#707070"/>
<rect x="1209" y="826" width="1" height="14" fill="#707070"/>
</g>
</svg></body></html>
